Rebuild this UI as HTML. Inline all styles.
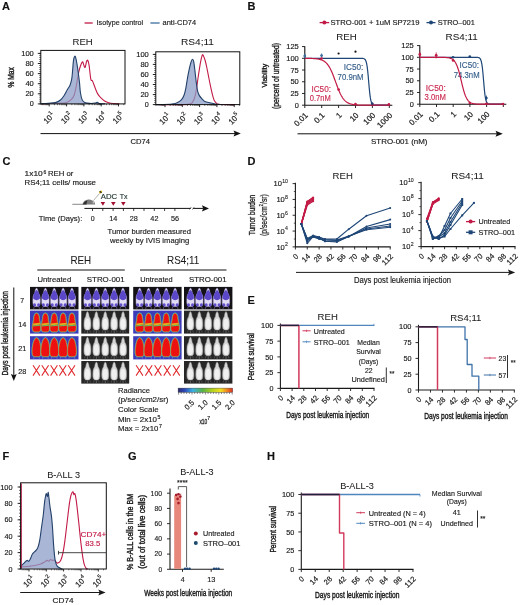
<!DOCTYPE html>
<html><head><meta charset="utf-8"><title>Figure</title>
<style>
html,body{margin:0;padding:0;background:#fff;}
body{width:520px;height:605px;overflow:hidden;}
svg{display:block;font-family:"Liberation Sans", sans-serif;will-change:transform;}
</style></head>
<body>
<svg width="520" height="605" viewBox="0 0 520 605">
<rect width="520" height="605" fill="#fff"/>
<text x="2.00" y="10.20" font-size="11" fill="#111" stroke="#111" stroke-width="0.15" font-weight="bold">A</text>
<line x1="84.60" y1="23.00" x2="92.70" y2="23.00" stroke="#c21a46" stroke-width="1.3"/>
<text x="96.60" y="25.30" font-size="7.4" fill="#1a1a1a" stroke="#1a1a1a" stroke-width="0.15" textLength="46.50" lengthAdjust="spacingAndGlyphs">Isotype control</text>
<line x1="150.40" y1="23.00" x2="159.60" y2="23.00" stroke="#3c6e9e" stroke-width="1.3"/>
<text x="162.60" y="25.30" font-size="7.4" fill="#1a1a1a" stroke="#1a1a1a" stroke-width="0.15" textLength="33.50" lengthAdjust="spacingAndGlyphs">anti-CD74</text>
<path d="M41.50,103.90 C43.80,103.80 51.27,103.48 55.30,103.30 C59.33,103.12 63.10,103.37 65.70,102.80 C68.30,102.23 69.47,101.25 70.90,99.90 C72.33,98.55 73.30,97.58 74.30,94.70 C75.30,91.82 76.25,85.97 76.90,82.60 C77.55,79.23 77.77,76.77 78.20,74.50 C78.63,72.23 78.98,70.78 79.50,69.00 C80.02,67.22 80.77,65.00 81.30,63.80 C81.83,62.60 82.27,61.55 82.70,61.80 C83.13,62.05 83.50,64.35 83.90,65.30 C84.30,66.25 84.67,68.08 85.10,67.50 C85.53,66.92 86.05,63.00 86.50,61.80 C86.95,60.60 87.37,59.72 87.80,60.30 C88.23,60.88 88.60,62.15 89.10,65.30 C89.60,68.45 90.23,76.60 90.80,79.20 C91.37,81.80 91.78,79.47 92.50,80.90 C93.22,82.33 94.23,85.63 95.10,87.80 C95.97,89.97 96.68,92.17 97.70,93.90 C98.72,95.63 99.90,96.92 101.20,98.20 C102.50,99.48 103.92,100.75 105.50,101.60 C107.08,102.45 108.40,102.92 110.70,103.30 C113.00,103.68 117.87,103.80 119.30,103.90" stroke="#c21a46" stroke-width="1.1" fill="none" stroke-linejoin="round"/>
<path d="M40.60,103.90 C41.90,103.78 45.95,103.42 48.40,103.20 C50.85,102.98 53.28,103.13 55.30,102.60 C57.32,102.07 59.05,101.13 60.50,100.00 C61.95,98.87 62.85,97.53 64.00,95.80 C65.15,94.07 66.40,91.37 67.40,89.60 C68.40,87.83 69.28,86.93 70.00,85.20 C70.72,83.47 71.27,81.65 71.70,79.20 C72.13,76.75 72.30,73.65 72.60,70.50 C72.90,67.35 73.15,62.67 73.50,60.30 C73.85,57.93 74.33,56.75 74.70,56.30 C75.07,55.85 75.33,56.38 75.70,57.60 C76.07,58.82 76.48,61.17 76.90,63.60 C77.32,66.03 77.77,69.03 78.20,72.20 C78.63,75.37 79.13,79.22 79.50,82.60 C79.87,85.98 79.97,89.67 80.40,92.50 C80.83,95.33 81.38,97.95 82.10,99.60 C82.82,101.25 83.40,101.77 84.70,102.40 C86.00,103.03 88.10,103.30 89.90,103.40 C91.70,103.50 94.27,103.20 95.50,103.00 C96.73,102.80 96.65,102.10 97.30,102.20 C97.95,102.30 98.12,103.32 99.40,103.60 C100.68,103.88 104.07,103.85 105.00,103.90" stroke="none" stroke-width="0" fill="#8b9cc6" stroke-linejoin="round" fill-opacity="0.74"/>
<path d="M40.60,103.90 C41.90,103.78 45.95,103.42 48.40,103.20 C50.85,102.98 53.28,103.13 55.30,102.60 C57.32,102.07 59.05,101.13 60.50,100.00 C61.95,98.87 62.85,97.53 64.00,95.80 C65.15,94.07 66.40,91.37 67.40,89.60 C68.40,87.83 69.28,86.93 70.00,85.20 C70.72,83.47 71.27,81.65 71.70,79.20 C72.13,76.75 72.30,73.65 72.60,70.50 C72.90,67.35 73.15,62.67 73.50,60.30 C73.85,57.93 74.33,56.75 74.70,56.30 C75.07,55.85 75.33,56.38 75.70,57.60 C76.07,58.82 76.48,61.17 76.90,63.60 C77.32,66.03 77.77,69.03 78.20,72.20 C78.63,75.37 79.13,79.22 79.50,82.60 C79.87,85.98 79.97,89.67 80.40,92.50 C80.83,95.33 81.38,97.95 82.10,99.60 C82.82,101.25 83.40,101.77 84.70,102.40 C86.00,103.03 88.10,103.30 89.90,103.40 C91.70,103.50 94.27,103.20 95.50,103.00 C96.73,102.80 96.65,102.10 97.30,102.20 C97.95,102.30 98.12,103.32 99.40,103.60 C100.68,103.88 104.07,103.85 105.00,103.90" stroke="#22406a" stroke-width="1.1" fill="none" stroke-linejoin="round"/>
<rect x="40.8" y="50.4" width="84.2" height="53.50000000000001" fill="none" stroke="#111" stroke-width="1"/>
<line x1="37.80" y1="53.40" x2="40.80" y2="53.40" stroke="#111" stroke-width="0.9"/>
<text x="33.80" y="55.90" font-size="7.3" fill="#1a1a1a" stroke="#1a1a1a" stroke-width="0.15" text-anchor="end" textLength="12.60" lengthAdjust="spacingAndGlyphs">100</text>
<line x1="37.80" y1="63.50" x2="40.80" y2="63.50" stroke="#111" stroke-width="0.9"/>
<text x="33.80" y="66.00" font-size="7.3" fill="#1a1a1a" stroke="#1a1a1a" stroke-width="0.15" text-anchor="end" textLength="8.40" lengthAdjust="spacingAndGlyphs">80</text>
<line x1="37.80" y1="73.60" x2="40.80" y2="73.60" stroke="#111" stroke-width="0.9"/>
<text x="33.80" y="76.10" font-size="7.3" fill="#1a1a1a" stroke="#1a1a1a" stroke-width="0.15" text-anchor="end" textLength="8.40" lengthAdjust="spacingAndGlyphs">60</text>
<line x1="37.80" y1="83.70" x2="40.80" y2="83.70" stroke="#111" stroke-width="0.9"/>
<text x="33.80" y="86.20" font-size="7.3" fill="#1a1a1a" stroke="#1a1a1a" stroke-width="0.15" text-anchor="end" textLength="8.40" lengthAdjust="spacingAndGlyphs">40</text>
<line x1="37.80" y1="93.80" x2="40.80" y2="93.80" stroke="#111" stroke-width="0.9"/>
<text x="33.80" y="96.30" font-size="7.3" fill="#1a1a1a" stroke="#1a1a1a" stroke-width="0.15" text-anchor="end" textLength="8.40" lengthAdjust="spacingAndGlyphs">20</text>
<line x1="37.80" y1="103.90" x2="40.80" y2="103.90" stroke="#111" stroke-width="0.9"/>
<text x="33.80" y="106.40" font-size="7.3" fill="#1a1a1a" stroke="#1a1a1a" stroke-width="0.15" text-anchor="end" textLength="4.00" lengthAdjust="spacingAndGlyphs">0</text>
<line x1="39.20" y1="103.90" x2="40.80" y2="103.90" stroke="#111" stroke-width="0.6"/>
<line x1="39.20" y1="101.88" x2="40.80" y2="101.88" stroke="#111" stroke-width="0.6"/>
<line x1="39.20" y1="99.86" x2="40.80" y2="99.86" stroke="#111" stroke-width="0.6"/>
<line x1="39.20" y1="97.84" x2="40.80" y2="97.84" stroke="#111" stroke-width="0.6"/>
<line x1="39.20" y1="95.82" x2="40.80" y2="95.82" stroke="#111" stroke-width="0.6"/>
<line x1="39.20" y1="93.80" x2="40.80" y2="93.80" stroke="#111" stroke-width="0.6"/>
<line x1="39.20" y1="91.78" x2="40.80" y2="91.78" stroke="#111" stroke-width="0.6"/>
<line x1="39.20" y1="89.76" x2="40.80" y2="89.76" stroke="#111" stroke-width="0.6"/>
<line x1="39.20" y1="87.74" x2="40.80" y2="87.74" stroke="#111" stroke-width="0.6"/>
<line x1="39.20" y1="85.72" x2="40.80" y2="85.72" stroke="#111" stroke-width="0.6"/>
<line x1="39.20" y1="83.70" x2="40.80" y2="83.70" stroke="#111" stroke-width="0.6"/>
<line x1="39.20" y1="81.68" x2="40.80" y2="81.68" stroke="#111" stroke-width="0.6"/>
<line x1="39.20" y1="79.66" x2="40.80" y2="79.66" stroke="#111" stroke-width="0.6"/>
<line x1="39.20" y1="77.64" x2="40.80" y2="77.64" stroke="#111" stroke-width="0.6"/>
<line x1="39.20" y1="75.62" x2="40.80" y2="75.62" stroke="#111" stroke-width="0.6"/>
<line x1="39.20" y1="73.60" x2="40.80" y2="73.60" stroke="#111" stroke-width="0.6"/>
<line x1="39.20" y1="71.58" x2="40.80" y2="71.58" stroke="#111" stroke-width="0.6"/>
<line x1="39.20" y1="69.56" x2="40.80" y2="69.56" stroke="#111" stroke-width="0.6"/>
<line x1="39.20" y1="67.54" x2="40.80" y2="67.54" stroke="#111" stroke-width="0.6"/>
<line x1="39.20" y1="65.52" x2="40.80" y2="65.52" stroke="#111" stroke-width="0.6"/>
<line x1="39.20" y1="63.50" x2="40.80" y2="63.50" stroke="#111" stroke-width="0.6"/>
<line x1="39.20" y1="61.48" x2="40.80" y2="61.48" stroke="#111" stroke-width="0.6"/>
<line x1="39.20" y1="59.46" x2="40.80" y2="59.46" stroke="#111" stroke-width="0.6"/>
<line x1="39.20" y1="57.44" x2="40.80" y2="57.44" stroke="#111" stroke-width="0.6"/>
<line x1="39.20" y1="55.42" x2="40.80" y2="55.42" stroke="#111" stroke-width="0.6"/>
<line x1="39.20" y1="53.40" x2="40.80" y2="53.40" stroke="#111" stroke-width="0.6"/>
<line x1="49.20" y1="103.90" x2="49.20" y2="106.40" stroke="#111" stroke-width="0.9"/>
<line x1="54.44" y1="103.90" x2="54.44" y2="105.20" stroke="#111" stroke-width="0.6"/>
<line x1="57.50" y1="103.90" x2="57.50" y2="105.20" stroke="#111" stroke-width="0.6"/>
<line x1="59.68" y1="103.90" x2="59.68" y2="105.20" stroke="#111" stroke-width="0.6"/>
<line x1="61.36" y1="103.90" x2="61.36" y2="105.20" stroke="#111" stroke-width="0.6"/>
<line x1="62.74" y1="103.90" x2="62.74" y2="105.20" stroke="#111" stroke-width="0.6"/>
<line x1="63.90" y1="103.90" x2="63.90" y2="105.20" stroke="#111" stroke-width="0.6"/>
<line x1="64.91" y1="103.90" x2="64.91" y2="105.20" stroke="#111" stroke-width="0.6"/>
<line x1="65.80" y1="103.90" x2="65.80" y2="105.20" stroke="#111" stroke-width="0.6"/>
<line x1="66.60" y1="103.90" x2="66.60" y2="106.40" stroke="#111" stroke-width="0.9"/>
<line x1="71.84" y1="103.90" x2="71.84" y2="105.20" stroke="#111" stroke-width="0.6"/>
<line x1="74.90" y1="103.90" x2="74.90" y2="105.20" stroke="#111" stroke-width="0.6"/>
<line x1="77.08" y1="103.90" x2="77.08" y2="105.20" stroke="#111" stroke-width="0.6"/>
<line x1="78.76" y1="103.90" x2="78.76" y2="105.20" stroke="#111" stroke-width="0.6"/>
<line x1="80.14" y1="103.90" x2="80.14" y2="105.20" stroke="#111" stroke-width="0.6"/>
<line x1="81.30" y1="103.90" x2="81.30" y2="105.20" stroke="#111" stroke-width="0.6"/>
<line x1="82.31" y1="103.90" x2="82.31" y2="105.20" stroke="#111" stroke-width="0.6"/>
<line x1="83.20" y1="103.90" x2="83.20" y2="105.20" stroke="#111" stroke-width="0.6"/>
<line x1="83.90" y1="103.90" x2="83.90" y2="106.40" stroke="#111" stroke-width="0.9"/>
<line x1="89.14" y1="103.90" x2="89.14" y2="105.20" stroke="#111" stroke-width="0.6"/>
<line x1="92.20" y1="103.90" x2="92.20" y2="105.20" stroke="#111" stroke-width="0.6"/>
<line x1="94.38" y1="103.90" x2="94.38" y2="105.20" stroke="#111" stroke-width="0.6"/>
<line x1="96.06" y1="103.90" x2="96.06" y2="105.20" stroke="#111" stroke-width="0.6"/>
<line x1="97.44" y1="103.90" x2="97.44" y2="105.20" stroke="#111" stroke-width="0.6"/>
<line x1="98.60" y1="103.90" x2="98.60" y2="105.20" stroke="#111" stroke-width="0.6"/>
<line x1="99.61" y1="103.90" x2="99.61" y2="105.20" stroke="#111" stroke-width="0.6"/>
<line x1="100.50" y1="103.90" x2="100.50" y2="105.20" stroke="#111" stroke-width="0.6"/>
<line x1="101.20" y1="103.90" x2="101.20" y2="106.40" stroke="#111" stroke-width="0.9"/>
<line x1="106.44" y1="103.90" x2="106.44" y2="105.20" stroke="#111" stroke-width="0.6"/>
<line x1="109.50" y1="103.90" x2="109.50" y2="105.20" stroke="#111" stroke-width="0.6"/>
<line x1="111.68" y1="103.90" x2="111.68" y2="105.20" stroke="#111" stroke-width="0.6"/>
<line x1="113.36" y1="103.90" x2="113.36" y2="105.20" stroke="#111" stroke-width="0.6"/>
<line x1="114.74" y1="103.90" x2="114.74" y2="105.20" stroke="#111" stroke-width="0.6"/>
<line x1="115.90" y1="103.90" x2="115.90" y2="105.20" stroke="#111" stroke-width="0.6"/>
<line x1="116.91" y1="103.90" x2="116.91" y2="105.20" stroke="#111" stroke-width="0.6"/>
<line x1="117.80" y1="103.90" x2="117.80" y2="105.20" stroke="#111" stroke-width="0.6"/>
<line x1="118.50" y1="103.90" x2="118.50" y2="106.40" stroke="#111" stroke-width="0.9"/>
<line x1="123.74" y1="103.90" x2="123.74" y2="105.20" stroke="#111" stroke-width="0.6"/>
<line x1="42.28" y1="103.90" x2="42.28" y2="105.20" stroke="#111" stroke-width="0.6"/>
<line x1="43.96" y1="103.90" x2="43.96" y2="105.20" stroke="#111" stroke-width="0.6"/>
<line x1="45.34" y1="103.90" x2="45.34" y2="105.20" stroke="#111" stroke-width="0.6"/>
<line x1="46.50" y1="103.90" x2="46.50" y2="105.20" stroke="#111" stroke-width="0.6"/>
<line x1="47.51" y1="103.90" x2="47.51" y2="105.20" stroke="#111" stroke-width="0.6"/>
<line x1="48.40" y1="103.90" x2="48.40" y2="105.20" stroke="#111" stroke-width="0.6"/>
<g transform="translate(46.80,124.30) rotate(-45)"><text x="0" y="0" font-size="8.0" fill="#1a1a1a" stroke="#1a1a1a" stroke-width="0.2" textLength="8.6" lengthAdjust="spacingAndGlyphs">10</text><text x="9.0" y="-3.8" font-size="5.6" fill="#1a1a1a" stroke="#1a1a1a" stroke-width="0.15">1</text></g>
<g transform="translate(64.20,124.30) rotate(-45)"><text x="0" y="0" font-size="8.0" fill="#1a1a1a" stroke="#1a1a1a" stroke-width="0.2" textLength="8.6" lengthAdjust="spacingAndGlyphs">10</text><text x="9.0" y="-3.8" font-size="5.6" fill="#1a1a1a" stroke="#1a1a1a" stroke-width="0.15">2</text></g>
<g transform="translate(81.50,124.30) rotate(-45)"><text x="0" y="0" font-size="8.0" fill="#1a1a1a" stroke="#1a1a1a" stroke-width="0.2" textLength="8.6" lengthAdjust="spacingAndGlyphs">10</text><text x="9.0" y="-3.8" font-size="5.6" fill="#1a1a1a" stroke="#1a1a1a" stroke-width="0.15">3</text></g>
<g transform="translate(98.80,124.30) rotate(-45)"><text x="0" y="0" font-size="8.0" fill="#1a1a1a" stroke="#1a1a1a" stroke-width="0.2" textLength="8.6" lengthAdjust="spacingAndGlyphs">10</text><text x="9.0" y="-3.8" font-size="5.6" fill="#1a1a1a" stroke="#1a1a1a" stroke-width="0.15">4</text></g>
<g transform="translate(116.10,124.30) rotate(-45)"><text x="0" y="0" font-size="8.0" fill="#1a1a1a" stroke="#1a1a1a" stroke-width="0.2" textLength="8.6" lengthAdjust="spacingAndGlyphs">10</text><text x="9.0" y="-3.8" font-size="5.6" fill="#1a1a1a" stroke="#1a1a1a" stroke-width="0.15">5</text></g>
<text x="72.50" y="44.60" font-size="9.6" fill="#1a1a1a" stroke="#1a1a1a" stroke-width="0.05" textLength="20.20" lengthAdjust="spacingAndGlyphs">REH</text>
<text x="14.00" y="87.40" font-size="8.4" fill="#1a1a1a" stroke="#1a1a1a" stroke-width="0.4" textLength="20.20" lengthAdjust="spacingAndGlyphs" transform="rotate(-90 14.00 87.40)">% Max</text>
<path d="M160.00,104.60 C164.60,104.57 182.13,104.88 187.60,104.40 C193.07,103.92 191.50,103.32 192.80,101.70 C194.10,100.08 194.68,97.60 195.40,94.70 C196.12,91.80 196.52,88.05 197.10,84.30 C197.68,80.55 198.32,75.95 198.90,72.20 C199.48,68.45 200.08,64.53 200.60,61.80 C201.12,59.07 201.63,56.97 202.00,55.80 C202.37,54.63 202.45,54.52 202.80,54.80 C203.15,55.08 203.68,56.47 204.10,57.50 C204.52,58.53 204.87,59.42 205.30,61.00 C205.73,62.58 206.18,64.55 206.70,67.00 C207.22,69.45 207.77,72.52 208.40,75.70 C209.03,78.88 209.78,82.78 210.50,86.10 C211.22,89.42 212.05,93.15 212.70,95.60 C213.35,98.05 213.68,99.45 214.40,100.80 C215.12,102.15 215.98,103.08 217.00,103.70 C218.02,104.32 217.50,104.35 220.50,104.50 C223.50,104.65 232.58,104.58 235.00,104.60" stroke="#c21a46" stroke-width="1.1" fill="none" stroke-linejoin="round"/>
<path d="M156.00,104.60 C158.33,104.53 167.03,104.33 170.00,104.20 C172.97,104.07 172.60,104.03 173.80,103.80 C175.00,103.57 175.90,103.48 177.20,102.80 C178.50,102.12 180.43,101.05 181.60,99.70 C182.77,98.35 183.48,96.68 184.20,94.70 C184.92,92.72 185.33,90.68 185.90,87.80 C186.47,84.92 187.03,80.57 187.60,77.40 C188.17,74.23 188.72,71.40 189.30,68.80 C189.88,66.20 190.57,63.40 191.10,61.80 C191.63,60.20 192.07,59.23 192.50,59.20 C192.93,59.17 193.30,59.72 193.70,61.60 C194.10,63.48 194.47,67.00 194.90,70.50 C195.33,74.00 195.83,79.13 196.30,82.60 C196.77,86.07 197.18,89.13 197.70,91.30 C198.22,93.47 198.63,94.30 199.40,95.60 C200.17,96.90 201.38,98.12 202.30,99.10 C203.22,100.08 203.60,100.87 204.90,101.50 C206.20,102.13 208.37,102.48 210.10,102.90 C211.83,103.32 213.32,103.72 215.30,104.00 C217.28,104.28 220.88,104.50 222.00,104.60" stroke="none" stroke-width="0" fill="#8b9cc6" stroke-linejoin="round" fill-opacity="0.74"/>
<path d="M156.00,104.60 C158.33,104.53 167.03,104.33 170.00,104.20 C172.97,104.07 172.60,104.03 173.80,103.80 C175.00,103.57 175.90,103.48 177.20,102.80 C178.50,102.12 180.43,101.05 181.60,99.70 C182.77,98.35 183.48,96.68 184.20,94.70 C184.92,92.72 185.33,90.68 185.90,87.80 C186.47,84.92 187.03,80.57 187.60,77.40 C188.17,74.23 188.72,71.40 189.30,68.80 C189.88,66.20 190.57,63.40 191.10,61.80 C191.63,60.20 192.07,59.23 192.50,59.20 C192.93,59.17 193.30,59.72 193.70,61.60 C194.10,63.48 194.47,67.00 194.90,70.50 C195.33,74.00 195.83,79.13 196.30,82.60 C196.77,86.07 197.18,89.13 197.70,91.30 C198.22,93.47 198.63,94.30 199.40,95.60 C200.17,96.90 201.38,98.12 202.30,99.10 C203.22,100.08 203.60,100.87 204.90,101.50 C206.20,102.13 208.37,102.48 210.10,102.90 C211.83,103.32 213.32,103.72 215.30,104.00 C217.28,104.28 220.88,104.50 222.00,104.60" stroke="#22406a" stroke-width="1.1" fill="none" stroke-linejoin="round"/>
<rect x="155.8" y="51.8" width="84.0" height="52.8" fill="none" stroke="#111" stroke-width="1"/>
<line x1="152.80" y1="54.40" x2="155.80" y2="54.40" stroke="#111" stroke-width="0.9"/>
<text x="148.80" y="56.90" font-size="7.3" fill="#1a1a1a" stroke="#1a1a1a" stroke-width="0.15" text-anchor="end" textLength="12.60" lengthAdjust="spacingAndGlyphs">100</text>
<line x1="152.80" y1="64.40" x2="155.80" y2="64.40" stroke="#111" stroke-width="0.9"/>
<text x="148.80" y="66.90" font-size="7.3" fill="#1a1a1a" stroke="#1a1a1a" stroke-width="0.15" text-anchor="end" textLength="8.40" lengthAdjust="spacingAndGlyphs">80</text>
<line x1="152.80" y1="74.50" x2="155.80" y2="74.50" stroke="#111" stroke-width="0.9"/>
<text x="148.80" y="77.00" font-size="7.3" fill="#1a1a1a" stroke="#1a1a1a" stroke-width="0.15" text-anchor="end" textLength="8.40" lengthAdjust="spacingAndGlyphs">60</text>
<line x1="152.80" y1="84.50" x2="155.80" y2="84.50" stroke="#111" stroke-width="0.9"/>
<text x="148.80" y="87.00" font-size="7.3" fill="#1a1a1a" stroke="#1a1a1a" stroke-width="0.15" text-anchor="end" textLength="8.40" lengthAdjust="spacingAndGlyphs">40</text>
<line x1="152.80" y1="94.60" x2="155.80" y2="94.60" stroke="#111" stroke-width="0.9"/>
<text x="148.80" y="97.10" font-size="7.3" fill="#1a1a1a" stroke="#1a1a1a" stroke-width="0.15" text-anchor="end" textLength="8.40" lengthAdjust="spacingAndGlyphs">20</text>
<line x1="152.80" y1="104.60" x2="155.80" y2="104.60" stroke="#111" stroke-width="0.9"/>
<text x="148.80" y="107.10" font-size="7.3" fill="#1a1a1a" stroke="#1a1a1a" stroke-width="0.15" text-anchor="end" textLength="4.00" lengthAdjust="spacingAndGlyphs">0</text>
<line x1="154.20" y1="104.60" x2="155.80" y2="104.60" stroke="#111" stroke-width="0.6"/>
<line x1="154.20" y1="102.59" x2="155.80" y2="102.59" stroke="#111" stroke-width="0.6"/>
<line x1="154.20" y1="100.58" x2="155.80" y2="100.58" stroke="#111" stroke-width="0.6"/>
<line x1="154.20" y1="98.58" x2="155.80" y2="98.58" stroke="#111" stroke-width="0.6"/>
<line x1="154.20" y1="96.57" x2="155.80" y2="96.57" stroke="#111" stroke-width="0.6"/>
<line x1="154.20" y1="94.56" x2="155.80" y2="94.56" stroke="#111" stroke-width="0.6"/>
<line x1="154.20" y1="92.55" x2="155.80" y2="92.55" stroke="#111" stroke-width="0.6"/>
<line x1="154.20" y1="90.54" x2="155.80" y2="90.54" stroke="#111" stroke-width="0.6"/>
<line x1="154.20" y1="88.54" x2="155.80" y2="88.54" stroke="#111" stroke-width="0.6"/>
<line x1="154.20" y1="86.53" x2="155.80" y2="86.53" stroke="#111" stroke-width="0.6"/>
<line x1="154.20" y1="84.52" x2="155.80" y2="84.52" stroke="#111" stroke-width="0.6"/>
<line x1="154.20" y1="82.51" x2="155.80" y2="82.51" stroke="#111" stroke-width="0.6"/>
<line x1="154.20" y1="80.50" x2="155.80" y2="80.50" stroke="#111" stroke-width="0.6"/>
<line x1="154.20" y1="78.50" x2="155.80" y2="78.50" stroke="#111" stroke-width="0.6"/>
<line x1="154.20" y1="76.49" x2="155.80" y2="76.49" stroke="#111" stroke-width="0.6"/>
<line x1="154.20" y1="74.48" x2="155.80" y2="74.48" stroke="#111" stroke-width="0.6"/>
<line x1="154.20" y1="72.47" x2="155.80" y2="72.47" stroke="#111" stroke-width="0.6"/>
<line x1="154.20" y1="70.46" x2="155.80" y2="70.46" stroke="#111" stroke-width="0.6"/>
<line x1="154.20" y1="68.46" x2="155.80" y2="68.46" stroke="#111" stroke-width="0.6"/>
<line x1="154.20" y1="66.45" x2="155.80" y2="66.45" stroke="#111" stroke-width="0.6"/>
<line x1="154.20" y1="64.44" x2="155.80" y2="64.44" stroke="#111" stroke-width="0.6"/>
<line x1="154.20" y1="62.43" x2="155.80" y2="62.43" stroke="#111" stroke-width="0.6"/>
<line x1="154.20" y1="60.42" x2="155.80" y2="60.42" stroke="#111" stroke-width="0.6"/>
<line x1="154.20" y1="58.42" x2="155.80" y2="58.42" stroke="#111" stroke-width="0.6"/>
<line x1="154.20" y1="56.41" x2="155.80" y2="56.41" stroke="#111" stroke-width="0.6"/>
<line x1="154.20" y1="54.40" x2="155.80" y2="54.40" stroke="#111" stroke-width="0.6"/>
<line x1="165.00" y1="104.60" x2="165.00" y2="107.10" stroke="#111" stroke-width="0.9"/>
<line x1="170.21" y1="104.60" x2="170.21" y2="105.90" stroke="#111" stroke-width="0.6"/>
<line x1="173.25" y1="104.60" x2="173.25" y2="105.90" stroke="#111" stroke-width="0.6"/>
<line x1="175.42" y1="104.60" x2="175.42" y2="105.90" stroke="#111" stroke-width="0.6"/>
<line x1="177.09" y1="104.60" x2="177.09" y2="105.90" stroke="#111" stroke-width="0.6"/>
<line x1="178.46" y1="104.60" x2="178.46" y2="105.90" stroke="#111" stroke-width="0.6"/>
<line x1="179.62" y1="104.60" x2="179.62" y2="105.90" stroke="#111" stroke-width="0.6"/>
<line x1="180.62" y1="104.60" x2="180.62" y2="105.90" stroke="#111" stroke-width="0.6"/>
<line x1="181.51" y1="104.60" x2="181.51" y2="105.90" stroke="#111" stroke-width="0.6"/>
<line x1="182.30" y1="104.60" x2="182.30" y2="107.10" stroke="#111" stroke-width="0.9"/>
<line x1="187.51" y1="104.60" x2="187.51" y2="105.90" stroke="#111" stroke-width="0.6"/>
<line x1="190.55" y1="104.60" x2="190.55" y2="105.90" stroke="#111" stroke-width="0.6"/>
<line x1="192.72" y1="104.60" x2="192.72" y2="105.90" stroke="#111" stroke-width="0.6"/>
<line x1="194.39" y1="104.60" x2="194.39" y2="105.90" stroke="#111" stroke-width="0.6"/>
<line x1="195.76" y1="104.60" x2="195.76" y2="105.90" stroke="#111" stroke-width="0.6"/>
<line x1="196.92" y1="104.60" x2="196.92" y2="105.90" stroke="#111" stroke-width="0.6"/>
<line x1="197.92" y1="104.60" x2="197.92" y2="105.90" stroke="#111" stroke-width="0.6"/>
<line x1="198.81" y1="104.60" x2="198.81" y2="105.90" stroke="#111" stroke-width="0.6"/>
<line x1="199.60" y1="104.60" x2="199.60" y2="107.10" stroke="#111" stroke-width="0.9"/>
<line x1="204.81" y1="104.60" x2="204.81" y2="105.90" stroke="#111" stroke-width="0.6"/>
<line x1="207.85" y1="104.60" x2="207.85" y2="105.90" stroke="#111" stroke-width="0.6"/>
<line x1="210.02" y1="104.60" x2="210.02" y2="105.90" stroke="#111" stroke-width="0.6"/>
<line x1="211.69" y1="104.60" x2="211.69" y2="105.90" stroke="#111" stroke-width="0.6"/>
<line x1="213.06" y1="104.60" x2="213.06" y2="105.90" stroke="#111" stroke-width="0.6"/>
<line x1="214.22" y1="104.60" x2="214.22" y2="105.90" stroke="#111" stroke-width="0.6"/>
<line x1="215.22" y1="104.60" x2="215.22" y2="105.90" stroke="#111" stroke-width="0.6"/>
<line x1="216.11" y1="104.60" x2="216.11" y2="105.90" stroke="#111" stroke-width="0.6"/>
<line x1="216.90" y1="104.60" x2="216.90" y2="107.10" stroke="#111" stroke-width="0.9"/>
<line x1="222.11" y1="104.60" x2="222.11" y2="105.90" stroke="#111" stroke-width="0.6"/>
<line x1="225.15" y1="104.60" x2="225.15" y2="105.90" stroke="#111" stroke-width="0.6"/>
<line x1="227.32" y1="104.60" x2="227.32" y2="105.90" stroke="#111" stroke-width="0.6"/>
<line x1="228.99" y1="104.60" x2="228.99" y2="105.90" stroke="#111" stroke-width="0.6"/>
<line x1="230.36" y1="104.60" x2="230.36" y2="105.90" stroke="#111" stroke-width="0.6"/>
<line x1="231.52" y1="104.60" x2="231.52" y2="105.90" stroke="#111" stroke-width="0.6"/>
<line x1="232.52" y1="104.60" x2="232.52" y2="105.90" stroke="#111" stroke-width="0.6"/>
<line x1="233.41" y1="104.60" x2="233.41" y2="105.90" stroke="#111" stroke-width="0.6"/>
<line x1="234.20" y1="104.60" x2="234.20" y2="107.10" stroke="#111" stroke-width="0.9"/>
<line x1="239.41" y1="104.60" x2="239.41" y2="105.90" stroke="#111" stroke-width="0.6"/>
<line x1="155.95" y1="104.60" x2="155.95" y2="105.90" stroke="#111" stroke-width="0.6"/>
<line x1="158.12" y1="104.60" x2="158.12" y2="105.90" stroke="#111" stroke-width="0.6"/>
<line x1="159.79" y1="104.60" x2="159.79" y2="105.90" stroke="#111" stroke-width="0.6"/>
<line x1="161.16" y1="104.60" x2="161.16" y2="105.90" stroke="#111" stroke-width="0.6"/>
<line x1="162.32" y1="104.60" x2="162.32" y2="105.90" stroke="#111" stroke-width="0.6"/>
<line x1="163.32" y1="104.60" x2="163.32" y2="105.90" stroke="#111" stroke-width="0.6"/>
<line x1="164.21" y1="104.60" x2="164.21" y2="105.90" stroke="#111" stroke-width="0.6"/>
<g transform="translate(162.60,125.00) rotate(-45)"><text x="0" y="0" font-size="8.0" fill="#1a1a1a" stroke="#1a1a1a" stroke-width="0.2" textLength="8.6" lengthAdjust="spacingAndGlyphs">10</text><text x="9.0" y="-3.8" font-size="5.6" fill="#1a1a1a" stroke="#1a1a1a" stroke-width="0.15">1</text></g>
<g transform="translate(179.90,125.00) rotate(-45)"><text x="0" y="0" font-size="8.0" fill="#1a1a1a" stroke="#1a1a1a" stroke-width="0.2" textLength="8.6" lengthAdjust="spacingAndGlyphs">10</text><text x="9.0" y="-3.8" font-size="5.6" fill="#1a1a1a" stroke="#1a1a1a" stroke-width="0.15">2</text></g>
<g transform="translate(197.20,125.00) rotate(-45)"><text x="0" y="0" font-size="8.0" fill="#1a1a1a" stroke="#1a1a1a" stroke-width="0.2" textLength="8.6" lengthAdjust="spacingAndGlyphs">10</text><text x="9.0" y="-3.8" font-size="5.6" fill="#1a1a1a" stroke="#1a1a1a" stroke-width="0.15">3</text></g>
<g transform="translate(214.50,125.00) rotate(-45)"><text x="0" y="0" font-size="8.0" fill="#1a1a1a" stroke="#1a1a1a" stroke-width="0.2" textLength="8.6" lengthAdjust="spacingAndGlyphs">10</text><text x="9.0" y="-3.8" font-size="5.6" fill="#1a1a1a" stroke="#1a1a1a" stroke-width="0.15">4</text></g>
<g transform="translate(231.80,125.00) rotate(-45)"><text x="0" y="0" font-size="8.0" fill="#1a1a1a" stroke="#1a1a1a" stroke-width="0.2" textLength="8.6" lengthAdjust="spacingAndGlyphs">10</text><text x="9.0" y="-3.8" font-size="5.6" fill="#1a1a1a" stroke="#1a1a1a" stroke-width="0.15">5</text></g>
<text x="181.00" y="45.30" font-size="9.6" fill="#1a1a1a" stroke="#1a1a1a" stroke-width="0.05" textLength="33.00" lengthAdjust="spacingAndGlyphs">RS4;11</text>
<line x1="40.50" y1="133.60" x2="236.00" y2="133.60" stroke="#111" stroke-width="1.0"/>
<path d="M240.8,133.6 L233.5,130.6 L234.8,133.6 L233.5,136.6 Z" fill="#111"/>
<text x="130.50" y="144.00" font-size="7.4" fill="#1a1a1a" stroke="#1a1a1a" stroke-width="0.15" textLength="19.50" lengthAdjust="spacingAndGlyphs">CD74</text>
<text x="247.50" y="10.20" font-size="11" fill="#111" stroke="#111" stroke-width="0.15" font-weight="bold">B</text>
<line x1="319.60" y1="22.60" x2="329.20" y2="22.60" stroke="#c21a46" stroke-width="1.3"/>
<circle cx="324.4" cy="22.6" r="2.0" fill="#c21a46"/>
<text x="330.50" y="25.10" font-size="7.4" fill="#1a1a1a" stroke="#1a1a1a" stroke-width="0.15" textLength="89.00" lengthAdjust="spacingAndGlyphs">STRO-001 + 1uM SP7219</text>
<line x1="426.50" y1="22.60" x2="435.50" y2="22.60" stroke="#1e4676" stroke-width="1.3"/>
<circle cx="431" cy="22.6" r="2.0" fill="#1e4676"/>
<text x="437.80" y="25.10" font-size="7.4" fill="#1a1a1a" stroke="#1a1a1a" stroke-width="0.15" textLength="37.00" lengthAdjust="spacingAndGlyphs">STRO–001</text>
<line x1="304.80" y1="46.27" x2="304.80" y2="105.20" stroke="#111" stroke-width="1.1"/>
<line x1="302.00" y1="105.20" x2="304.80" y2="105.20" stroke="#111" stroke-width="0.9"/>
<text x="298.80" y="107.70" font-size="7.3" fill="#1a1a1a" stroke="#1a1a1a" stroke-width="0.15" text-anchor="end" textLength="4.10" lengthAdjust="spacingAndGlyphs">0</text>
<line x1="302.00" y1="93.47" x2="304.80" y2="93.47" stroke="#111" stroke-width="0.9"/>
<text x="298.80" y="95.97" font-size="7.3" fill="#1a1a1a" stroke="#1a1a1a" stroke-width="0.15" text-anchor="end" textLength="8.40" lengthAdjust="spacingAndGlyphs">25</text>
<line x1="302.00" y1="81.75" x2="304.80" y2="81.75" stroke="#111" stroke-width="0.9"/>
<text x="298.80" y="84.25" font-size="7.3" fill="#1a1a1a" stroke="#1a1a1a" stroke-width="0.15" text-anchor="end" textLength="8.40" lengthAdjust="spacingAndGlyphs">50</text>
<line x1="302.00" y1="70.03" x2="304.80" y2="70.03" stroke="#111" stroke-width="0.9"/>
<text x="298.80" y="72.53" font-size="7.3" fill="#1a1a1a" stroke="#1a1a1a" stroke-width="0.15" text-anchor="end" textLength="8.40" lengthAdjust="spacingAndGlyphs">75</text>
<line x1="302.00" y1="58.30" x2="304.80" y2="58.30" stroke="#111" stroke-width="0.9"/>
<text x="298.80" y="60.80" font-size="7.3" fill="#1a1a1a" stroke="#1a1a1a" stroke-width="0.15" text-anchor="end" textLength="12.60" lengthAdjust="spacingAndGlyphs">100</text>
<line x1="302.00" y1="46.57" x2="304.80" y2="46.57" stroke="#111" stroke-width="0.9"/>
<text x="298.80" y="49.07" font-size="7.3" fill="#1a1a1a" stroke="#1a1a1a" stroke-width="0.15" text-anchor="end" textLength="12.60" lengthAdjust="spacingAndGlyphs">125</text>
<line x1="304.80" y1="105.20" x2="392.30" y2="105.20" stroke="#111" stroke-width="1.1"/>
<line x1="304.80" y1="105.20" x2="304.80" y2="108.00" stroke="#111" stroke-width="0.9"/>
<line x1="321.70" y1="105.20" x2="321.70" y2="108.00" stroke="#111" stroke-width="0.9"/>
<line x1="338.60" y1="105.20" x2="338.60" y2="108.00" stroke="#111" stroke-width="0.9"/>
<line x1="355.50" y1="105.20" x2="355.50" y2="108.00" stroke="#111" stroke-width="0.9"/>
<line x1="372.40" y1="105.20" x2="372.40" y2="108.00" stroke="#111" stroke-width="0.9"/>
<line x1="389.30" y1="105.20" x2="389.30" y2="108.00" stroke="#111" stroke-width="0.9"/>
<g transform="translate(308.40,115.80) rotate(-45)"><text x="0" y="0" font-size="8.0" fill="#1a1a1a" stroke="#1a1a1a" stroke-width="0.2" text-anchor="end" textLength="15.6" lengthAdjust="spacingAndGlyphs">0.01</text></g>
<g transform="translate(325.30,115.80) rotate(-45)"><text x="0" y="0" font-size="8.0" fill="#1a1a1a" stroke="#1a1a1a" stroke-width="0.2" text-anchor="end" textLength="11.4" lengthAdjust="spacingAndGlyphs">0.1</text></g>
<g transform="translate(342.20,115.80) rotate(-45)"><text x="0" y="0" font-size="8.0" fill="#1a1a1a" stroke="#1a1a1a" stroke-width="0.2" text-anchor="end" textLength="4.3" lengthAdjust="spacingAndGlyphs">1</text></g>
<g transform="translate(359.10,115.80) rotate(-45)"><text x="0" y="0" font-size="8.0" fill="#1a1a1a" stroke="#1a1a1a" stroke-width="0.2" text-anchor="end" textLength="8.8" lengthAdjust="spacingAndGlyphs">10</text></g>
<g transform="translate(376.00,115.80) rotate(-45)"><text x="0" y="0" font-size="8.0" fill="#1a1a1a" stroke="#1a1a1a" stroke-width="0.2" text-anchor="end" textLength="13.3" lengthAdjust="spacingAndGlyphs">100</text></g>
<g transform="translate(392.90,115.80) rotate(-45)"><text x="0" y="0" font-size="8.0" fill="#1a1a1a" stroke="#1a1a1a" stroke-width="0.2" text-anchor="end" textLength="17.8" lengthAdjust="spacingAndGlyphs">1000</text></g>
<text x="336.20" y="40.00" font-size="9.6" fill="#1a1a1a" stroke="#1a1a1a" stroke-width="0.05" textLength="20.50" lengthAdjust="spacingAndGlyphs">REH</text>
<text x="343.80" y="70.30" font-size="8.6" fill="#38618c" stroke="#38618c" stroke-width="0.15" textLength="19.60" lengthAdjust="spacingAndGlyphs">IC50:</text>
<text x="337.60" y="80.30" font-size="8.6" fill="#38618c" stroke="#38618c" stroke-width="0.15" textLength="26.00" lengthAdjust="spacingAndGlyphs">70.9nM</text>
<text x="311.40" y="91.50" font-size="8.6" fill="#cc2c52" stroke="#cc2c52" stroke-width="0.15" textLength="19.60" lengthAdjust="spacingAndGlyphs">IC50:</text>
<text x="309.80" y="101.20" font-size="8.6" fill="#cc2c52" stroke="#cc2c52" stroke-width="0.15" textLength="21.00" lengthAdjust="spacingAndGlyphs">0.7nM</text>
<path d="M304.80,58.30 L305.33,58.30 L305.86,58.30 L306.38,58.30 L306.91,58.30 L307.44,58.30 L307.97,58.30 L308.50,58.30 L309.03,58.30 L309.55,58.30 L310.08,58.30 L310.61,58.30 L311.14,58.30 L311.67,58.30 L312.19,58.30 L312.72,58.30 L313.25,58.30 L313.78,58.30 L314.31,58.30 L314.83,58.30 L315.36,58.30 L315.89,58.30 L316.42,58.30 L316.95,58.30 L317.48,58.30 L318.00,58.30 L318.53,58.30 L319.06,58.30 L319.59,58.30 L320.12,58.30 L320.64,58.30 L321.17,58.30 L321.70,58.30 L322.23,58.30 L322.76,58.30 L323.28,58.30 L323.81,58.30 L324.34,58.30 L324.87,58.30 L325.40,58.30 L325.93,58.30 L326.45,58.30 L326.98,58.30 L327.51,58.30 L328.04,58.30 L328.57,58.30 L329.09,58.30 L329.62,58.30 L330.15,58.30 L330.68,58.30 L331.21,58.30 L331.73,58.30 L332.26,58.30 L332.79,58.30 L333.32,58.30 L333.85,58.30 L334.38,58.30 L334.90,58.30 L335.43,58.30 L335.96,58.30 L336.49,58.30 L337.02,58.30 L337.54,58.30 L338.07,58.30 L338.60,58.30 L339.13,58.30 L339.66,58.30 L340.18,58.30 L340.71,58.30 L341.24,58.30 L341.77,58.30 L342.30,58.30 L342.82,58.30 L343.35,58.30 L343.88,58.30 L344.41,58.30 L344.94,58.30 L345.47,58.30 L345.99,58.30 L346.52,58.30 L347.05,58.30 L347.58,58.30 L348.11,58.30 L348.63,58.30 L349.16,58.30 L349.69,58.30 L350.22,58.30 L350.75,58.30 L351.28,58.30 L351.80,58.30 L352.33,58.30 L352.86,58.30 L353.39,58.30 L353.92,58.30 L354.44,58.30 L354.97,58.30 L355.50,58.30 L356.03,58.30 L356.56,58.30 L357.08,58.30 L357.61,58.30 L358.14,58.30 L358.67,58.30 L359.20,58.30 L359.73,58.31 L360.25,58.31 L360.78,58.32 L361.31,58.33 L361.84,58.35 L362.37,58.38 L362.89,58.44 L363.42,58.53 L363.95,58.70 L364.48,58.97 L365.01,59.43 L365.53,60.20 L366.06,61.44 L366.59,63.40 L367.12,66.36 L367.65,70.54 L368.18,75.90 L368.70,82.00 L369.23,88.07 L369.76,93.34 L370.29,97.42 L370.82,100.29 L371.34,102.18 L371.87,103.38 L372.40,104.11 L372.93,104.55 L373.46,104.82 L373.98,104.97 L374.51,105.07 L375.04,105.12 L375.57,105.15 L376.10,105.17 L376.62,105.18 L377.15,105.19 L377.68,105.19 L378.21,105.20 L378.74,105.20 L379.27,105.20 L379.79,105.20 L380.32,105.20 L380.85,105.20 L381.38,105.20 L381.91,105.20 L382.43,105.20 L382.96,105.20 L383.49,105.20 L384.02,105.20 L384.55,105.20 L385.08,105.20 L385.60,105.20 L386.13,105.20 L386.66,105.20 L387.19,105.20 L387.72,105.20 L388.24,105.20 L388.77,105.20 L389.30,105.20" stroke="#1e4676" stroke-width="1.2" fill="none" stroke-linejoin="round"/>
<path d="M304.80,58.33 L305.33,58.34 L305.86,58.34 L306.38,58.35 L306.91,58.35 L307.44,58.36 L307.97,58.37 L308.50,58.38 L309.03,58.39 L309.55,58.40 L310.08,58.41 L310.61,58.43 L311.14,58.44 L311.67,58.46 L312.19,58.49 L312.72,58.51 L313.25,58.54 L313.78,58.57 L314.31,58.60 L314.83,58.64 L315.36,58.69 L315.89,58.74 L316.42,58.80 L316.95,58.87 L317.48,58.94 L318.00,59.02 L318.53,59.12 L319.06,59.23 L319.59,59.35 L320.12,59.48 L320.64,59.64 L321.17,59.81 L321.70,60.00 L322.23,60.22 L322.76,60.46 L323.28,60.73 L323.81,61.04 L324.34,61.38 L324.87,61.76 L325.40,62.18 L325.93,62.65 L326.45,63.17 L326.98,63.74 L327.51,64.38 L328.04,65.07 L328.57,65.82 L329.09,66.65 L329.62,67.54 L330.15,68.50 L330.68,69.54 L331.21,70.64 L331.73,71.81 L332.26,73.04 L332.79,74.33 L333.32,75.68 L333.85,77.07 L334.38,78.49 L334.90,79.94 L335.43,81.40 L335.96,82.86 L336.49,84.32 L337.02,85.76 L337.54,87.16 L338.07,88.53 L338.60,89.85 L339.13,91.11 L339.66,92.31 L340.18,93.44 L340.71,94.51 L341.24,95.51 L341.77,96.43 L342.30,97.29 L342.82,98.08 L343.35,98.80 L343.88,99.46 L344.41,100.06 L344.94,100.61 L345.47,101.10 L345.99,101.54 L346.52,101.94 L347.05,102.30 L347.58,102.62 L348.11,102.91 L348.63,103.17 L349.16,103.40 L349.69,103.60 L350.22,103.78 L350.75,103.95 L351.28,104.09 L351.80,104.22 L352.33,104.33 L352.86,104.43 L353.39,104.52 L353.92,104.60 L354.44,104.67 L354.97,104.73 L355.50,104.79 L356.03,104.83 L356.56,104.88 L357.08,104.91 L357.61,104.95 L358.14,104.98 L358.67,105.00 L359.20,105.03 L359.73,105.05 L360.25,105.06 L360.78,105.08 L361.31,105.09 L361.84,105.11 L362.37,105.12 L362.89,105.13 L363.42,105.14 L363.95,105.14 L364.48,105.15 L365.01,105.16 L365.53,105.16 L366.06,105.17 L366.59,105.17 L367.12,105.17 L367.65,105.18 L368.18,105.18 L368.70,105.18 L369.23,105.18 L369.76,105.19 L370.29,105.19 L370.82,105.19 L371.34,105.19 L371.87,105.19 L372.40,105.19 L372.93,105.19 L373.46,105.19 L373.98,105.19 L374.51,105.20 L375.04,105.20 L375.57,105.20 L376.10,105.20 L376.62,105.20 L377.15,105.20 L377.68,105.20 L378.21,105.20 L378.74,105.20 L379.27,105.20 L379.79,105.20 L380.32,105.20 L380.85,105.20 L381.38,105.20 L381.91,105.20 L382.43,105.20 L382.96,105.20 L383.49,105.20 L384.02,105.20 L384.55,105.20 L385.08,105.20 L385.60,105.20 L386.13,105.20 L386.66,105.20 L387.19,105.20 L387.72,105.20 L388.24,105.20 L388.77,105.20 L389.30,105.20" stroke="#c21a46" stroke-width="1.2" fill="none" stroke-linejoin="round"/>
<circle cx="304.8" cy="56.0" r="1.4" fill="#3c6e9e"/>
<line x1="304.80" y1="53.80" x2="304.80" y2="58.20" stroke="#3c6e9e" stroke-width="0.8"/>
<circle cx="321.6" cy="55.6" r="1.4" fill="#3c6e9e"/>
<line x1="321.60" y1="53.40" x2="321.60" y2="57.80" stroke="#3c6e9e" stroke-width="0.8"/>
<circle cx="338.6" cy="53.5" r="1.1" fill="#111"/>
<circle cx="355.5" cy="51.7" r="1.1" fill="#111"/>
<circle cx="338.6" cy="89.6" r="1.3" fill="#c21a46"/>
<circle cx="355.5" cy="104.0" r="1.3" fill="#c21a46"/>
<circle cx="372.3" cy="104.0" r="1.3" fill="#c21a46"/>
<circle cx="388.9" cy="104.4" r="1.3" fill="#c21a46"/>
<circle cx="321.6" cy="58.5" r="1.3" fill="#c21a46"/>
<circle cx="372.2" cy="103.6" r="1.3" fill="#1e4676"/>
<line x1="419.80" y1="45.27" x2="419.80" y2="104.20" stroke="#111" stroke-width="1.1"/>
<line x1="417.00" y1="104.20" x2="419.80" y2="104.20" stroke="#111" stroke-width="0.9"/>
<text x="413.80" y="106.70" font-size="7.3" fill="#1a1a1a" stroke="#1a1a1a" stroke-width="0.15" text-anchor="end" textLength="4.10" lengthAdjust="spacingAndGlyphs">0</text>
<line x1="417.00" y1="92.47" x2="419.80" y2="92.47" stroke="#111" stroke-width="0.9"/>
<text x="413.80" y="94.97" font-size="7.3" fill="#1a1a1a" stroke="#1a1a1a" stroke-width="0.15" text-anchor="end" textLength="8.40" lengthAdjust="spacingAndGlyphs">25</text>
<line x1="417.00" y1="80.75" x2="419.80" y2="80.75" stroke="#111" stroke-width="0.9"/>
<text x="413.80" y="83.25" font-size="7.3" fill="#1a1a1a" stroke="#1a1a1a" stroke-width="0.15" text-anchor="end" textLength="8.40" lengthAdjust="spacingAndGlyphs">50</text>
<line x1="417.00" y1="69.03" x2="419.80" y2="69.03" stroke="#111" stroke-width="0.9"/>
<text x="413.80" y="71.53" font-size="7.3" fill="#1a1a1a" stroke="#1a1a1a" stroke-width="0.15" text-anchor="end" textLength="8.40" lengthAdjust="spacingAndGlyphs">75</text>
<line x1="417.00" y1="57.30" x2="419.80" y2="57.30" stroke="#111" stroke-width="0.9"/>
<text x="413.80" y="59.80" font-size="7.3" fill="#1a1a1a" stroke="#1a1a1a" stroke-width="0.15" text-anchor="end" textLength="12.60" lengthAdjust="spacingAndGlyphs">100</text>
<line x1="417.00" y1="45.57" x2="419.80" y2="45.57" stroke="#111" stroke-width="0.9"/>
<text x="413.80" y="48.07" font-size="7.3" fill="#1a1a1a" stroke="#1a1a1a" stroke-width="0.15" text-anchor="end" textLength="12.60" lengthAdjust="spacingAndGlyphs">125</text>
<line x1="419.80" y1="104.20" x2="506.30" y2="104.20" stroke="#111" stroke-width="1.1"/>
<line x1="419.80" y1="104.20" x2="419.80" y2="107.00" stroke="#111" stroke-width="0.9"/>
<line x1="436.50" y1="104.20" x2="436.50" y2="107.00" stroke="#111" stroke-width="0.9"/>
<line x1="453.20" y1="104.20" x2="453.20" y2="107.00" stroke="#111" stroke-width="0.9"/>
<line x1="469.90" y1="104.20" x2="469.90" y2="107.00" stroke="#111" stroke-width="0.9"/>
<line x1="486.60" y1="104.20" x2="486.60" y2="107.00" stroke="#111" stroke-width="0.9"/>
<line x1="503.30" y1="104.20" x2="503.30" y2="107.00" stroke="#111" stroke-width="0.9"/>
<g transform="translate(423.40,114.80) rotate(-45)"><text x="0" y="0" font-size="8.0" fill="#1a1a1a" stroke="#1a1a1a" stroke-width="0.2" text-anchor="end" textLength="15.6" lengthAdjust="spacingAndGlyphs">0.01</text></g>
<g transform="translate(440.10,114.80) rotate(-45)"><text x="0" y="0" font-size="8.0" fill="#1a1a1a" stroke="#1a1a1a" stroke-width="0.2" text-anchor="end" textLength="11.4" lengthAdjust="spacingAndGlyphs">0.1</text></g>
<g transform="translate(456.80,114.80) rotate(-45)"><text x="0" y="0" font-size="8.0" fill="#1a1a1a" stroke="#1a1a1a" stroke-width="0.2" text-anchor="end" textLength="4.3" lengthAdjust="spacingAndGlyphs">1</text></g>
<g transform="translate(473.50,114.80) rotate(-45)"><text x="0" y="0" font-size="8.0" fill="#1a1a1a" stroke="#1a1a1a" stroke-width="0.2" text-anchor="end" textLength="8.8" lengthAdjust="spacingAndGlyphs">10</text></g>
<g transform="translate(490.20,114.80) rotate(-45)"><text x="0" y="0" font-size="8.0" fill="#1a1a1a" stroke="#1a1a1a" stroke-width="0.2" text-anchor="end" textLength="13.3" lengthAdjust="spacingAndGlyphs">100</text></g>
<text x="445.60" y="40.00" font-size="9.6" fill="#1a1a1a" stroke="#1a1a1a" stroke-width="0.05" textLength="32.20" lengthAdjust="spacingAndGlyphs">RS4;11</text>
<text x="459.60" y="68.00" font-size="8.6" fill="#38618c" stroke="#38618c" stroke-width="0.15" textLength="19.40" lengthAdjust="spacingAndGlyphs">IC50:</text>
<text x="453.80" y="77.50" font-size="8.6" fill="#38618c" stroke="#38618c" stroke-width="0.15" textLength="25.80" lengthAdjust="spacingAndGlyphs">74.3nM</text>
<text x="425.80" y="90.60" font-size="8.6" fill="#cc2c52" stroke="#cc2c52" stroke-width="0.15" textLength="20.00" lengthAdjust="spacingAndGlyphs">IC50:</text>
<text x="424.60" y="99.80" font-size="8.6" fill="#cc2c52" stroke="#cc2c52" stroke-width="0.15" textLength="21.40" lengthAdjust="spacingAndGlyphs">3.0nM</text>
<path d="M419.80,57.30 L420.32,57.30 L420.84,57.30 L421.37,57.30 L421.89,57.30 L422.41,57.30 L422.93,57.30 L423.45,57.30 L423.98,57.30 L424.50,57.30 L425.02,57.30 L425.54,57.30 L426.06,57.30 L426.58,57.30 L427.11,57.30 L427.63,57.30 L428.15,57.30 L428.67,57.30 L429.19,57.30 L429.72,57.30 L430.24,57.30 L430.76,57.30 L431.28,57.30 L431.80,57.30 L432.32,57.30 L432.85,57.30 L433.37,57.30 L433.89,57.30 L434.41,57.30 L434.93,57.30 L435.46,57.30 L435.98,57.30 L436.50,57.30 L437.02,57.30 L437.54,57.30 L438.07,57.30 L438.59,57.30 L439.11,57.30 L439.63,57.30 L440.15,57.30 L440.68,57.30 L441.20,57.30 L441.72,57.30 L442.24,57.30 L442.76,57.30 L443.28,57.30 L443.81,57.30 L444.33,57.30 L444.85,57.30 L445.37,57.30 L445.89,57.30 L446.42,57.30 L446.94,57.30 L447.46,57.30 L447.98,57.30 L448.50,57.30 L449.03,57.30 L449.55,57.30 L450.07,57.30 L450.59,57.30 L451.11,57.30 L451.63,57.30 L452.16,57.30 L452.68,57.30 L453.20,57.30 L453.72,57.30 L454.24,57.30 L454.77,57.30 L455.29,57.30 L455.81,57.30 L456.33,57.30 L456.85,57.30 L457.38,57.30 L457.90,57.30 L458.42,57.30 L458.94,57.30 L459.46,57.30 L459.98,57.30 L460.51,57.30 L461.03,57.30 L461.55,57.30 L462.07,57.30 L462.59,57.30 L463.12,57.30 L463.64,57.30 L464.16,57.30 L464.68,57.30 L465.20,57.30 L465.73,57.30 L466.25,57.30 L466.77,57.30 L467.29,57.30 L467.81,57.30 L468.33,57.30 L468.86,57.30 L469.38,57.30 L469.90,57.30 L470.42,57.30 L470.94,57.30 L471.47,57.30 L471.99,57.30 L472.51,57.30 L473.03,57.30 L473.55,57.30 L474.07,57.30 L474.60,57.30 L475.12,57.31 L475.64,57.31 L476.16,57.32 L476.68,57.34 L477.21,57.37 L477.73,57.42 L478.25,57.50 L478.77,57.64 L479.29,57.88 L479.82,58.28 L480.34,58.94 L480.86,60.03 L481.38,61.76 L481.90,64.42 L482.43,68.24 L482.95,73.29 L483.47,79.26 L483.99,85.42 L484.51,90.98 L485.03,95.41 L485.56,98.60 L486.08,100.74 L486.60,102.10 L487.12,102.94 L487.64,103.45 L488.17,103.76 L488.69,103.94 L489.21,104.05 L489.73,104.11 L490.25,104.15 L490.77,104.17 L491.30,104.18 L491.82,104.19 L492.34,104.19 L492.86,104.20 L493.38,104.20 L493.91,104.20 L494.43,104.20 L494.95,104.20 L495.47,104.20 L495.99,104.20 L496.52,104.20 L497.04,104.20 L497.56,104.20 L498.08,104.20 L498.60,104.20 L499.12,104.20 L499.65,104.20 L500.17,104.20 L500.69,104.20 L501.21,104.20 L501.73,104.20 L502.26,104.20 L502.78,104.20 L503.30,104.20" stroke="#1e4676" stroke-width="1.2" fill="none" stroke-linejoin="round"/>
<path d="M419.80,57.30 L420.32,57.30 L420.84,57.30 L421.37,57.30 L421.89,57.30 L422.41,57.30 L422.93,57.30 L423.45,57.30 L423.98,57.30 L424.50,57.30 L425.02,57.30 L425.54,57.30 L426.06,57.30 L426.58,57.30 L427.11,57.30 L427.63,57.30 L428.15,57.30 L428.67,57.30 L429.19,57.30 L429.72,57.30 L430.24,57.30 L430.76,57.30 L431.28,57.30 L431.80,57.30 L432.32,57.30 L432.85,57.30 L433.37,57.30 L433.89,57.30 L434.41,57.30 L434.93,57.30 L435.46,57.30 L435.98,57.31 L436.50,57.31 L437.02,57.31 L437.54,57.31 L438.07,57.31 L438.59,57.31 L439.11,57.32 L439.63,57.32 L440.15,57.32 L440.68,57.33 L441.20,57.34 L441.72,57.34 L442.24,57.35 L442.76,57.36 L443.28,57.37 L443.81,57.39 L444.33,57.41 L444.85,57.43 L445.37,57.46 L445.89,57.49 L446.42,57.53 L446.94,57.58 L447.46,57.63 L447.98,57.70 L448.50,57.78 L449.03,57.88 L449.55,58.00 L450.07,58.14 L450.59,58.31 L451.11,58.51 L451.63,58.75 L452.16,59.04 L452.68,59.39 L453.20,59.79 L453.72,60.27 L454.24,60.84 L454.77,61.51 L455.29,62.28 L455.81,63.18 L456.33,64.21 L456.85,65.39 L457.38,66.73 L457.90,68.22 L458.42,69.87 L458.94,71.67 L459.46,73.60 L459.98,75.64 L460.51,77.78 L461.03,79.96 L461.55,82.16 L462.07,84.33 L462.59,86.44 L463.12,88.46 L463.64,90.35 L464.16,92.11 L464.68,93.71 L465.20,95.16 L465.73,96.45 L466.25,97.59 L466.77,98.58 L467.29,99.45 L467.81,100.19 L468.33,100.83 L468.86,101.37 L469.38,101.83 L469.90,102.22 L470.42,102.54 L470.94,102.82 L471.47,103.05 L471.99,103.24 L472.51,103.40 L473.03,103.54 L473.55,103.65 L474.07,103.74 L474.60,103.82 L475.12,103.88 L475.64,103.94 L476.16,103.98 L476.68,104.02 L477.21,104.05 L477.73,104.08 L478.25,104.10 L478.77,104.11 L479.29,104.13 L479.82,104.14 L480.34,104.15 L480.86,104.16 L481.38,104.17 L481.90,104.17 L482.43,104.18 L482.95,104.18 L483.47,104.18 L483.99,104.19 L484.51,104.19 L485.03,104.19 L485.56,104.19 L486.08,104.19 L486.60,104.19 L487.12,104.20 L487.64,104.20 L488.17,104.20 L488.69,104.20 L489.21,104.20 L489.73,104.20 L490.25,104.20 L490.77,104.20 L491.30,104.20 L491.82,104.20 L492.34,104.20 L492.86,104.20 L493.38,104.20 L493.91,104.20 L494.43,104.20 L494.95,104.20 L495.47,104.20 L495.99,104.20 L496.52,104.20 L497.04,104.20 L497.56,104.20 L498.08,104.20 L498.60,104.20 L499.12,104.20 L499.65,104.20 L500.17,104.20 L500.69,104.20 L501.21,104.20 L501.73,104.20 L502.26,104.20 L502.78,104.20 L503.30,104.20" stroke="#c21a46" stroke-width="1.2" fill="none" stroke-linejoin="round"/>
<circle cx="419.8" cy="54.5" r="1.4" fill="#c21a46"/>
<line x1="419.80" y1="51.50" x2="419.80" y2="57.50" stroke="#c21a46" stroke-width="0.8"/>
<circle cx="436.2" cy="55.4" r="1.4" fill="#c21a46"/>
<line x1="436.20" y1="52.40" x2="436.20" y2="58.40" stroke="#c21a46" stroke-width="0.8"/>
<circle cx="453.1" cy="60.5" r="1.3" fill="#c21a46"/>
<circle cx="469.8" cy="103.0" r="1.3" fill="#c21a46"/>
<circle cx="486.4" cy="103.7" r="1.3" fill="#c21a46"/>
<circle cx="503.0" cy="104.0" r="1.3" fill="#c21a46"/>
<circle cx="453.1" cy="57.2" r="1.3" fill="#1e4676"/>
<circle cx="469.8" cy="56.6" r="1.3" fill="#1e4676"/>
<circle cx="486.4" cy="98.0" r="1.3" fill="#1e4676"/>
<line x1="486.40" y1="95.50" x2="486.40" y2="100.50" stroke="#1e4676" stroke-width="0.8"/>
<text x="266.80" y="87.60" font-size="7.6" fill="#1a1a1a" stroke="#1a1a1a" stroke-width="0.35" textLength="23.80" lengthAdjust="spacingAndGlyphs" transform="rotate(-90 266.80 87.60)">Viability</text>
<text x="278.60" y="109.00" font-size="8.2" fill="#1a1a1a" stroke="#1a1a1a" stroke-width="0.35" textLength="66.00" lengthAdjust="spacingAndGlyphs" transform="rotate(-90 278.60 109.00)">(percent of untreated)</text>
<line x1="297.50" y1="133.80" x2="497.00" y2="133.80" stroke="#111" stroke-width="1.0"/>
<path d="M502.8,133.8 L495.5,130.8 L496.8,133.8 L495.5,136.8 Z" fill="#111"/>
<text x="371.00" y="144.00" font-size="7.4" fill="#1a1a1a" stroke="#1a1a1a" stroke-width="0.15" textLength="56.50" lengthAdjust="spacingAndGlyphs">STRO-001 (nM)</text>
<text x="2.50" y="164.60" font-size="11" fill="#111" stroke="#111" stroke-width="0.15" font-weight="bold">C</text>
<text x="24.6" y="176.4" font-size="7.0" fill="#1a1a1a" stroke="#1a1a1a" stroke-width="0.15"><tspan textLength="18.2" lengthAdjust="spacingAndGlyphs">1x10</tspan><tspan x="43.4" dy="-2.9" font-size="5.0">6</tspan><tspan x="48.0" dy="2.9" textLength="25.4" lengthAdjust="spacingAndGlyphs">REH or</tspan></text>
<text x="24.60" y="185.10" font-size="7.0" fill="#1a1a1a" stroke="#1a1a1a" stroke-width="0.15" textLength="71.40" lengthAdjust="spacingAndGlyphs">RS4;11 cells/ mouse</text>
<line x1="72.30" y1="204.30" x2="83.50" y2="204.30" stroke="#555" stroke-width="0.7"/>
<path d="M82.3,204.4 C82.8,201.8 85.2,199.6 88.4,199.4 C91.4,199.3 93.6,200.6 94.8,202.6 L95.2,204.4 Z" fill="#7a7a7a"/>
<path d="M83.0,204.4 C83.6,202.2 85.4,200.6 87.6,200.4 C86.8,201.8 86.4,203.0 86.6,204.4 Z" fill="#2e2e2e"/>
<circle cx="93.6" cy="202.4" r="1.1" fill="#bcbcbc"/>
<line x1="93.40" y1="200.60" x2="99.60" y2="193.40" stroke="#9a9a9a" stroke-width="0.8"/>
<rect x="99.0" y="191.0" width="3.2" height="2.0" fill="#e8c820" transform="rotate(-45 100.6 192.0)"/>
<rect x="100.0" y="190.7" width="1.2" height="2.6" fill="#1a1a1a" transform="rotate(-45 100.6 192.0)"/>
<text x="100.80" y="199.20" font-size="6.9" fill="#253c38" stroke="#253c38" stroke-width="0.15" textLength="16.40" lengthAdjust="spacingAndGlyphs">ADC</text>
<text x="119.80" y="199.20" font-size="6.9" fill="#253c38" stroke="#253c38" stroke-width="0.15" textLength="7.80" lengthAdjust="spacingAndGlyphs">Tx</text>
<path d="M100.60,202.0 L105.20,202.0 L102.90,205.8 Z" fill="#a01030"/>
<path d="M111.00,202.0 L115.60,202.0 L113.30,205.8 Z" fill="#a01030"/>
<path d="M121.00,202.0 L125.60,202.0 L123.30,205.8 Z" fill="#a01030"/>
<line x1="84.40" y1="208.40" x2="203.00" y2="208.40" stroke="#111" stroke-width="1.0"/>
<path d="M209,208.4 L201.9,205.2 L203.2,208.4 L201.9,211.6 Z" fill="#111"/>
<rect x="190.6" y="207.2" width="2.6" height="2.4" fill="#fff"/>
<path d="M189.6,209.4 L191.0,207.4 M192.6,209.4 L194.0,207.4" stroke="#111" stroke-width="0.8"/>
<line x1="92.50" y1="208.40" x2="92.50" y2="211.00" stroke="#111" stroke-width="0.8"/>
<line x1="102.80" y1="208.40" x2="102.80" y2="211.00" stroke="#111" stroke-width="0.8"/>
<line x1="113.10" y1="208.40" x2="113.10" y2="211.00" stroke="#111" stroke-width="0.8"/>
<line x1="123.40" y1="208.40" x2="123.40" y2="211.00" stroke="#111" stroke-width="0.8"/>
<line x1="133.70" y1="208.40" x2="133.70" y2="211.00" stroke="#111" stroke-width="0.8"/>
<line x1="144.00" y1="208.40" x2="144.00" y2="211.00" stroke="#111" stroke-width="0.8"/>
<line x1="154.30" y1="208.40" x2="154.30" y2="211.00" stroke="#111" stroke-width="0.8"/>
<line x1="164.60" y1="208.40" x2="164.60" y2="211.00" stroke="#111" stroke-width="0.8"/>
<line x1="174.90" y1="208.40" x2="174.90" y2="211.00" stroke="#111" stroke-width="0.8"/>
<text x="38.80" y="221.20" font-size="7.8" fill="#1a1a1a" stroke="#1a1a1a" stroke-width="0.15" textLength="43.50" lengthAdjust="spacingAndGlyphs">Time (Days):</text>
<text x="92.60" y="221.20" font-size="7.8" fill="#1a1a1a" stroke="#1a1a1a" stroke-width="0.15" text-anchor="middle" textLength="3.90" lengthAdjust="spacingAndGlyphs">0</text>
<text x="113.20" y="221.20" font-size="7.8" fill="#1a1a1a" stroke="#1a1a1a" stroke-width="0.15" text-anchor="middle" textLength="8.10" lengthAdjust="spacingAndGlyphs">14</text>
<text x="133.80" y="221.20" font-size="7.8" fill="#1a1a1a" stroke="#1a1a1a" stroke-width="0.15" text-anchor="middle" textLength="8.10" lengthAdjust="spacingAndGlyphs">28</text>
<text x="154.40" y="221.20" font-size="7.8" fill="#1a1a1a" stroke="#1a1a1a" stroke-width="0.15" text-anchor="middle" textLength="8.10" lengthAdjust="spacingAndGlyphs">42</text>
<text x="175.00" y="221.20" font-size="7.8" fill="#1a1a1a" stroke="#1a1a1a" stroke-width="0.15" text-anchor="middle" textLength="8.10" lengthAdjust="spacingAndGlyphs">56</text>
<text x="107.60" y="233.90" font-size="7.8" fill="#1a1a1a" stroke="#1a1a1a" stroke-width="0.15" textLength="83.50" lengthAdjust="spacingAndGlyphs">Tumor burden measured</text>
<text x="110.00" y="242.70" font-size="7.8" fill="#1a1a1a" stroke="#1a1a1a" stroke-width="0.15" textLength="79.20" lengthAdjust="spacingAndGlyphs">weekly by IVIS imaging</text>
<text x="70.40" y="264.20" font-size="10.2" fill="#1a1a1a" stroke="#1a1a1a" stroke-width="0.05" textLength="20.80" lengthAdjust="spacingAndGlyphs">REH</text>
<line x1="37.30" y1="270.00" x2="124.80" y2="270.00" stroke="#111" stroke-width="1.0"/>
<text x="37.40" y="281.90" font-size="8.0" fill="#1a1a1a" stroke="#1a1a1a" stroke-width="0.15" textLength="33.80" lengthAdjust="spacingAndGlyphs">Untreated</text>
<text x="86.80" y="281.90" font-size="8.0" fill="#1a1a1a" stroke="#1a1a1a" stroke-width="0.15" textLength="37.80" lengthAdjust="spacingAndGlyphs">STRO-001</text>
<text x="167.00" y="264.20" font-size="10.2" fill="#1a1a1a" stroke="#1a1a1a" stroke-width="0.05" textLength="32.30" lengthAdjust="spacingAndGlyphs">RS4;11</text>
<line x1="140.00" y1="270.00" x2="226.50" y2="270.00" stroke="#111" stroke-width="1.0"/>
<text x="140.20" y="281.90" font-size="8.0" fill="#1a1a1a" stroke="#1a1a1a" stroke-width="0.15" textLength="32.50" lengthAdjust="spacingAndGlyphs">Untreated</text>
<text x="189.00" y="281.90" font-size="8.0" fill="#1a1a1a" stroke="#1a1a1a" stroke-width="0.15" textLength="37.50" lengthAdjust="spacingAndGlyphs">STRO-001</text>
<rect x="30.0" y="286.9" width="48.50" height="22.50" fill="#141216"/>
<path d="M36.55,287.90 L37.49,289.26 L38.02,291.02 L38.33,292.97 L39.28,294.53 L40.02,296.67 L40.22,299.60 L40.22,302.72 L39.80,305.06 L38.44,306.42 L34.66,306.42 L33.29,305.06 L32.88,302.72 L32.88,299.60 L33.08,296.67 L33.82,294.53 L34.77,292.97 L35.08,291.02 L35.60,289.26 L36.55,287.90 Z" fill="#e2dcf4" stroke="#b0a4e0" stroke-width="0.5" stroke-linejoin="round"/>
<path d="M36.55,290.10 C38.55,291.40 40.15,295.45 39.95,298.60 Q36.55,301.75 33.15,298.60 C32.95,295.45 34.55,291.40 36.55,290.10 Z" fill="#5a48c8"/>
<ellipse cx="34.55" cy="304.90" rx="1.5" ry="1.58" fill="#6050c8"/>
<ellipse cx="38.55" cy="304.90" rx="1.5" ry="1.58" fill="#6050c8"/>
<line x1="34.15" y1="307.00" x2="33.55" y2="309.10" stroke="#8c84b0" stroke-width="0.5"/>
<line x1="38.95" y1="307.00" x2="39.55" y2="309.10" stroke="#8c84b0" stroke-width="0.5"/>
<path d="M45.40,287.90 L46.34,289.26 L46.87,291.02 L47.18,292.97 L48.13,294.53 L48.86,296.67 L49.07,299.60 L49.07,302.72 L48.66,305.06 L47.29,306.42 L43.51,306.42 L42.14,305.06 L41.73,302.72 L41.73,299.60 L41.94,296.67 L42.67,294.53 L43.62,292.97 L43.93,291.02 L44.45,289.26 L45.40,287.90 Z" fill="#e2dcf4" stroke="#b0a4e0" stroke-width="0.5" stroke-linejoin="round"/>
<path d="M45.40,290.10 C47.40,291.40 49.00,295.45 48.80,298.60 Q45.40,301.75 42.00,298.60 C41.80,295.45 43.40,291.40 45.40,290.10 Z" fill="#5a48c8"/>
<ellipse cx="43.40" cy="304.90" rx="1.5" ry="1.58" fill="#6050c8"/>
<ellipse cx="47.40" cy="304.90" rx="1.5" ry="1.58" fill="#6050c8"/>
<line x1="43.00" y1="307.00" x2="42.40" y2="309.10" stroke="#8c84b0" stroke-width="0.5"/>
<line x1="47.80" y1="307.00" x2="48.40" y2="309.10" stroke="#8c84b0" stroke-width="0.5"/>
<path d="M54.25,287.90 L55.20,289.26 L55.72,291.02 L56.03,292.97 L56.98,294.53 L57.72,296.67 L57.92,299.60 L57.92,302.72 L57.51,305.06 L56.14,306.42 L52.36,306.42 L50.99,305.06 L50.58,302.72 L50.58,299.60 L50.78,296.67 L51.52,294.53 L52.47,292.97 L52.78,291.02 L53.30,289.26 L54.25,287.90 Z" fill="#e2dcf4" stroke="#b0a4e0" stroke-width="0.5" stroke-linejoin="round"/>
<path d="M54.25,290.10 C56.25,291.40 57.85,295.45 57.65,298.60 Q54.25,301.75 50.85,298.60 C50.65,295.45 52.25,291.40 54.25,290.10 Z" fill="#5a48c8"/>
<ellipse cx="52.25" cy="304.90" rx="1.5" ry="1.58" fill="#6050c8"/>
<ellipse cx="56.25" cy="304.90" rx="1.5" ry="1.58" fill="#6050c8"/>
<line x1="51.85" y1="307.00" x2="51.25" y2="309.10" stroke="#8c84b0" stroke-width="0.5"/>
<line x1="56.65" y1="307.00" x2="57.25" y2="309.10" stroke="#8c84b0" stroke-width="0.5"/>
<path d="M63.10,287.90 L64.05,289.26 L64.57,291.02 L64.89,292.97 L65.83,294.53 L66.56,296.67 L66.78,299.60 L66.78,302.72 L66.36,305.06 L64.99,306.42 L61.21,306.42 L59.84,305.06 L59.43,302.72 L59.43,299.60 L59.64,296.67 L60.37,294.53 L61.32,292.97 L61.63,291.02 L62.16,289.26 L63.10,287.90 Z" fill="#e2dcf4" stroke="#b0a4e0" stroke-width="0.5" stroke-linejoin="round"/>
<path d="M63.10,290.10 C65.10,291.40 66.70,295.45 66.50,298.60 Q63.10,301.75 59.70,298.60 C59.50,295.45 61.10,291.40 63.10,290.10 Z" fill="#5a48c8"/>
<ellipse cx="61.10" cy="304.90" rx="1.5" ry="1.58" fill="#6050c8"/>
<ellipse cx="65.10" cy="304.90" rx="1.5" ry="1.58" fill="#6050c8"/>
<line x1="60.70" y1="307.00" x2="60.10" y2="309.10" stroke="#8c84b0" stroke-width="0.5"/>
<line x1="65.50" y1="307.00" x2="66.10" y2="309.10" stroke="#8c84b0" stroke-width="0.5"/>
<path d="M71.95,287.90 L72.89,289.26 L73.42,291.02 L73.73,292.97 L74.68,294.53 L75.42,296.67 L75.62,299.60 L75.62,302.72 L75.20,305.06 L73.84,306.42 L70.06,306.42 L68.70,305.06 L68.28,302.72 L68.28,299.60 L68.48,296.67 L69.22,294.53 L70.17,292.97 L70.48,291.02 L71.01,289.26 L71.95,287.90 Z" fill="#e2dcf4" stroke="#b0a4e0" stroke-width="0.5" stroke-linejoin="round"/>
<path d="M71.95,290.10 C73.95,291.40 75.55,295.45 75.35,298.60 Q71.95,301.75 68.55,298.60 C68.35,295.45 69.95,291.40 71.95,290.10 Z" fill="#5a48c8"/>
<ellipse cx="69.95" cy="304.90" rx="1.5" ry="1.58" fill="#6050c8"/>
<ellipse cx="73.95" cy="304.90" rx="1.5" ry="1.58" fill="#6050c8"/>
<line x1="69.55" y1="307.00" x2="68.95" y2="309.10" stroke="#8c84b0" stroke-width="0.5"/>
<line x1="74.35" y1="307.00" x2="74.95" y2="309.10" stroke="#8c84b0" stroke-width="0.5"/>
<rect x="30.0" y="310.6" width="48.50" height="23.00" fill="#3c3cb8"/>
<path d="M36.55,313.20 L38.15,314.13 L39.05,316.55 L39.35,319.71 L39.95,322.87 L40.55,325.29 L40.75,328.08 L40.35,330.50 L38.95,331.80 L34.15,331.80 L32.75,330.50 L32.35,328.08 L32.55,325.29 L33.15,322.87 L33.75,319.71 L34.05,316.55 L34.95,314.13 L36.55,313.20 Z" fill="none" stroke="#40b8c0" stroke-width="1.5" stroke-linejoin="round" opacity="0.85"/>
<path d="M36.55,313.20 L38.15,314.13 L39.05,316.55 L39.35,319.71 L39.95,322.87 L40.55,325.29 L40.75,328.08 L40.35,330.50 L38.95,331.80 L34.15,331.80 L32.75,330.50 L32.35,328.08 L32.55,325.29 L33.15,322.87 L33.75,319.71 L34.05,316.55 L34.95,314.13 L36.55,313.20 Z" fill="#ec1010" stroke="#d0a020" stroke-width="0.5" stroke-linejoin="round"/>
<path d="M33.25,323.62 L39.85,322.82 L40.25,324.62 L32.85,325.42 Z" fill="#e0b020"/>
<path d="M32.85,325.42 L40.25,324.62 L40.45,325.82 L32.65,326.62 Z" fill="#60c060"/>
<path d="M45.40,313.20 L47.00,314.13 L47.90,316.55 L48.20,319.71 L48.80,322.87 L49.40,325.29 L49.60,328.08 L49.20,330.50 L47.80,331.80 L43.00,331.80 L41.60,330.50 L41.20,328.08 L41.40,325.29 L42.00,322.87 L42.60,319.71 L42.90,316.55 L43.80,314.13 L45.40,313.20 Z" fill="none" stroke="#40b8c0" stroke-width="1.5" stroke-linejoin="round" opacity="0.85"/>
<path d="M45.40,313.20 L47.00,314.13 L47.90,316.55 L48.20,319.71 L48.80,322.87 L49.40,325.29 L49.60,328.08 L49.20,330.50 L47.80,331.80 L43.00,331.80 L41.60,330.50 L41.20,328.08 L41.40,325.29 L42.00,322.87 L42.60,319.71 L42.90,316.55 L43.80,314.13 L45.40,313.20 Z" fill="#ec1010" stroke="#d0a020" stroke-width="0.5" stroke-linejoin="round"/>
<path d="M42.10,323.62 L48.70,322.82 L49.10,324.62 L41.70,325.42 Z" fill="#e0b020"/>
<path d="M41.70,325.42 L49.10,324.62 L49.30,325.82 L41.50,326.62 Z" fill="#60c060"/>
<path d="M54.25,313.20 L55.85,314.13 L56.75,316.55 L57.05,319.71 L57.65,322.87 L58.25,325.29 L58.45,328.08 L58.05,330.50 L56.65,331.80 L51.85,331.80 L50.45,330.50 L50.05,328.08 L50.25,325.29 L50.85,322.87 L51.45,319.71 L51.75,316.55 L52.65,314.13 L54.25,313.20 Z" fill="none" stroke="#40b8c0" stroke-width="1.5" stroke-linejoin="round" opacity="0.85"/>
<path d="M54.25,313.20 L55.85,314.13 L56.75,316.55 L57.05,319.71 L57.65,322.87 L58.25,325.29 L58.45,328.08 L58.05,330.50 L56.65,331.80 L51.85,331.80 L50.45,330.50 L50.05,328.08 L50.25,325.29 L50.85,322.87 L51.45,319.71 L51.75,316.55 L52.65,314.13 L54.25,313.20 Z" fill="#ec1010" stroke="#d0a020" stroke-width="0.5" stroke-linejoin="round"/>
<path d="M50.95,323.62 L57.55,322.82 L57.95,324.62 L50.55,325.42 Z" fill="#e0b020"/>
<path d="M50.55,325.42 L57.95,324.62 L58.15,325.82 L50.35,326.62 Z" fill="#60c060"/>
<path d="M63.10,313.20 L64.70,314.13 L65.60,316.55 L65.90,319.71 L66.50,322.87 L67.10,325.29 L67.30,328.08 L66.90,330.50 L65.50,331.80 L60.70,331.80 L59.30,330.50 L58.90,328.08 L59.10,325.29 L59.70,322.87 L60.30,319.71 L60.60,316.55 L61.50,314.13 L63.10,313.20 Z" fill="none" stroke="#40b8c0" stroke-width="1.5" stroke-linejoin="round" opacity="0.85"/>
<path d="M63.10,313.20 L64.70,314.13 L65.60,316.55 L65.90,319.71 L66.50,322.87 L67.10,325.29 L67.30,328.08 L66.90,330.50 L65.50,331.80 L60.70,331.80 L59.30,330.50 L58.90,328.08 L59.10,325.29 L59.70,322.87 L60.30,319.71 L60.60,316.55 L61.50,314.13 L63.10,313.20 Z" fill="#ec1010" stroke="#d0a020" stroke-width="0.5" stroke-linejoin="round"/>
<path d="M59.80,323.62 L66.40,322.82 L66.80,324.62 L59.40,325.42 Z" fill="#e0b020"/>
<path d="M59.40,325.42 L66.80,324.62 L67.00,325.82 L59.20,326.62 Z" fill="#60c060"/>
<path d="M71.95,313.20 L73.55,314.13 L74.45,316.55 L74.75,319.71 L75.35,322.87 L75.95,325.29 L76.15,328.08 L75.75,330.50 L74.35,331.80 L69.55,331.80 L68.15,330.50 L67.75,328.08 L67.95,325.29 L68.55,322.87 L69.15,319.71 L69.45,316.55 L70.35,314.13 L71.95,313.20 Z" fill="none" stroke="#40b8c0" stroke-width="1.5" stroke-linejoin="round" opacity="0.85"/>
<path d="M71.95,313.20 L73.55,314.13 L74.45,316.55 L74.75,319.71 L75.35,322.87 L75.95,325.29 L76.15,328.08 L75.75,330.50 L74.35,331.80 L69.55,331.80 L68.15,330.50 L67.75,328.08 L67.95,325.29 L68.55,322.87 L69.15,319.71 L69.45,316.55 L70.35,314.13 L71.95,313.20 Z" fill="#ec1010" stroke="#d0a020" stroke-width="0.5" stroke-linejoin="round"/>
<path d="M68.65,323.62 L75.25,322.82 L75.65,324.62 L68.25,325.42 Z" fill="#e0b020"/>
<path d="M68.25,325.42 L75.65,324.62 L75.85,325.82 L68.05,326.62 Z" fill="#60c060"/>
<rect x="30.0" y="336.2" width="48.50" height="23.20" fill="#3c3cb8"/>
<path d="M36.55,337.80 L38.15,338.93 L39.35,341.18 L40.15,344.38 L40.75,348.14 L40.95,351.90 L40.55,355.10 L39.15,356.60 L33.95,356.60 L32.55,355.10 L32.15,351.90 L32.35,348.14 L32.95,344.38 L33.75,341.18 L34.95,338.93 L36.55,337.80 Z" fill="none" stroke="#40b8c0" stroke-width="1.5" stroke-linejoin="round" opacity="0.85"/>
<path d="M36.55,337.80 L38.15,338.93 L39.35,341.18 L40.15,344.38 L40.75,348.14 L40.95,351.90 L40.55,355.10 L39.15,356.60 L33.95,356.60 L32.55,355.10 L32.15,351.90 L32.35,348.14 L32.95,344.38 L33.75,341.18 L34.95,338.93 L36.55,337.80 Z" fill="#ec1010" stroke="#d0a020" stroke-width="0.5" stroke-linejoin="round"/>
<line x1="34.05" y1="356.60" x2="33.55" y2="359.10" stroke="#7080d0" stroke-width="0.6"/>
<line x1="39.05" y1="356.60" x2="39.55" y2="359.10" stroke="#7080d0" stroke-width="0.6"/>
<path d="M45.40,337.80 L47.00,338.93 L48.20,341.18 L49.00,344.38 L49.60,348.14 L49.80,351.90 L49.40,355.10 L48.00,356.60 L42.80,356.60 L41.40,355.10 L41.00,351.90 L41.20,348.14 L41.80,344.38 L42.60,341.18 L43.80,338.93 L45.40,337.80 Z" fill="none" stroke="#40b8c0" stroke-width="1.5" stroke-linejoin="round" opacity="0.85"/>
<path d="M45.40,337.80 L47.00,338.93 L48.20,341.18 L49.00,344.38 L49.60,348.14 L49.80,351.90 L49.40,355.10 L48.00,356.60 L42.80,356.60 L41.40,355.10 L41.00,351.90 L41.20,348.14 L41.80,344.38 L42.60,341.18 L43.80,338.93 L45.40,337.80 Z" fill="#ec1010" stroke="#d0a020" stroke-width="0.5" stroke-linejoin="round"/>
<line x1="42.90" y1="356.60" x2="42.40" y2="359.10" stroke="#7080d0" stroke-width="0.6"/>
<line x1="47.90" y1="356.60" x2="48.40" y2="359.10" stroke="#7080d0" stroke-width="0.6"/>
<path d="M54.25,337.80 L55.85,338.93 L57.05,341.18 L57.85,344.38 L58.45,348.14 L58.65,351.90 L58.25,355.10 L56.85,356.60 L51.65,356.60 L50.25,355.10 L49.85,351.90 L50.05,348.14 L50.65,344.38 L51.45,341.18 L52.65,338.93 L54.25,337.80 Z" fill="none" stroke="#40b8c0" stroke-width="1.5" stroke-linejoin="round" opacity="0.85"/>
<path d="M54.25,337.80 L55.85,338.93 L57.05,341.18 L57.85,344.38 L58.45,348.14 L58.65,351.90 L58.25,355.10 L56.85,356.60 L51.65,356.60 L50.25,355.10 L49.85,351.90 L50.05,348.14 L50.65,344.38 L51.45,341.18 L52.65,338.93 L54.25,337.80 Z" fill="#ec1010" stroke="#d0a020" stroke-width="0.5" stroke-linejoin="round"/>
<line x1="51.75" y1="356.60" x2="51.25" y2="359.10" stroke="#7080d0" stroke-width="0.6"/>
<line x1="56.75" y1="356.60" x2="57.25" y2="359.10" stroke="#7080d0" stroke-width="0.6"/>
<path d="M63.10,337.80 L64.70,338.93 L65.90,341.18 L66.70,344.38 L67.30,348.14 L67.50,351.90 L67.10,355.10 L65.70,356.60 L60.50,356.60 L59.10,355.10 L58.70,351.90 L58.90,348.14 L59.50,344.38 L60.30,341.18 L61.50,338.93 L63.10,337.80 Z" fill="none" stroke="#40b8c0" stroke-width="1.5" stroke-linejoin="round" opacity="0.85"/>
<path d="M63.10,337.80 L64.70,338.93 L65.90,341.18 L66.70,344.38 L67.30,348.14 L67.50,351.90 L67.10,355.10 L65.70,356.60 L60.50,356.60 L59.10,355.10 L58.70,351.90 L58.90,348.14 L59.50,344.38 L60.30,341.18 L61.50,338.93 L63.10,337.80 Z" fill="#ec1010" stroke="#d0a020" stroke-width="0.5" stroke-linejoin="round"/>
<line x1="60.60" y1="356.60" x2="60.10" y2="359.10" stroke="#7080d0" stroke-width="0.6"/>
<line x1="65.60" y1="356.60" x2="66.10" y2="359.10" stroke="#7080d0" stroke-width="0.6"/>
<path d="M71.95,337.80 L73.55,338.93 L74.75,341.18 L75.55,344.38 L76.15,348.14 L76.35,351.90 L75.95,355.10 L74.55,356.60 L69.35,356.60 L67.95,355.10 L67.55,351.90 L67.75,348.14 L68.35,344.38 L69.15,341.18 L70.35,338.93 L71.95,337.80 Z" fill="none" stroke="#40b8c0" stroke-width="1.5" stroke-linejoin="round" opacity="0.85"/>
<path d="M71.95,337.80 L73.55,338.93 L74.75,341.18 L75.55,344.38 L76.15,348.14 L76.35,351.90 L75.95,355.10 L74.55,356.60 L69.35,356.60 L67.95,355.10 L67.55,351.90 L67.75,348.14 L68.35,344.38 L69.15,341.18 L70.35,338.93 L71.95,337.80 Z" fill="#ec1010" stroke="#d0a020" stroke-width="0.5" stroke-linejoin="round"/>
<line x1="69.45" y1="356.60" x2="68.95" y2="359.10" stroke="#7080d0" stroke-width="0.6"/>
<line x1="74.45" y1="356.60" x2="74.95" y2="359.10" stroke="#7080d0" stroke-width="0.6"/>
<rect x="133.2" y="286.9" width="48.40" height="22.50" fill="#141216"/>
<path d="M139.70,287.90 L140.64,289.26 L141.17,291.02 L141.48,292.97 L142.43,294.53 L143.16,296.67 L143.38,299.60 L143.38,302.72 L142.95,305.06 L141.59,306.42 L137.81,306.42 L136.44,305.06 L136.02,302.72 L136.02,299.60 L136.23,296.67 L136.97,294.53 L137.91,292.97 L138.23,291.02 L138.75,289.26 L139.70,287.90 Z" fill="#e2dcf4" stroke="#b0a4e0" stroke-width="0.5" stroke-linejoin="round"/>
<path d="M139.70,290.10 C141.70,291.40 143.30,295.45 143.10,298.60 Q139.70,301.75 136.30,298.60 C136.10,295.45 137.70,291.40 139.70,290.10 Z" fill="#5a48c8"/>
<ellipse cx="137.70" cy="304.90" rx="1.5" ry="1.58" fill="#6050c8"/>
<ellipse cx="141.70" cy="304.90" rx="1.5" ry="1.58" fill="#6050c8"/>
<line x1="137.30" y1="307.00" x2="136.70" y2="309.10" stroke="#8c84b0" stroke-width="0.5"/>
<line x1="142.10" y1="307.00" x2="142.70" y2="309.10" stroke="#8c84b0" stroke-width="0.5"/>
<path d="M148.55,287.90 L149.49,289.26 L150.02,291.02 L150.33,292.97 L151.28,294.53 L152.01,296.67 L152.22,299.60 L152.22,302.72 L151.80,305.06 L150.44,306.42 L146.66,306.42 L145.29,305.06 L144.87,302.72 L144.87,299.60 L145.08,296.67 L145.82,294.53 L146.76,292.97 L147.08,291.02 L147.60,289.26 L148.55,287.90 Z" fill="#e2dcf4" stroke="#b0a4e0" stroke-width="0.5" stroke-linejoin="round"/>
<path d="M148.55,290.10 C150.55,291.40 152.15,295.45 151.95,298.60 Q148.55,301.75 145.15,298.60 C144.95,295.45 146.55,291.40 148.55,290.10 Z" fill="#5a48c8"/>
<ellipse cx="146.55" cy="304.90" rx="1.5" ry="1.58" fill="#6050c8"/>
<ellipse cx="150.55" cy="304.90" rx="1.5" ry="1.58" fill="#6050c8"/>
<line x1="146.15" y1="307.00" x2="145.55" y2="309.10" stroke="#8c84b0" stroke-width="0.5"/>
<line x1="150.95" y1="307.00" x2="151.55" y2="309.10" stroke="#8c84b0" stroke-width="0.5"/>
<path d="M157.40,287.90 L158.34,289.26 L158.87,291.02 L159.18,292.97 L160.13,294.53 L160.86,296.67 L161.07,299.60 L161.07,302.72 L160.65,305.06 L159.29,306.42 L155.51,306.42 L154.14,305.06 L153.72,302.72 L153.72,299.60 L153.93,296.67 L154.67,294.53 L155.61,292.97 L155.93,291.02 L156.45,289.26 L157.40,287.90 Z" fill="#e2dcf4" stroke="#b0a4e0" stroke-width="0.5" stroke-linejoin="round"/>
<path d="M157.40,290.10 C159.40,291.40 161.00,295.45 160.80,298.60 Q157.40,301.75 154.00,298.60 C153.80,295.45 155.40,291.40 157.40,290.10 Z" fill="#5a48c8"/>
<ellipse cx="155.40" cy="304.90" rx="1.5" ry="1.58" fill="#6050c8"/>
<ellipse cx="159.40" cy="304.90" rx="1.5" ry="1.58" fill="#6050c8"/>
<line x1="155.00" y1="307.00" x2="154.40" y2="309.10" stroke="#8c84b0" stroke-width="0.5"/>
<line x1="159.80" y1="307.00" x2="160.40" y2="309.10" stroke="#8c84b0" stroke-width="0.5"/>
<path d="M166.25,287.90 L167.19,289.26 L167.72,291.02 L168.03,292.97 L168.98,294.53 L169.71,296.67 L169.92,299.60 L169.92,302.72 L169.50,305.06 L168.14,306.42 L164.36,306.42 L162.99,305.06 L162.57,302.72 L162.57,299.60 L162.78,296.67 L163.52,294.53 L164.46,292.97 L164.78,291.02 L165.30,289.26 L166.25,287.90 Z" fill="#e2dcf4" stroke="#b0a4e0" stroke-width="0.5" stroke-linejoin="round"/>
<path d="M166.25,290.10 C168.25,291.40 169.85,295.45 169.65,298.60 Q166.25,301.75 162.85,298.60 C162.65,295.45 164.25,291.40 166.25,290.10 Z" fill="#5a48c8"/>
<ellipse cx="164.25" cy="304.90" rx="1.5" ry="1.58" fill="#6050c8"/>
<ellipse cx="168.25" cy="304.90" rx="1.5" ry="1.58" fill="#6050c8"/>
<line x1="163.85" y1="307.00" x2="163.25" y2="309.10" stroke="#8c84b0" stroke-width="0.5"/>
<line x1="168.65" y1="307.00" x2="169.25" y2="309.10" stroke="#8c84b0" stroke-width="0.5"/>
<path d="M175.10,287.90 L176.04,289.26 L176.57,291.02 L176.88,292.97 L177.83,294.53 L178.56,296.67 L178.77,299.60 L178.77,302.72 L178.35,305.06 L176.99,306.42 L173.21,306.42 L171.84,305.06 L171.42,302.72 L171.42,299.60 L171.63,296.67 L172.37,294.53 L173.31,292.97 L173.63,291.02 L174.15,289.26 L175.10,287.90 Z" fill="#e2dcf4" stroke="#b0a4e0" stroke-width="0.5" stroke-linejoin="round"/>
<path d="M175.10,290.10 C177.10,291.40 178.70,295.45 178.50,298.60 Q175.10,301.75 171.70,298.60 C171.50,295.45 173.10,291.40 175.10,290.10 Z" fill="#5a48c8"/>
<ellipse cx="173.10" cy="304.90" rx="1.5" ry="1.58" fill="#6050c8"/>
<ellipse cx="177.10" cy="304.90" rx="1.5" ry="1.58" fill="#6050c8"/>
<line x1="172.70" y1="307.00" x2="172.10" y2="309.10" stroke="#8c84b0" stroke-width="0.5"/>
<line x1="177.50" y1="307.00" x2="178.10" y2="309.10" stroke="#8c84b0" stroke-width="0.5"/>
<rect x="133.2" y="310.6" width="48.40" height="23.00" fill="#3c3cb8"/>
<path d="M139.70,313.20 L141.30,314.13 L142.20,316.55 L142.50,319.71 L143.10,322.87 L143.70,325.29 L143.90,328.08 L143.50,330.50 L142.10,331.80 L137.30,331.80 L135.90,330.50 L135.50,328.08 L135.70,325.29 L136.30,322.87 L136.90,319.71 L137.20,316.55 L138.10,314.13 L139.70,313.20 Z" fill="none" stroke="#40b8c0" stroke-width="1.5" stroke-linejoin="round" opacity="0.85"/>
<path d="M139.70,313.20 L141.30,314.13 L142.20,316.55 L142.50,319.71 L143.10,322.87 L143.70,325.29 L143.90,328.08 L143.50,330.50 L142.10,331.80 L137.30,331.80 L135.90,330.50 L135.50,328.08 L135.70,325.29 L136.30,322.87 L136.90,319.71 L137.20,316.55 L138.10,314.13 L139.70,313.20 Z" fill="#ec1010" stroke="#d0a020" stroke-width="0.5" stroke-linejoin="round"/>
<path d="M136.40,323.62 L143.00,322.82 L143.40,324.62 L136.00,325.42 Z" fill="#e0b020"/>
<path d="M136.00,325.42 L143.40,324.62 L143.60,325.82 L135.80,326.62 Z" fill="#60c060"/>
<path d="M148.55,313.20 L150.15,314.13 L151.05,316.55 L151.35,319.71 L151.95,322.87 L152.55,325.29 L152.75,328.08 L152.35,330.50 L150.95,331.80 L146.15,331.80 L144.75,330.50 L144.35,328.08 L144.55,325.29 L145.15,322.87 L145.75,319.71 L146.05,316.55 L146.95,314.13 L148.55,313.20 Z" fill="none" stroke="#40b8c0" stroke-width="1.5" stroke-linejoin="round" opacity="0.85"/>
<path d="M148.55,313.20 L150.15,314.13 L151.05,316.55 L151.35,319.71 L151.95,322.87 L152.55,325.29 L152.75,328.08 L152.35,330.50 L150.95,331.80 L146.15,331.80 L144.75,330.50 L144.35,328.08 L144.55,325.29 L145.15,322.87 L145.75,319.71 L146.05,316.55 L146.95,314.13 L148.55,313.20 Z" fill="#ec1010" stroke="#d0a020" stroke-width="0.5" stroke-linejoin="round"/>
<path d="M145.25,323.62 L151.85,322.82 L152.25,324.62 L144.85,325.42 Z" fill="#e0b020"/>
<path d="M144.85,325.42 L152.25,324.62 L152.45,325.82 L144.65,326.62 Z" fill="#60c060"/>
<path d="M157.40,313.20 L159.00,314.13 L159.90,316.55 L160.20,319.71 L160.80,322.87 L161.40,325.29 L161.60,328.08 L161.20,330.50 L159.80,331.80 L155.00,331.80 L153.60,330.50 L153.20,328.08 L153.40,325.29 L154.00,322.87 L154.60,319.71 L154.90,316.55 L155.80,314.13 L157.40,313.20 Z" fill="none" stroke="#40b8c0" stroke-width="1.5" stroke-linejoin="round" opacity="0.85"/>
<path d="M157.40,313.20 L159.00,314.13 L159.90,316.55 L160.20,319.71 L160.80,322.87 L161.40,325.29 L161.60,328.08 L161.20,330.50 L159.80,331.80 L155.00,331.80 L153.60,330.50 L153.20,328.08 L153.40,325.29 L154.00,322.87 L154.60,319.71 L154.90,316.55 L155.80,314.13 L157.40,313.20 Z" fill="#ec1010" stroke="#d0a020" stroke-width="0.5" stroke-linejoin="round"/>
<path d="M154.10,323.62 L160.70,322.82 L161.10,324.62 L153.70,325.42 Z" fill="#e0b020"/>
<path d="M153.70,325.42 L161.10,324.62 L161.30,325.82 L153.50,326.62 Z" fill="#60c060"/>
<path d="M166.25,313.20 L167.85,314.13 L168.75,316.55 L169.05,319.71 L169.65,322.87 L170.25,325.29 L170.45,328.08 L170.05,330.50 L168.65,331.80 L163.85,331.80 L162.45,330.50 L162.05,328.08 L162.25,325.29 L162.85,322.87 L163.45,319.71 L163.75,316.55 L164.65,314.13 L166.25,313.20 Z" fill="none" stroke="#40b8c0" stroke-width="1.5" stroke-linejoin="round" opacity="0.85"/>
<path d="M166.25,313.20 L167.85,314.13 L168.75,316.55 L169.05,319.71 L169.65,322.87 L170.25,325.29 L170.45,328.08 L170.05,330.50 L168.65,331.80 L163.85,331.80 L162.45,330.50 L162.05,328.08 L162.25,325.29 L162.85,322.87 L163.45,319.71 L163.75,316.55 L164.65,314.13 L166.25,313.20 Z" fill="#ec1010" stroke="#d0a020" stroke-width="0.5" stroke-linejoin="round"/>
<path d="M162.95,323.62 L169.55,322.82 L169.95,324.62 L162.55,325.42 Z" fill="#e0b020"/>
<path d="M162.55,325.42 L169.95,324.62 L170.15,325.82 L162.35,326.62 Z" fill="#60c060"/>
<path d="M175.10,313.20 L176.70,314.13 L177.60,316.55 L177.90,319.71 L178.50,322.87 L179.10,325.29 L179.30,328.08 L178.90,330.50 L177.50,331.80 L172.70,331.80 L171.30,330.50 L170.90,328.08 L171.10,325.29 L171.70,322.87 L172.30,319.71 L172.60,316.55 L173.50,314.13 L175.10,313.20 Z" fill="none" stroke="#40b8c0" stroke-width="1.5" stroke-linejoin="round" opacity="0.85"/>
<path d="M175.10,313.20 L176.70,314.13 L177.60,316.55 L177.90,319.71 L178.50,322.87 L179.10,325.29 L179.30,328.08 L178.90,330.50 L177.50,331.80 L172.70,331.80 L171.30,330.50 L170.90,328.08 L171.10,325.29 L171.70,322.87 L172.30,319.71 L172.60,316.55 L173.50,314.13 L175.10,313.20 Z" fill="#ec1010" stroke="#d0a020" stroke-width="0.5" stroke-linejoin="round"/>
<path d="M171.80,323.62 L178.40,322.82 L178.80,324.62 L171.40,325.42 Z" fill="#e0b020"/>
<path d="M171.40,325.42 L178.80,324.62 L179.00,325.82 L171.20,326.62 Z" fill="#60c060"/>
<rect x="133.2" y="336.2" width="48.40" height="23.20" fill="#3c3cb8"/>
<path d="M139.70,337.80 L141.30,338.93 L142.50,341.18 L143.30,344.38 L143.90,348.14 L144.10,351.90 L143.70,355.10 L142.30,356.60 L137.10,356.60 L135.70,355.10 L135.30,351.90 L135.50,348.14 L136.10,344.38 L136.90,341.18 L138.10,338.93 L139.70,337.80 Z" fill="none" stroke="#40b8c0" stroke-width="1.5" stroke-linejoin="round" opacity="0.85"/>
<path d="M139.70,337.80 L141.30,338.93 L142.50,341.18 L143.30,344.38 L143.90,348.14 L144.10,351.90 L143.70,355.10 L142.30,356.60 L137.10,356.60 L135.70,355.10 L135.30,351.90 L135.50,348.14 L136.10,344.38 L136.90,341.18 L138.10,338.93 L139.70,337.80 Z" fill="#ec1010" stroke="#d0a020" stroke-width="0.5" stroke-linejoin="round"/>
<line x1="137.20" y1="356.60" x2="136.70" y2="359.10" stroke="#7080d0" stroke-width="0.6"/>
<line x1="142.20" y1="356.60" x2="142.70" y2="359.10" stroke="#7080d0" stroke-width="0.6"/>
<path d="M148.55,337.80 L150.15,338.93 L151.35,341.18 L152.15,344.38 L152.75,348.14 L152.95,351.90 L152.55,355.10 L151.15,356.60 L145.95,356.60 L144.55,355.10 L144.15,351.90 L144.35,348.14 L144.95,344.38 L145.75,341.18 L146.95,338.93 L148.55,337.80 Z" fill="none" stroke="#40b8c0" stroke-width="1.5" stroke-linejoin="round" opacity="0.85"/>
<path d="M148.55,337.80 L150.15,338.93 L151.35,341.18 L152.15,344.38 L152.75,348.14 L152.95,351.90 L152.55,355.10 L151.15,356.60 L145.95,356.60 L144.55,355.10 L144.15,351.90 L144.35,348.14 L144.95,344.38 L145.75,341.18 L146.95,338.93 L148.55,337.80 Z" fill="#ec1010" stroke="#d0a020" stroke-width="0.5" stroke-linejoin="round"/>
<line x1="146.05" y1="356.60" x2="145.55" y2="359.10" stroke="#7080d0" stroke-width="0.6"/>
<line x1="151.05" y1="356.60" x2="151.55" y2="359.10" stroke="#7080d0" stroke-width="0.6"/>
<path d="M157.40,337.80 L159.00,338.93 L160.20,341.18 L161.00,344.38 L161.60,348.14 L161.80,351.90 L161.40,355.10 L160.00,356.60 L154.80,356.60 L153.40,355.10 L153.00,351.90 L153.20,348.14 L153.80,344.38 L154.60,341.18 L155.80,338.93 L157.40,337.80 Z" fill="none" stroke="#40b8c0" stroke-width="1.5" stroke-linejoin="round" opacity="0.85"/>
<path d="M157.40,337.80 L159.00,338.93 L160.20,341.18 L161.00,344.38 L161.60,348.14 L161.80,351.90 L161.40,355.10 L160.00,356.60 L154.80,356.60 L153.40,355.10 L153.00,351.90 L153.20,348.14 L153.80,344.38 L154.60,341.18 L155.80,338.93 L157.40,337.80 Z" fill="#ec1010" stroke="#d0a020" stroke-width="0.5" stroke-linejoin="round"/>
<line x1="154.90" y1="356.60" x2="154.40" y2="359.10" stroke="#7080d0" stroke-width="0.6"/>
<line x1="159.90" y1="356.60" x2="160.40" y2="359.10" stroke="#7080d0" stroke-width="0.6"/>
<path d="M166.25,337.80 L167.85,338.93 L169.05,341.18 L169.85,344.38 L170.45,348.14 L170.65,351.90 L170.25,355.10 L168.85,356.60 L163.65,356.60 L162.25,355.10 L161.85,351.90 L162.05,348.14 L162.65,344.38 L163.45,341.18 L164.65,338.93 L166.25,337.80 Z" fill="none" stroke="#40b8c0" stroke-width="1.5" stroke-linejoin="round" opacity="0.85"/>
<path d="M166.25,337.80 L167.85,338.93 L169.05,341.18 L169.85,344.38 L170.45,348.14 L170.65,351.90 L170.25,355.10 L168.85,356.60 L163.65,356.60 L162.25,355.10 L161.85,351.90 L162.05,348.14 L162.65,344.38 L163.45,341.18 L164.65,338.93 L166.25,337.80 Z" fill="#ec1010" stroke="#d0a020" stroke-width="0.5" stroke-linejoin="round"/>
<line x1="163.75" y1="356.60" x2="163.25" y2="359.10" stroke="#7080d0" stroke-width="0.6"/>
<line x1="168.75" y1="356.60" x2="169.25" y2="359.10" stroke="#7080d0" stroke-width="0.6"/>
<path d="M175.10,337.80 L176.70,338.93 L177.90,341.18 L178.70,344.38 L179.30,348.14 L179.50,351.90 L179.10,355.10 L177.70,356.60 L172.50,356.60 L171.10,355.10 L170.70,351.90 L170.90,348.14 L171.50,344.38 L172.30,341.18 L173.50,338.93 L175.10,337.80 Z" fill="none" stroke="#40b8c0" stroke-width="1.5" stroke-linejoin="round" opacity="0.85"/>
<path d="M175.10,337.80 L176.70,338.93 L177.90,341.18 L178.70,344.38 L179.30,348.14 L179.50,351.90 L179.10,355.10 L177.70,356.60 L172.50,356.60 L171.10,355.10 L170.70,351.90 L170.90,348.14 L171.50,344.38 L172.30,341.18 L173.50,338.93 L175.10,337.80 Z" fill="#ec1010" stroke="#d0a020" stroke-width="0.5" stroke-linejoin="round"/>
<line x1="172.60" y1="356.60" x2="172.10" y2="359.10" stroke="#7080d0" stroke-width="0.6"/>
<line x1="177.60" y1="356.60" x2="178.10" y2="359.10" stroke="#7080d0" stroke-width="0.6"/>
<rect x="81.3" y="286.9" width="47.90" height="22.50" fill="#141216"/>
<path d="M87.55,287.90 L88.49,289.26 L89.02,291.02 L89.33,292.97 L90.28,294.53 L91.02,296.67 L91.22,299.60 L91.22,302.72 L90.80,305.06 L89.44,306.42 L85.66,306.42 L84.30,305.06 L83.88,302.72 L83.88,299.60 L84.08,296.67 L84.82,294.53 L85.77,292.97 L86.08,291.02 L86.61,289.26 L87.55,287.90 Z" fill="#e2dcf4" stroke="#b0a4e0" stroke-width="0.5" stroke-linejoin="round"/>
<path d="M87.55,290.10 C89.55,291.40 91.15,295.45 90.95,298.60 Q87.55,301.75 84.15,298.60 C83.95,295.45 85.55,291.40 87.55,290.10 Z" fill="#5a48c8"/>
<ellipse cx="85.55" cy="304.90" rx="1.5" ry="1.58" fill="#6050c8"/>
<ellipse cx="89.55" cy="304.90" rx="1.5" ry="1.58" fill="#6050c8"/>
<line x1="85.15" y1="307.00" x2="84.55" y2="309.10" stroke="#8c84b0" stroke-width="0.5"/>
<line x1="89.95" y1="307.00" x2="90.55" y2="309.10" stroke="#8c84b0" stroke-width="0.5"/>
<path d="M96.40,287.90 L97.34,289.26 L97.87,291.02 L98.19,292.97 L99.13,294.53 L99.87,296.67 L100.08,299.60 L100.08,302.72 L99.66,305.06 L98.29,306.42 L94.51,306.42 L93.15,305.06 L92.73,302.72 L92.73,299.60 L92.94,296.67 L93.67,294.53 L94.62,292.97 L94.93,291.02 L95.46,289.26 L96.40,287.90 Z" fill="#e2dcf4" stroke="#b0a4e0" stroke-width="0.5" stroke-linejoin="round"/>
<path d="M96.40,290.10 C98.40,291.40 100.00,295.45 99.80,298.60 Q96.40,301.75 93.00,298.60 C92.80,295.45 94.40,291.40 96.40,290.10 Z" fill="#5a48c8"/>
<ellipse cx="94.40" cy="304.90" rx="1.5" ry="1.58" fill="#6050c8"/>
<ellipse cx="98.40" cy="304.90" rx="1.5" ry="1.58" fill="#6050c8"/>
<line x1="94.00" y1="307.00" x2="93.40" y2="309.10" stroke="#8c84b0" stroke-width="0.5"/>
<line x1="98.80" y1="307.00" x2="99.40" y2="309.10" stroke="#8c84b0" stroke-width="0.5"/>
<path d="M105.25,287.90 L106.19,289.26 L106.72,291.02 L107.03,292.97 L107.98,294.53 L108.72,296.67 L108.92,299.60 L108.92,302.72 L108.50,305.06 L107.14,306.42 L103.36,306.42 L102.00,305.06 L101.58,302.72 L101.58,299.60 L101.78,296.67 L102.52,294.53 L103.47,292.97 L103.78,291.02 L104.31,289.26 L105.25,287.90 Z" fill="#e2dcf4" stroke="#b0a4e0" stroke-width="0.5" stroke-linejoin="round"/>
<path d="M105.25,290.10 C107.25,291.40 108.85,295.45 108.65,298.60 Q105.25,301.75 101.85,298.60 C101.65,295.45 103.25,291.40 105.25,290.10 Z" fill="#5a48c8"/>
<ellipse cx="103.25" cy="304.90" rx="1.5" ry="1.58" fill="#6050c8"/>
<ellipse cx="107.25" cy="304.90" rx="1.5" ry="1.58" fill="#6050c8"/>
<line x1="102.85" y1="307.00" x2="102.25" y2="309.10" stroke="#8c84b0" stroke-width="0.5"/>
<line x1="107.65" y1="307.00" x2="108.25" y2="309.10" stroke="#8c84b0" stroke-width="0.5"/>
<path d="M114.10,287.90 L115.04,289.26 L115.57,291.02 L115.88,292.97 L116.83,294.53 L117.56,296.67 L117.77,299.60 L117.77,302.72 L117.35,305.06 L115.99,306.42 L112.21,306.42 L110.84,305.06 L110.42,302.72 L110.42,299.60 L110.63,296.67 L111.37,294.53 L112.31,292.97 L112.63,291.02 L113.16,289.26 L114.10,287.90 Z" fill="#e2dcf4" stroke="#b0a4e0" stroke-width="0.5" stroke-linejoin="round"/>
<path d="M114.10,290.10 C116.10,291.40 117.70,295.45 117.50,298.60 Q114.10,301.75 110.70,298.60 C110.50,295.45 112.10,291.40 114.10,290.10 Z" fill="#5a48c8"/>
<ellipse cx="112.10" cy="304.90" rx="1.5" ry="1.58" fill="#6050c8"/>
<ellipse cx="116.10" cy="304.90" rx="1.5" ry="1.58" fill="#6050c8"/>
<line x1="111.70" y1="307.00" x2="111.10" y2="309.10" stroke="#8c84b0" stroke-width="0.5"/>
<line x1="116.50" y1="307.00" x2="117.10" y2="309.10" stroke="#8c84b0" stroke-width="0.5"/>
<path d="M122.95,287.90 L123.89,289.26 L124.42,291.02 L124.73,292.97 L125.68,294.53 L126.42,296.67 L126.62,299.60 L126.62,302.72 L126.20,305.06 L124.84,306.42 L121.06,306.42 L119.70,305.06 L119.28,302.72 L119.28,299.60 L119.48,296.67 L120.22,294.53 L121.17,292.97 L121.48,291.02 L122.01,289.26 L122.95,287.90 Z" fill="#e2dcf4" stroke="#b0a4e0" stroke-width="0.5" stroke-linejoin="round"/>
<path d="M122.95,290.10 C124.95,291.40 126.55,295.45 126.35,298.60 Q122.95,301.75 119.55,298.60 C119.35,295.45 120.95,291.40 122.95,290.10 Z" fill="#5a48c8"/>
<ellipse cx="120.95" cy="304.90" rx="1.5" ry="1.58" fill="#6050c8"/>
<ellipse cx="124.95" cy="304.90" rx="1.5" ry="1.58" fill="#6050c8"/>
<line x1="120.55" y1="307.00" x2="119.95" y2="309.10" stroke="#8c84b0" stroke-width="0.5"/>
<line x1="125.35" y1="307.00" x2="125.95" y2="309.10" stroke="#8c84b0" stroke-width="0.5"/>
<rect x="81.3" y="310.6" width="47.90" height="23.00" fill="#262626"/>
<path d="M87.45,311.50 L88.35,312.86 L88.85,314.60 L89.15,316.54 L90.05,318.10 L90.75,320.23 L90.95,323.14 L90.95,326.24 L90.55,328.57 L89.25,329.93 L85.65,329.93 L84.35,328.57 L83.95,326.24 L83.95,323.14 L84.15,320.23 L84.85,318.10 L85.75,316.54 L86.05,314.60 L86.55,312.86 L87.45,311.50 Z" fill="#d6d6d6" stroke="#a0a0a0" stroke-width="0.5" stroke-linejoin="round"/>
<ellipse cx="87.45" cy="323.94" rx="2.6" ry="5.52" fill="#f0f0f0"/>
<line x1="87.45" y1="330.60" x2="87.45" y2="333.40" stroke="#8a8a8a" stroke-width="0.6"/>
<line x1="85.05" y1="330.40" x2="84.65" y2="332.60" stroke="#707070" stroke-width="0.5"/>
<line x1="89.85" y1="330.40" x2="90.25" y2="332.60" stroke="#707070" stroke-width="0.5"/>
<path d="M96.35,311.50 L97.25,312.86 L97.75,314.60 L98.05,316.54 L98.95,318.10 L99.65,320.23 L99.85,323.14 L99.85,326.24 L99.45,328.57 L98.15,329.93 L94.55,329.93 L93.25,328.57 L92.85,326.24 L92.85,323.14 L93.05,320.23 L93.75,318.10 L94.65,316.54 L94.95,314.60 L95.45,312.86 L96.35,311.50 Z" fill="#d6d6d6" stroke="#a0a0a0" stroke-width="0.5" stroke-linejoin="round"/>
<ellipse cx="96.35" cy="323.94" rx="2.6" ry="5.52" fill="#f0f0f0"/>
<line x1="96.35" y1="330.60" x2="96.35" y2="333.40" stroke="#8a8a8a" stroke-width="0.6"/>
<line x1="93.95" y1="330.40" x2="93.55" y2="332.60" stroke="#707070" stroke-width="0.5"/>
<line x1="98.75" y1="330.40" x2="99.15" y2="332.60" stroke="#707070" stroke-width="0.5"/>
<path d="M105.25,311.50 L106.15,312.86 L106.65,314.60 L106.95,316.54 L107.85,318.10 L108.55,320.23 L108.75,323.14 L108.75,326.24 L108.35,328.57 L107.05,329.93 L103.45,329.93 L102.15,328.57 L101.75,326.24 L101.75,323.14 L101.95,320.23 L102.65,318.10 L103.55,316.54 L103.85,314.60 L104.35,312.86 L105.25,311.50 Z" fill="#d6d6d6" stroke="#a0a0a0" stroke-width="0.5" stroke-linejoin="round"/>
<ellipse cx="105.25" cy="323.94" rx="2.6" ry="5.52" fill="#f0f0f0"/>
<line x1="105.25" y1="330.60" x2="105.25" y2="333.40" stroke="#8a8a8a" stroke-width="0.6"/>
<line x1="102.85" y1="330.40" x2="102.45" y2="332.60" stroke="#707070" stroke-width="0.5"/>
<line x1="107.65" y1="330.40" x2="108.05" y2="332.60" stroke="#707070" stroke-width="0.5"/>
<path d="M114.15,311.50 L115.05,312.86 L115.55,314.60 L115.85,316.54 L116.75,318.10 L117.45,320.23 L117.65,323.14 L117.65,326.24 L117.25,328.57 L115.95,329.93 L112.35,329.93 L111.05,328.57 L110.65,326.24 L110.65,323.14 L110.85,320.23 L111.55,318.10 L112.45,316.54 L112.75,314.60 L113.25,312.86 L114.15,311.50 Z" fill="#d6d6d6" stroke="#a0a0a0" stroke-width="0.5" stroke-linejoin="round"/>
<ellipse cx="114.15" cy="323.94" rx="2.6" ry="5.52" fill="#f0f0f0"/>
<line x1="114.15" y1="330.60" x2="114.15" y2="333.40" stroke="#8a8a8a" stroke-width="0.6"/>
<line x1="111.75" y1="330.40" x2="111.35" y2="332.60" stroke="#707070" stroke-width="0.5"/>
<line x1="116.55" y1="330.40" x2="116.95" y2="332.60" stroke="#707070" stroke-width="0.5"/>
<path d="M123.05,311.50 L123.95,312.86 L124.45,314.60 L124.75,316.54 L125.65,318.10 L126.35,320.23 L126.55,323.14 L126.55,326.24 L126.15,328.57 L124.85,329.93 L121.25,329.93 L119.95,328.57 L119.55,326.24 L119.55,323.14 L119.75,320.23 L120.45,318.10 L121.35,316.54 L121.65,314.60 L122.15,312.86 L123.05,311.50 Z" fill="#d6d6d6" stroke="#a0a0a0" stroke-width="0.5" stroke-linejoin="round"/>
<ellipse cx="123.05" cy="323.94" rx="2.6" ry="5.52" fill="#f0f0f0"/>
<line x1="123.05" y1="330.60" x2="123.05" y2="333.40" stroke="#8a8a8a" stroke-width="0.6"/>
<line x1="120.65" y1="330.40" x2="120.25" y2="332.60" stroke="#707070" stroke-width="0.5"/>
<line x1="125.45" y1="330.40" x2="125.85" y2="332.60" stroke="#707070" stroke-width="0.5"/>
<rect x="81.3" y="336.2" width="47.90" height="23.20" fill="#262626"/>
<path d="M87.45,337.10 L88.35,338.47 L88.85,340.24 L89.15,342.20 L90.05,343.76 L90.75,345.92 L90.95,348.86 L90.95,352.00 L90.55,354.35 L89.25,355.72 L85.65,355.72 L84.35,354.35 L83.95,352.00 L83.95,348.86 L84.15,345.92 L84.85,343.76 L85.75,342.20 L86.05,340.24 L86.55,338.47 L87.45,337.10 Z" fill="#d6d6d6" stroke="#a0a0a0" stroke-width="0.5" stroke-linejoin="round"/>
<ellipse cx="87.45" cy="349.66" rx="2.6" ry="5.57" fill="#f0f0f0"/>
<line x1="87.45" y1="356.40" x2="87.45" y2="359.20" stroke="#8a8a8a" stroke-width="0.6"/>
<line x1="85.05" y1="356.20" x2="84.65" y2="358.40" stroke="#707070" stroke-width="0.5"/>
<line x1="89.85" y1="356.20" x2="90.25" y2="358.40" stroke="#707070" stroke-width="0.5"/>
<path d="M96.35,337.10 L97.25,338.47 L97.75,340.24 L98.05,342.20 L98.95,343.76 L99.65,345.92 L99.85,348.86 L99.85,352.00 L99.45,354.35 L98.15,355.72 L94.55,355.72 L93.25,354.35 L92.85,352.00 L92.85,348.86 L93.05,345.92 L93.75,343.76 L94.65,342.20 L94.95,340.24 L95.45,338.47 L96.35,337.10 Z" fill="#d6d6d6" stroke="#a0a0a0" stroke-width="0.5" stroke-linejoin="round"/>
<ellipse cx="96.35" cy="349.66" rx="2.6" ry="5.57" fill="#f0f0f0"/>
<line x1="96.35" y1="356.40" x2="96.35" y2="359.20" stroke="#8a8a8a" stroke-width="0.6"/>
<line x1="93.95" y1="356.20" x2="93.55" y2="358.40" stroke="#707070" stroke-width="0.5"/>
<line x1="98.75" y1="356.20" x2="99.15" y2="358.40" stroke="#707070" stroke-width="0.5"/>
<path d="M105.25,337.10 L106.15,338.47 L106.65,340.24 L106.95,342.20 L107.85,343.76 L108.55,345.92 L108.75,348.86 L108.75,352.00 L108.35,354.35 L107.05,355.72 L103.45,355.72 L102.15,354.35 L101.75,352.00 L101.75,348.86 L101.95,345.92 L102.65,343.76 L103.55,342.20 L103.85,340.24 L104.35,338.47 L105.25,337.10 Z" fill="#d6d6d6" stroke="#a0a0a0" stroke-width="0.5" stroke-linejoin="round"/>
<ellipse cx="105.25" cy="349.66" rx="2.6" ry="5.57" fill="#f0f0f0"/>
<line x1="105.25" y1="356.40" x2="105.25" y2="359.20" stroke="#8a8a8a" stroke-width="0.6"/>
<line x1="102.85" y1="356.20" x2="102.45" y2="358.40" stroke="#707070" stroke-width="0.5"/>
<line x1="107.65" y1="356.20" x2="108.05" y2="358.40" stroke="#707070" stroke-width="0.5"/>
<path d="M114.15,337.10 L115.05,338.47 L115.55,340.24 L115.85,342.20 L116.75,343.76 L117.45,345.92 L117.65,348.86 L117.65,352.00 L117.25,354.35 L115.95,355.72 L112.35,355.72 L111.05,354.35 L110.65,352.00 L110.65,348.86 L110.85,345.92 L111.55,343.76 L112.45,342.20 L112.75,340.24 L113.25,338.47 L114.15,337.10 Z" fill="#d6d6d6" stroke="#a0a0a0" stroke-width="0.5" stroke-linejoin="round"/>
<ellipse cx="114.15" cy="349.66" rx="2.6" ry="5.57" fill="#f0f0f0"/>
<line x1="114.15" y1="356.40" x2="114.15" y2="359.20" stroke="#8a8a8a" stroke-width="0.6"/>
<line x1="111.75" y1="356.20" x2="111.35" y2="358.40" stroke="#707070" stroke-width="0.5"/>
<line x1="116.55" y1="356.20" x2="116.95" y2="358.40" stroke="#707070" stroke-width="0.5"/>
<path d="M123.05,337.10 L123.95,338.47 L124.45,340.24 L124.75,342.20 L125.65,343.76 L126.35,345.92 L126.55,348.86 L126.55,352.00 L126.15,354.35 L124.85,355.72 L121.25,355.72 L119.95,354.35 L119.55,352.00 L119.55,348.86 L119.75,345.92 L120.45,343.76 L121.35,342.20 L121.65,340.24 L122.15,338.47 L123.05,337.10 Z" fill="#d6d6d6" stroke="#a0a0a0" stroke-width="0.5" stroke-linejoin="round"/>
<ellipse cx="123.05" cy="349.66" rx="2.6" ry="5.57" fill="#f0f0f0"/>
<line x1="123.05" y1="356.40" x2="123.05" y2="359.20" stroke="#8a8a8a" stroke-width="0.6"/>
<line x1="120.65" y1="356.20" x2="120.25" y2="358.40" stroke="#707070" stroke-width="0.5"/>
<line x1="125.45" y1="356.20" x2="125.85" y2="358.40" stroke="#707070" stroke-width="0.5"/>
<rect x="81.3" y="361.0" width="47.90" height="22.60" fill="#262626"/>
<path d="M87.45,361.90 L88.35,363.23 L88.85,364.94 L89.15,366.84 L90.05,368.36 L90.75,370.45 L90.95,373.30 L90.95,376.34 L90.55,378.62 L89.25,379.95 L85.65,379.95 L84.35,378.62 L83.95,376.34 L83.95,373.30 L84.15,370.45 L84.85,368.36 L85.75,366.84 L86.05,364.94 L86.55,363.23 L87.45,361.90 Z" fill="#d6d6d6" stroke="#a0a0a0" stroke-width="0.5" stroke-linejoin="round"/>
<ellipse cx="87.45" cy="374.11" rx="2.6" ry="5.42" fill="#f0f0f0"/>
<line x1="87.45" y1="380.60" x2="87.45" y2="383.40" stroke="#8a8a8a" stroke-width="0.6"/>
<line x1="85.05" y1="380.40" x2="84.65" y2="382.60" stroke="#707070" stroke-width="0.5"/>
<line x1="89.85" y1="380.40" x2="90.25" y2="382.60" stroke="#707070" stroke-width="0.5"/>
<path d="M96.35,361.90 L97.25,363.23 L97.75,364.94 L98.05,366.84 L98.95,368.36 L99.65,370.45 L99.85,373.30 L99.85,376.34 L99.45,378.62 L98.15,379.95 L94.55,379.95 L93.25,378.62 L92.85,376.34 L92.85,373.30 L93.05,370.45 L93.75,368.36 L94.65,366.84 L94.95,364.94 L95.45,363.23 L96.35,361.90 Z" fill="#d6d6d6" stroke="#a0a0a0" stroke-width="0.5" stroke-linejoin="round"/>
<ellipse cx="96.35" cy="374.11" rx="2.6" ry="5.42" fill="#f0f0f0"/>
<line x1="96.35" y1="380.60" x2="96.35" y2="383.40" stroke="#8a8a8a" stroke-width="0.6"/>
<line x1="93.95" y1="380.40" x2="93.55" y2="382.60" stroke="#707070" stroke-width="0.5"/>
<line x1="98.75" y1="380.40" x2="99.15" y2="382.60" stroke="#707070" stroke-width="0.5"/>
<path d="M105.25,361.90 L106.15,363.23 L106.65,364.94 L106.95,366.84 L107.85,368.36 L108.55,370.45 L108.75,373.30 L108.75,376.34 L108.35,378.62 L107.05,379.95 L103.45,379.95 L102.15,378.62 L101.75,376.34 L101.75,373.30 L101.95,370.45 L102.65,368.36 L103.55,366.84 L103.85,364.94 L104.35,363.23 L105.25,361.90 Z" fill="#d6d6d6" stroke="#a0a0a0" stroke-width="0.5" stroke-linejoin="round"/>
<ellipse cx="105.25" cy="374.11" rx="2.6" ry="5.42" fill="#f0f0f0"/>
<line x1="105.25" y1="380.60" x2="105.25" y2="383.40" stroke="#8a8a8a" stroke-width="0.6"/>
<line x1="102.85" y1="380.40" x2="102.45" y2="382.60" stroke="#707070" stroke-width="0.5"/>
<line x1="107.65" y1="380.40" x2="108.05" y2="382.60" stroke="#707070" stroke-width="0.5"/>
<path d="M114.15,361.90 L115.05,363.23 L115.55,364.94 L115.85,366.84 L116.75,368.36 L117.45,370.45 L117.65,373.30 L117.65,376.34 L117.25,378.62 L115.95,379.95 L112.35,379.95 L111.05,378.62 L110.65,376.34 L110.65,373.30 L110.85,370.45 L111.55,368.36 L112.45,366.84 L112.75,364.94 L113.25,363.23 L114.15,361.90 Z" fill="#d6d6d6" stroke="#a0a0a0" stroke-width="0.5" stroke-linejoin="round"/>
<ellipse cx="114.15" cy="374.11" rx="2.6" ry="5.42" fill="#f0f0f0"/>
<line x1="114.15" y1="380.60" x2="114.15" y2="383.40" stroke="#8a8a8a" stroke-width="0.6"/>
<line x1="111.75" y1="380.40" x2="111.35" y2="382.60" stroke="#707070" stroke-width="0.5"/>
<line x1="116.55" y1="380.40" x2="116.95" y2="382.60" stroke="#707070" stroke-width="0.5"/>
<path d="M123.05,361.90 L123.95,363.23 L124.45,364.94 L124.75,366.84 L125.65,368.36 L126.35,370.45 L126.55,373.30 L126.55,376.34 L126.15,378.62 L124.85,379.95 L121.25,379.95 L119.95,378.62 L119.55,376.34 L119.55,373.30 L119.75,370.45 L120.45,368.36 L121.35,366.84 L121.65,364.94 L122.15,363.23 L123.05,361.90 Z" fill="#d6d6d6" stroke="#a0a0a0" stroke-width="0.5" stroke-linejoin="round"/>
<ellipse cx="123.05" cy="374.11" rx="2.6" ry="5.42" fill="#f0f0f0"/>
<line x1="123.05" y1="380.60" x2="123.05" y2="383.40" stroke="#8a8a8a" stroke-width="0.6"/>
<line x1="120.65" y1="380.40" x2="120.25" y2="382.60" stroke="#707070" stroke-width="0.5"/>
<line x1="125.45" y1="380.40" x2="125.85" y2="382.60" stroke="#707070" stroke-width="0.5"/>
<rect x="184.0" y="286.9" width="48.40" height="22.50" fill="#141216"/>
<path d="M190.50,287.90 L191.44,289.26 L191.97,291.02 L192.28,292.97 L193.23,294.53 L193.97,296.67 L194.18,299.60 L194.18,302.72 L193.75,305.06 L192.39,306.42 L188.61,306.42 L187.25,305.06 L186.82,302.72 L186.82,299.60 L187.03,296.67 L187.77,294.53 L188.72,292.97 L189.03,291.02 L189.56,289.26 L190.50,287.90 Z" fill="#e2dcf4" stroke="#b0a4e0" stroke-width="0.5" stroke-linejoin="round"/>
<path d="M190.50,290.10 C192.50,291.40 194.10,295.45 193.90,298.60 Q190.50,301.75 187.10,298.60 C186.90,295.45 188.50,291.40 190.50,290.10 Z" fill="#5a48c8"/>
<ellipse cx="188.50" cy="304.90" rx="1.5" ry="1.58" fill="#6050c8"/>
<ellipse cx="192.50" cy="304.90" rx="1.5" ry="1.58" fill="#6050c8"/>
<line x1="188.10" y1="307.00" x2="187.50" y2="309.10" stroke="#8c84b0" stroke-width="0.5"/>
<line x1="192.90" y1="307.00" x2="193.50" y2="309.10" stroke="#8c84b0" stroke-width="0.5"/>
<path d="M199.35,287.90 L200.29,289.26 L200.82,291.02 L201.13,292.97 L202.08,294.53 L202.81,296.67 L203.03,299.60 L203.03,302.72 L202.60,305.06 L201.24,306.42 L197.46,306.42 L196.09,305.06 L195.67,302.72 L195.67,299.60 L195.88,296.67 L196.62,294.53 L197.56,292.97 L197.88,291.02 L198.41,289.26 L199.35,287.90 Z" fill="#e2dcf4" stroke="#b0a4e0" stroke-width="0.5" stroke-linejoin="round"/>
<path d="M199.35,290.10 C201.35,291.40 202.95,295.45 202.75,298.60 Q199.35,301.75 195.95,298.60 C195.75,295.45 197.35,291.40 199.35,290.10 Z" fill="#5a48c8"/>
<ellipse cx="197.35" cy="304.90" rx="1.5" ry="1.58" fill="#6050c8"/>
<ellipse cx="201.35" cy="304.90" rx="1.5" ry="1.58" fill="#6050c8"/>
<line x1="196.95" y1="307.00" x2="196.35" y2="309.10" stroke="#8c84b0" stroke-width="0.5"/>
<line x1="201.75" y1="307.00" x2="202.35" y2="309.10" stroke="#8c84b0" stroke-width="0.5"/>
<path d="M208.20,287.90 L209.14,289.26 L209.67,291.02 L209.98,292.97 L210.93,294.53 L211.66,296.67 L211.88,299.60 L211.88,302.72 L211.45,305.06 L210.09,306.42 L206.31,306.42 L204.94,305.06 L204.52,302.72 L204.52,299.60 L204.73,296.67 L205.47,294.53 L206.41,292.97 L206.73,291.02 L207.25,289.26 L208.20,287.90 Z" fill="#e2dcf4" stroke="#b0a4e0" stroke-width="0.5" stroke-linejoin="round"/>
<path d="M208.20,290.10 C210.20,291.40 211.80,295.45 211.60,298.60 Q208.20,301.75 204.80,298.60 C204.60,295.45 206.20,291.40 208.20,290.10 Z" fill="#5a48c8"/>
<ellipse cx="206.20" cy="304.90" rx="1.5" ry="1.58" fill="#6050c8"/>
<ellipse cx="210.20" cy="304.90" rx="1.5" ry="1.58" fill="#6050c8"/>
<line x1="205.80" y1="307.00" x2="205.20" y2="309.10" stroke="#8c84b0" stroke-width="0.5"/>
<line x1="210.60" y1="307.00" x2="211.20" y2="309.10" stroke="#8c84b0" stroke-width="0.5"/>
<path d="M217.05,287.90 L217.99,289.26 L218.52,291.02 L218.83,292.97 L219.78,294.53 L220.51,296.67 L220.72,299.60 L220.72,302.72 L220.30,305.06 L218.94,306.42 L215.16,306.42 L213.79,305.06 L213.37,302.72 L213.37,299.60 L213.58,296.67 L214.32,294.53 L215.26,292.97 L215.58,291.02 L216.10,289.26 L217.05,287.90 Z" fill="#e2dcf4" stroke="#b0a4e0" stroke-width="0.5" stroke-linejoin="round"/>
<path d="M217.05,290.10 C219.05,291.40 220.65,295.45 220.45,298.60 Q217.05,301.75 213.65,298.60 C213.45,295.45 215.05,291.40 217.05,290.10 Z" fill="#5a48c8"/>
<ellipse cx="215.05" cy="304.90" rx="1.5" ry="1.58" fill="#6050c8"/>
<ellipse cx="219.05" cy="304.90" rx="1.5" ry="1.58" fill="#6050c8"/>
<line x1="214.65" y1="307.00" x2="214.05" y2="309.10" stroke="#8c84b0" stroke-width="0.5"/>
<line x1="219.45" y1="307.00" x2="220.05" y2="309.10" stroke="#8c84b0" stroke-width="0.5"/>
<path d="M225.90,287.90 L226.84,289.26 L227.37,291.02 L227.68,292.97 L228.63,294.53 L229.36,296.67 L229.57,299.60 L229.57,302.72 L229.15,305.06 L227.79,306.42 L224.01,306.42 L222.64,305.06 L222.22,302.72 L222.22,299.60 L222.43,296.67 L223.17,294.53 L224.11,292.97 L224.43,291.02 L224.95,289.26 L225.90,287.90 Z" fill="#e2dcf4" stroke="#b0a4e0" stroke-width="0.5" stroke-linejoin="round"/>
<path d="M225.90,290.10 C227.90,291.40 229.50,295.45 229.30,298.60 Q225.90,301.75 222.50,298.60 C222.30,295.45 223.90,291.40 225.90,290.10 Z" fill="#5a48c8"/>
<ellipse cx="223.90" cy="304.90" rx="1.5" ry="1.58" fill="#6050c8"/>
<ellipse cx="227.90" cy="304.90" rx="1.5" ry="1.58" fill="#6050c8"/>
<line x1="223.50" y1="307.00" x2="222.90" y2="309.10" stroke="#8c84b0" stroke-width="0.5"/>
<line x1="228.30" y1="307.00" x2="228.90" y2="309.10" stroke="#8c84b0" stroke-width="0.5"/>
<rect x="184.0" y="310.6" width="48.40" height="23.00" fill="#262626"/>
<path d="M190.40,311.50 L191.30,312.86 L191.80,314.60 L192.10,316.54 L193.00,318.10 L193.70,320.23 L193.90,323.14 L193.90,326.24 L193.50,328.57 L192.20,329.93 L188.60,329.93 L187.30,328.57 L186.90,326.24 L186.90,323.14 L187.10,320.23 L187.80,318.10 L188.70,316.54 L189.00,314.60 L189.50,312.86 L190.40,311.50 Z" fill="#d6d6d6" stroke="#a0a0a0" stroke-width="0.5" stroke-linejoin="round"/>
<ellipse cx="190.40" cy="323.94" rx="2.6" ry="5.52" fill="#f0f0f0"/>
<line x1="190.40" y1="330.60" x2="190.40" y2="333.40" stroke="#8a8a8a" stroke-width="0.6"/>
<line x1="188.00" y1="330.40" x2="187.60" y2="332.60" stroke="#707070" stroke-width="0.5"/>
<line x1="192.80" y1="330.40" x2="193.20" y2="332.60" stroke="#707070" stroke-width="0.5"/>
<path d="M199.30,311.50 L200.20,312.86 L200.70,314.60 L201.00,316.54 L201.90,318.10 L202.60,320.23 L202.80,323.14 L202.80,326.24 L202.40,328.57 L201.10,329.93 L197.50,329.93 L196.20,328.57 L195.80,326.24 L195.80,323.14 L196.00,320.23 L196.70,318.10 L197.60,316.54 L197.90,314.60 L198.40,312.86 L199.30,311.50 Z" fill="#d6d6d6" stroke="#a0a0a0" stroke-width="0.5" stroke-linejoin="round"/>
<ellipse cx="199.30" cy="323.94" rx="2.6" ry="5.52" fill="#f0f0f0"/>
<line x1="199.30" y1="330.60" x2="199.30" y2="333.40" stroke="#8a8a8a" stroke-width="0.6"/>
<line x1="196.90" y1="330.40" x2="196.50" y2="332.60" stroke="#707070" stroke-width="0.5"/>
<line x1="201.70" y1="330.40" x2="202.10" y2="332.60" stroke="#707070" stroke-width="0.5"/>
<path d="M208.20,311.50 L209.10,312.86 L209.60,314.60 L209.90,316.54 L210.80,318.10 L211.50,320.23 L211.70,323.14 L211.70,326.24 L211.30,328.57 L210.00,329.93 L206.40,329.93 L205.10,328.57 L204.70,326.24 L204.70,323.14 L204.90,320.23 L205.60,318.10 L206.50,316.54 L206.80,314.60 L207.30,312.86 L208.20,311.50 Z" fill="#d6d6d6" stroke="#a0a0a0" stroke-width="0.5" stroke-linejoin="round"/>
<ellipse cx="208.20" cy="323.94" rx="2.6" ry="5.52" fill="#f0f0f0"/>
<line x1="208.20" y1="330.60" x2="208.20" y2="333.40" stroke="#8a8a8a" stroke-width="0.6"/>
<line x1="205.80" y1="330.40" x2="205.40" y2="332.60" stroke="#707070" stroke-width="0.5"/>
<line x1="210.60" y1="330.40" x2="211.00" y2="332.60" stroke="#707070" stroke-width="0.5"/>
<path d="M217.10,311.50 L218.00,312.86 L218.50,314.60 L218.80,316.54 L219.70,318.10 L220.40,320.23 L220.60,323.14 L220.60,326.24 L220.20,328.57 L218.90,329.93 L215.30,329.93 L214.00,328.57 L213.60,326.24 L213.60,323.14 L213.80,320.23 L214.50,318.10 L215.40,316.54 L215.70,314.60 L216.20,312.86 L217.10,311.50 Z" fill="#d6d6d6" stroke="#a0a0a0" stroke-width="0.5" stroke-linejoin="round"/>
<ellipse cx="217.10" cy="323.94" rx="2.6" ry="5.52" fill="#f0f0f0"/>
<line x1="217.10" y1="330.60" x2="217.10" y2="333.40" stroke="#8a8a8a" stroke-width="0.6"/>
<line x1="214.70" y1="330.40" x2="214.30" y2="332.60" stroke="#707070" stroke-width="0.5"/>
<line x1="219.50" y1="330.40" x2="219.90" y2="332.60" stroke="#707070" stroke-width="0.5"/>
<path d="M226.00,311.50 L226.90,312.86 L227.40,314.60 L227.70,316.54 L228.60,318.10 L229.30,320.23 L229.50,323.14 L229.50,326.24 L229.10,328.57 L227.80,329.93 L224.20,329.93 L222.90,328.57 L222.50,326.24 L222.50,323.14 L222.70,320.23 L223.40,318.10 L224.30,316.54 L224.60,314.60 L225.10,312.86 L226.00,311.50 Z" fill="#d6d6d6" stroke="#a0a0a0" stroke-width="0.5" stroke-linejoin="round"/>
<ellipse cx="226.00" cy="323.94" rx="2.6" ry="5.52" fill="#f0f0f0"/>
<line x1="226.00" y1="330.60" x2="226.00" y2="333.40" stroke="#8a8a8a" stroke-width="0.6"/>
<line x1="223.60" y1="330.40" x2="223.20" y2="332.60" stroke="#707070" stroke-width="0.5"/>
<line x1="228.40" y1="330.40" x2="228.80" y2="332.60" stroke="#707070" stroke-width="0.5"/>
<rect x="184.0" y="336.2" width="48.40" height="23.20" fill="#262626"/>
<path d="M190.40,337.10 L191.30,338.47 L191.80,340.24 L192.10,342.20 L193.00,343.76 L193.70,345.92 L193.90,348.86 L193.90,352.00 L193.50,354.35 L192.20,355.72 L188.60,355.72 L187.30,354.35 L186.90,352.00 L186.90,348.86 L187.10,345.92 L187.80,343.76 L188.70,342.20 L189.00,340.24 L189.50,338.47 L190.40,337.10 Z" fill="#d6d6d6" stroke="#a0a0a0" stroke-width="0.5" stroke-linejoin="round"/>
<ellipse cx="190.40" cy="349.66" rx="2.6" ry="5.57" fill="#f0f0f0"/>
<line x1="190.40" y1="356.40" x2="190.40" y2="359.20" stroke="#8a8a8a" stroke-width="0.6"/>
<line x1="188.00" y1="356.20" x2="187.60" y2="358.40" stroke="#707070" stroke-width="0.5"/>
<line x1="192.80" y1="356.20" x2="193.20" y2="358.40" stroke="#707070" stroke-width="0.5"/>
<path d="M199.30,337.10 L200.20,338.47 L200.70,340.24 L201.00,342.20 L201.90,343.76 L202.60,345.92 L202.80,348.86 L202.80,352.00 L202.40,354.35 L201.10,355.72 L197.50,355.72 L196.20,354.35 L195.80,352.00 L195.80,348.86 L196.00,345.92 L196.70,343.76 L197.60,342.20 L197.90,340.24 L198.40,338.47 L199.30,337.10 Z" fill="#d6d6d6" stroke="#a0a0a0" stroke-width="0.5" stroke-linejoin="round"/>
<ellipse cx="199.30" cy="349.66" rx="2.6" ry="5.57" fill="#f0f0f0"/>
<line x1="199.30" y1="356.40" x2="199.30" y2="359.20" stroke="#8a8a8a" stroke-width="0.6"/>
<line x1="196.90" y1="356.20" x2="196.50" y2="358.40" stroke="#707070" stroke-width="0.5"/>
<line x1="201.70" y1="356.20" x2="202.10" y2="358.40" stroke="#707070" stroke-width="0.5"/>
<path d="M208.20,337.10 L209.10,338.47 L209.60,340.24 L209.90,342.20 L210.80,343.76 L211.50,345.92 L211.70,348.86 L211.70,352.00 L211.30,354.35 L210.00,355.72 L206.40,355.72 L205.10,354.35 L204.70,352.00 L204.70,348.86 L204.90,345.92 L205.60,343.76 L206.50,342.20 L206.80,340.24 L207.30,338.47 L208.20,337.10 Z" fill="#d6d6d6" stroke="#a0a0a0" stroke-width="0.5" stroke-linejoin="round"/>
<ellipse cx="208.20" cy="349.66" rx="2.6" ry="5.57" fill="#f0f0f0"/>
<line x1="208.20" y1="356.40" x2="208.20" y2="359.20" stroke="#8a8a8a" stroke-width="0.6"/>
<line x1="205.80" y1="356.20" x2="205.40" y2="358.40" stroke="#707070" stroke-width="0.5"/>
<line x1="210.60" y1="356.20" x2="211.00" y2="358.40" stroke="#707070" stroke-width="0.5"/>
<path d="M217.10,337.10 L218.00,338.47 L218.50,340.24 L218.80,342.20 L219.70,343.76 L220.40,345.92 L220.60,348.86 L220.60,352.00 L220.20,354.35 L218.90,355.72 L215.30,355.72 L214.00,354.35 L213.60,352.00 L213.60,348.86 L213.80,345.92 L214.50,343.76 L215.40,342.20 L215.70,340.24 L216.20,338.47 L217.10,337.10 Z" fill="#d6d6d6" stroke="#a0a0a0" stroke-width="0.5" stroke-linejoin="round"/>
<ellipse cx="217.10" cy="349.66" rx="2.6" ry="5.57" fill="#f0f0f0"/>
<line x1="217.10" y1="356.40" x2="217.10" y2="359.20" stroke="#8a8a8a" stroke-width="0.6"/>
<line x1="214.70" y1="356.20" x2="214.30" y2="358.40" stroke="#707070" stroke-width="0.5"/>
<line x1="219.50" y1="356.20" x2="219.90" y2="358.40" stroke="#707070" stroke-width="0.5"/>
<path d="M226.00,337.10 L226.90,338.47 L227.40,340.24 L227.70,342.20 L228.60,343.76 L229.30,345.92 L229.50,348.86 L229.50,352.00 L229.10,354.35 L227.80,355.72 L224.20,355.72 L222.90,354.35 L222.50,352.00 L222.50,348.86 L222.70,345.92 L223.40,343.76 L224.30,342.20 L224.60,340.24 L225.10,338.47 L226.00,337.10 Z" fill="#d6d6d6" stroke="#a0a0a0" stroke-width="0.5" stroke-linejoin="round"/>
<ellipse cx="226.00" cy="349.66" rx="2.6" ry="5.57" fill="#f0f0f0"/>
<line x1="226.00" y1="356.40" x2="226.00" y2="359.20" stroke="#8a8a8a" stroke-width="0.6"/>
<line x1="223.60" y1="356.20" x2="223.20" y2="358.40" stroke="#707070" stroke-width="0.5"/>
<line x1="228.40" y1="356.20" x2="228.80" y2="358.40" stroke="#707070" stroke-width="0.5"/>
<rect x="184.0" y="361.0" width="48.40" height="22.60" fill="#262626"/>
<path d="M190.40,361.90 L191.30,363.23 L191.80,364.94 L192.10,366.84 L193.00,368.36 L193.70,370.45 L193.90,373.30 L193.90,376.34 L193.50,378.62 L192.20,379.95 L188.60,379.95 L187.30,378.62 L186.90,376.34 L186.90,373.30 L187.10,370.45 L187.80,368.36 L188.70,366.84 L189.00,364.94 L189.50,363.23 L190.40,361.90 Z" fill="#d6d6d6" stroke="#a0a0a0" stroke-width="0.5" stroke-linejoin="round"/>
<ellipse cx="190.40" cy="374.11" rx="2.6" ry="5.42" fill="#f0f0f0"/>
<line x1="190.40" y1="380.60" x2="190.40" y2="383.40" stroke="#8a8a8a" stroke-width="0.6"/>
<line x1="188.00" y1="380.40" x2="187.60" y2="382.60" stroke="#707070" stroke-width="0.5"/>
<line x1="192.80" y1="380.40" x2="193.20" y2="382.60" stroke="#707070" stroke-width="0.5"/>
<path d="M199.30,361.90 L200.20,363.23 L200.70,364.94 L201.00,366.84 L201.90,368.36 L202.60,370.45 L202.80,373.30 L202.80,376.34 L202.40,378.62 L201.10,379.95 L197.50,379.95 L196.20,378.62 L195.80,376.34 L195.80,373.30 L196.00,370.45 L196.70,368.36 L197.60,366.84 L197.90,364.94 L198.40,363.23 L199.30,361.90 Z" fill="#d6d6d6" stroke="#a0a0a0" stroke-width="0.5" stroke-linejoin="round"/>
<ellipse cx="199.30" cy="374.11" rx="2.6" ry="5.42" fill="#f0f0f0"/>
<line x1="199.30" y1="380.60" x2="199.30" y2="383.40" stroke="#8a8a8a" stroke-width="0.6"/>
<line x1="196.90" y1="380.40" x2="196.50" y2="382.60" stroke="#707070" stroke-width="0.5"/>
<line x1="201.70" y1="380.40" x2="202.10" y2="382.60" stroke="#707070" stroke-width="0.5"/>
<path d="M208.20,361.90 L209.10,363.23 L209.60,364.94 L209.90,366.84 L210.80,368.36 L211.50,370.45 L211.70,373.30 L211.70,376.34 L211.30,378.62 L210.00,379.95 L206.40,379.95 L205.10,378.62 L204.70,376.34 L204.70,373.30 L204.90,370.45 L205.60,368.36 L206.50,366.84 L206.80,364.94 L207.30,363.23 L208.20,361.90 Z" fill="#d6d6d6" stroke="#a0a0a0" stroke-width="0.5" stroke-linejoin="round"/>
<ellipse cx="208.20" cy="374.11" rx="2.6" ry="5.42" fill="#f0f0f0"/>
<line x1="208.20" y1="380.60" x2="208.20" y2="383.40" stroke="#8a8a8a" stroke-width="0.6"/>
<line x1="205.80" y1="380.40" x2="205.40" y2="382.60" stroke="#707070" stroke-width="0.5"/>
<line x1="210.60" y1="380.40" x2="211.00" y2="382.60" stroke="#707070" stroke-width="0.5"/>
<path d="M217.10,361.90 L218.00,363.23 L218.50,364.94 L218.80,366.84 L219.70,368.36 L220.40,370.45 L220.60,373.30 L220.60,376.34 L220.20,378.62 L218.90,379.95 L215.30,379.95 L214.00,378.62 L213.60,376.34 L213.60,373.30 L213.80,370.45 L214.50,368.36 L215.40,366.84 L215.70,364.94 L216.20,363.23 L217.10,361.90 Z" fill="#d6d6d6" stroke="#a0a0a0" stroke-width="0.5" stroke-linejoin="round"/>
<ellipse cx="217.10" cy="374.11" rx="2.6" ry="5.42" fill="#f0f0f0"/>
<line x1="217.10" y1="380.60" x2="217.10" y2="383.40" stroke="#8a8a8a" stroke-width="0.6"/>
<line x1="214.70" y1="380.40" x2="214.30" y2="382.60" stroke="#707070" stroke-width="0.5"/>
<line x1="219.50" y1="380.40" x2="219.90" y2="382.60" stroke="#707070" stroke-width="0.5"/>
<path d="M226.00,361.90 L226.90,363.23 L227.40,364.94 L227.70,366.84 L228.60,368.36 L229.30,370.45 L229.50,373.30 L229.50,376.34 L229.10,378.62 L227.80,379.95 L224.20,379.95 L222.90,378.62 L222.50,376.34 L222.50,373.30 L222.70,370.45 L223.40,368.36 L224.30,366.84 L224.60,364.94 L225.10,363.23 L226.00,361.90 Z" fill="#d6d6d6" stroke="#a0a0a0" stroke-width="0.5" stroke-linejoin="round"/>
<ellipse cx="226.00" cy="374.11" rx="2.6" ry="5.42" fill="#f0f0f0"/>
<line x1="226.00" y1="380.60" x2="226.00" y2="383.40" stroke="#8a8a8a" stroke-width="0.6"/>
<line x1="223.60" y1="380.40" x2="223.20" y2="382.60" stroke="#707070" stroke-width="0.5"/>
<line x1="228.40" y1="380.40" x2="228.80" y2="382.60" stroke="#707070" stroke-width="0.5"/>
<path d="M33.00,365.2 L39.80,375.6 M39.80,365.2 L33.00,375.6" stroke="#e0282c" stroke-width="1.05" fill="none"/>
<path d="M41.80,365.2 L48.60,375.6 M48.60,365.2 L41.80,375.6" stroke="#e0282c" stroke-width="1.05" fill="none"/>
<path d="M50.60,365.2 L57.40,375.6 M57.40,365.2 L50.60,375.6" stroke="#e0282c" stroke-width="1.05" fill="none"/>
<path d="M59.40,365.2 L66.20,375.6 M66.20,365.2 L59.40,375.6" stroke="#e0282c" stroke-width="1.05" fill="none"/>
<path d="M68.20,365.2 L75.00,375.6 M75.00,365.2 L68.20,375.6" stroke="#e0282c" stroke-width="1.05" fill="none"/>
<path d="M136.10,365.2 L142.90,375.6 M142.90,365.2 L136.10,375.6" stroke="#e0282c" stroke-width="1.05" fill="none"/>
<path d="M145.40,365.2 L152.20,375.6 M152.20,365.2 L145.40,375.6" stroke="#e0282c" stroke-width="1.05" fill="none"/>
<path d="M154.60,365.2 L161.40,375.6 M161.40,365.2 L154.60,375.6" stroke="#e0282c" stroke-width="1.05" fill="none"/>
<path d="M163.80,365.2 L170.60,375.6 M170.60,365.2 L163.80,375.6" stroke="#e0282c" stroke-width="1.05" fill="none"/>
<path d="M173.00,365.2 L179.80,375.6 M179.80,365.2 L173.00,375.6" stroke="#e0282c" stroke-width="1.05" fill="none"/>
<line x1="13.80" y1="287.50" x2="13.80" y2="376.00" stroke="#111" stroke-width="1.0"/>
<path d="M13.8,381 L10.9,374 L13.8,375.3 L16.7,374 Z" fill="#111"/>
<text x="7.90" y="375.60" font-size="8.6" fill="#1a1a1a" stroke="#1a1a1a" stroke-width="0.38" textLength="84.60" lengthAdjust="spacingAndGlyphs" transform="rotate(-90 7.90 375.60)">Days post leukemia injection</text>
<text x="22.20" y="302.80" font-size="7.6" fill="#1a1a1a" stroke="#1a1a1a" stroke-width="0.15" text-anchor="middle" textLength="3.90" lengthAdjust="spacingAndGlyphs">7</text>
<text x="22.20" y="327.00" font-size="7.6" fill="#1a1a1a" stroke="#1a1a1a" stroke-width="0.15" text-anchor="middle" textLength="8.10" lengthAdjust="spacingAndGlyphs">14</text>
<text x="22.20" y="351.20" font-size="7.6" fill="#1a1a1a" stroke="#1a1a1a" stroke-width="0.15" text-anchor="middle" textLength="8.10" lengthAdjust="spacingAndGlyphs">21</text>
<text x="22.20" y="373.60" font-size="7.6" fill="#1a1a1a" stroke="#1a1a1a" stroke-width="0.15" text-anchor="middle" textLength="8.10" lengthAdjust="spacingAndGlyphs">28</text>
<defs><linearGradient id="cb" x1="0" x2="1" y1="0" y2="0"><stop offset="0" stop-color="#2c2a6c"/><stop offset="0.12" stop-color="#2e48b8"/><stop offset="0.27" stop-color="#3ab0e0"/><stop offset="0.45" stop-color="#58b048"/><stop offset="0.62" stop-color="#b0d020"/><stop offset="0.78" stop-color="#f0e020"/><stop offset="0.9" stop-color="#f08020"/><stop offset="1" stop-color="#d03020"/></linearGradient></defs>
<rect x="178.1" y="388.1" width="54.6" height="4.2" fill="url(#cb)" stroke="#333" stroke-width="0.4"/>
<line x1="178.60" y1="392.30" x2="178.60" y2="394.60" stroke="#222" stroke-width="0.5"/>
<line x1="181.28" y1="392.30" x2="181.28" y2="394.00" stroke="#222" stroke-width="0.5"/>
<line x1="183.96" y1="392.30" x2="183.96" y2="394.00" stroke="#222" stroke-width="0.5"/>
<line x1="186.64" y1="392.30" x2="186.64" y2="394.00" stroke="#222" stroke-width="0.5"/>
<line x1="189.32" y1="392.30" x2="189.32" y2="394.00" stroke="#222" stroke-width="0.5"/>
<line x1="192.00" y1="392.30" x2="192.00" y2="394.60" stroke="#222" stroke-width="0.5"/>
<line x1="194.68" y1="392.30" x2="194.68" y2="394.00" stroke="#222" stroke-width="0.5"/>
<line x1="197.36" y1="392.30" x2="197.36" y2="394.00" stroke="#222" stroke-width="0.5"/>
<line x1="200.04" y1="392.30" x2="200.04" y2="394.00" stroke="#222" stroke-width="0.5"/>
<line x1="202.72" y1="392.30" x2="202.72" y2="394.00" stroke="#222" stroke-width="0.5"/>
<line x1="205.40" y1="392.30" x2="205.40" y2="394.60" stroke="#222" stroke-width="0.5"/>
<line x1="208.08" y1="392.30" x2="208.08" y2="394.00" stroke="#222" stroke-width="0.5"/>
<line x1="210.76" y1="392.30" x2="210.76" y2="394.00" stroke="#222" stroke-width="0.5"/>
<line x1="213.44" y1="392.30" x2="213.44" y2="394.00" stroke="#222" stroke-width="0.5"/>
<line x1="216.12" y1="392.30" x2="216.12" y2="394.00" stroke="#222" stroke-width="0.5"/>
<line x1="218.80" y1="392.30" x2="218.80" y2="394.60" stroke="#222" stroke-width="0.5"/>
<line x1="221.48" y1="392.30" x2="221.48" y2="394.00" stroke="#222" stroke-width="0.5"/>
<line x1="224.16" y1="392.30" x2="224.16" y2="394.00" stroke="#222" stroke-width="0.5"/>
<line x1="226.84" y1="392.30" x2="226.84" y2="394.00" stroke="#222" stroke-width="0.5"/>
<line x1="229.52" y1="392.30" x2="229.52" y2="394.00" stroke="#222" stroke-width="0.5"/>
<line x1="232.20" y1="392.30" x2="232.20" y2="394.60" stroke="#222" stroke-width="0.5"/>
<g transform="translate(194.70,403.00) rotate(-45)"><text x="0" y="0" font-size="7.6" fill="#1a1a1a" stroke="#1a1a1a" stroke-width="0.18" text-anchor="end" textLength="10.2" lengthAdjust="spacingAndGlyphs">0.5</text></g>
<g transform="translate(208.30,403.00) rotate(-45)"><text x="0" y="0" font-size="7.6" fill="#1a1a1a" stroke="#1a1a1a" stroke-width="0.18" text-anchor="end" textLength="10.2" lengthAdjust="spacingAndGlyphs">1.0</text></g>
<g transform="translate(221.90,403.00) rotate(-45)"><text x="0" y="0" font-size="7.6" fill="#1a1a1a" stroke="#1a1a1a" stroke-width="0.18" text-anchor="end" textLength="10.2" lengthAdjust="spacingAndGlyphs">1.5</text></g>
<g transform="translate(235.40,403.00) rotate(-45)"><text x="0" y="0" font-size="7.6" fill="#1a1a1a" stroke="#1a1a1a" stroke-width="0.18" text-anchor="end" textLength="10.2" lengthAdjust="spacingAndGlyphs">2.0</text></g>
<text x="199.4" y="423.6" font-size="8" fill="#1a1a1a" stroke="#1a1a1a" stroke-width="0.3" textLength="7.9" lengthAdjust="spacingAndGlyphs">x10</text>
<text x="207.3" y="419.7" font-size="5" fill="#1a1a1a" stroke="#1a1a1a" stroke-width="0.15">7</text>
<text x="118.00" y="393.30" font-size="7.6" fill="#1a1a1a" stroke="#1a1a1a" stroke-width="0.15" textLength="32.00" lengthAdjust="spacingAndGlyphs">Radiance</text>
<text x="118.00" y="402.20" font-size="7.6" fill="#1a1a1a" stroke="#1a1a1a" stroke-width="0.15" textLength="50.50" lengthAdjust="spacingAndGlyphs">(p/sec/cm2/sr)</text>
<text x="118.00" y="412.00" font-size="7.6" fill="#1a1a1a" stroke="#1a1a1a" stroke-width="0.15" textLength="40.50" lengthAdjust="spacingAndGlyphs">Color Scale</text>
<text x="118" y="422.0" font-size="7.6" fill="#1a1a1a" stroke="#1a1a1a" stroke-width="0.15"><tspan textLength="39.0" lengthAdjust="spacingAndGlyphs">Min = 2x10</tspan><tspan x="157.6" font-size="5.2" dy="-3.2">5</tspan></text>
<text x="118" y="431.0" font-size="7.6" fill="#1a1a1a" stroke="#1a1a1a" stroke-width="0.15"><tspan textLength="40.3" lengthAdjust="spacingAndGlyphs">Max = 2x10</tspan><tspan x="158.9" font-size="5.2" dy="-3.2">7</tspan></text>
<text x="247.50" y="164.60" font-size="11" fill="#111" stroke="#111" stroke-width="0.15" font-weight="bold">D</text>
<line x1="295.40" y1="182.80" x2="295.40" y2="246.90" stroke="#1a1a1a" stroke-width="1.1"/>
<line x1="292.60" y1="246.90" x2="295.40" y2="246.90" stroke="#1a1a1a" stroke-width="0.9"/>
<text x="276.40" y="249.50" font-size="7.3" fill="#1a1a1a" stroke="#1a1a1a" stroke-width="0.15" textLength="8.4" lengthAdjust="spacingAndGlyphs">10</text>
<text x="285.10" y="246.20" font-size="5.2" fill="#1a1a1a" stroke="#1a1a1a" stroke-width="0.1" textLength="2.9" lengthAdjust="spacingAndGlyphs">2</text>
<line x1="293.80" y1="238.99" x2="295.40" y2="238.99" stroke="#1a1a1a" stroke-width="0.7"/>
<line x1="292.60" y1="231.07" x2="295.40" y2="231.07" stroke="#1a1a1a" stroke-width="0.9"/>
<text x="276.40" y="233.67" font-size="7.3" fill="#1a1a1a" stroke="#1a1a1a" stroke-width="0.15" textLength="8.4" lengthAdjust="spacingAndGlyphs">10</text>
<text x="285.10" y="230.37" font-size="5.2" fill="#1a1a1a" stroke="#1a1a1a" stroke-width="0.1" textLength="2.9" lengthAdjust="spacingAndGlyphs">4</text>
<line x1="293.80" y1="223.16" x2="295.40" y2="223.16" stroke="#1a1a1a" stroke-width="0.7"/>
<line x1="292.60" y1="215.25" x2="295.40" y2="215.25" stroke="#1a1a1a" stroke-width="0.9"/>
<text x="276.40" y="217.85" font-size="7.3" fill="#1a1a1a" stroke="#1a1a1a" stroke-width="0.15" textLength="8.4" lengthAdjust="spacingAndGlyphs">10</text>
<text x="285.10" y="214.55" font-size="5.2" fill="#1a1a1a" stroke="#1a1a1a" stroke-width="0.1" textLength="2.9" lengthAdjust="spacingAndGlyphs">6</text>
<line x1="293.80" y1="207.34" x2="295.40" y2="207.34" stroke="#1a1a1a" stroke-width="0.7"/>
<line x1="292.60" y1="199.43" x2="295.40" y2="199.43" stroke="#1a1a1a" stroke-width="0.9"/>
<text x="276.40" y="202.03" font-size="7.3" fill="#1a1a1a" stroke="#1a1a1a" stroke-width="0.15" textLength="8.4" lengthAdjust="spacingAndGlyphs">10</text>
<text x="285.10" y="198.72" font-size="5.2" fill="#1a1a1a" stroke="#1a1a1a" stroke-width="0.1" textLength="2.9" lengthAdjust="spacingAndGlyphs">8</text>
<line x1="293.80" y1="191.51" x2="295.40" y2="191.51" stroke="#1a1a1a" stroke-width="0.7"/>
<line x1="292.60" y1="183.60" x2="295.40" y2="183.60" stroke="#1a1a1a" stroke-width="0.9"/>
<text x="273.50" y="186.20" font-size="7.3" fill="#1a1a1a" stroke="#1a1a1a" stroke-width="0.15" textLength="8.4" lengthAdjust="spacingAndGlyphs">10</text>
<text x="282.20" y="182.90" font-size="5.2" fill="#1a1a1a" stroke="#1a1a1a" stroke-width="0.1" textLength="5.8" lengthAdjust="spacingAndGlyphs">10</text>
<line x1="295.40" y1="246.90" x2="390.70" y2="246.90" stroke="#1a1a1a" stroke-width="1.1"/>
<line x1="295.40" y1="246.90" x2="295.40" y2="249.50" stroke="#1a1a1a" stroke-width="0.9"/>
<g transform="translate(298.80,256.90) rotate(-45)"><text x="0" y="0" font-size="7.5" fill="#1a1a1a" stroke="#1a1a1a" stroke-width="0.18" text-anchor="end" textLength="4.00" lengthAdjust="spacingAndGlyphs">0</text></g>
<line x1="307.25" y1="246.90" x2="307.25" y2="249.50" stroke="#1a1a1a" stroke-width="0.9"/>
<g transform="translate(310.65,256.90) rotate(-45)"><text x="0" y="0" font-size="7.5" fill="#1a1a1a" stroke="#1a1a1a" stroke-width="0.18" text-anchor="end" textLength="8.30" lengthAdjust="spacingAndGlyphs">14</text></g>
<line x1="319.10" y1="246.90" x2="319.10" y2="249.50" stroke="#1a1a1a" stroke-width="0.9"/>
<g transform="translate(322.50,256.90) rotate(-45)"><text x="0" y="0" font-size="7.5" fill="#1a1a1a" stroke="#1a1a1a" stroke-width="0.18" text-anchor="end" textLength="8.30" lengthAdjust="spacingAndGlyphs">28</text></g>
<line x1="330.95" y1="246.90" x2="330.95" y2="249.50" stroke="#1a1a1a" stroke-width="0.9"/>
<g transform="translate(334.35,256.90) rotate(-45)"><text x="0" y="0" font-size="7.5" fill="#1a1a1a" stroke="#1a1a1a" stroke-width="0.18" text-anchor="end" textLength="8.30" lengthAdjust="spacingAndGlyphs">42</text></g>
<line x1="342.80" y1="246.90" x2="342.80" y2="249.50" stroke="#1a1a1a" stroke-width="0.9"/>
<g transform="translate(346.20,256.90) rotate(-45)"><text x="0" y="0" font-size="7.5" fill="#1a1a1a" stroke="#1a1a1a" stroke-width="0.18" text-anchor="end" textLength="8.30" lengthAdjust="spacingAndGlyphs">56</text></g>
<line x1="354.65" y1="246.90" x2="354.65" y2="249.50" stroke="#1a1a1a" stroke-width="0.9"/>
<g transform="translate(358.05,256.90) rotate(-45)"><text x="0" y="0" font-size="7.5" fill="#1a1a1a" stroke="#1a1a1a" stroke-width="0.18" text-anchor="end" textLength="8.30" lengthAdjust="spacingAndGlyphs">70</text></g>
<line x1="366.50" y1="246.90" x2="366.50" y2="249.50" stroke="#1a1a1a" stroke-width="0.9"/>
<g transform="translate(369.90,256.90) rotate(-45)"><text x="0" y="0" font-size="7.5" fill="#1a1a1a" stroke="#1a1a1a" stroke-width="0.18" text-anchor="end" textLength="8.30" lengthAdjust="spacingAndGlyphs">84</text></g>
<line x1="378.35" y1="246.90" x2="378.35" y2="249.50" stroke="#1a1a1a" stroke-width="0.9"/>
<g transform="translate(381.75,256.90) rotate(-45)"><text x="0" y="0" font-size="7.5" fill="#1a1a1a" stroke="#1a1a1a" stroke-width="0.18" text-anchor="end" textLength="8.30" lengthAdjust="spacingAndGlyphs">98</text></g>
<line x1="390.20" y1="246.90" x2="390.20" y2="249.50" stroke="#1a1a1a" stroke-width="0.9"/>
<g transform="translate(393.60,256.90) rotate(-45)"><text x="0" y="0" font-size="7.5" fill="#1a1a1a" stroke="#1a1a1a" stroke-width="0.18" text-anchor="end" textLength="12.60" lengthAdjust="spacingAndGlyphs">112</text></g>
<text x="332.60" y="179.20" font-size="9.6" fill="#1a1a1a" stroke="#1a1a1a" stroke-width="0.05" textLength="20.20" lengthAdjust="spacingAndGlyphs">REH</text>
<line x1="421.10" y1="181.80" x2="421.10" y2="246.60" stroke="#1a1a1a" stroke-width="1.1"/>
<line x1="418.30" y1="246.60" x2="421.10" y2="246.60" stroke="#1a1a1a" stroke-width="0.9"/>
<text x="402.10" y="249.20" font-size="7.3" fill="#1a1a1a" stroke="#1a1a1a" stroke-width="0.15" textLength="8.4" lengthAdjust="spacingAndGlyphs">10</text>
<text x="410.80" y="245.90" font-size="5.2" fill="#1a1a1a" stroke="#1a1a1a" stroke-width="0.1" textLength="2.9" lengthAdjust="spacingAndGlyphs">2</text>
<line x1="419.50" y1="238.60" x2="421.10" y2="238.60" stroke="#1a1a1a" stroke-width="0.7"/>
<line x1="418.30" y1="230.60" x2="421.10" y2="230.60" stroke="#1a1a1a" stroke-width="0.9"/>
<text x="402.10" y="233.20" font-size="7.3" fill="#1a1a1a" stroke="#1a1a1a" stroke-width="0.15" textLength="8.4" lengthAdjust="spacingAndGlyphs">10</text>
<text x="410.80" y="229.90" font-size="5.2" fill="#1a1a1a" stroke="#1a1a1a" stroke-width="0.1" textLength="2.9" lengthAdjust="spacingAndGlyphs">4</text>
<line x1="419.50" y1="222.60" x2="421.10" y2="222.60" stroke="#1a1a1a" stroke-width="0.7"/>
<line x1="418.30" y1="214.60" x2="421.10" y2="214.60" stroke="#1a1a1a" stroke-width="0.9"/>
<text x="402.10" y="217.20" font-size="7.3" fill="#1a1a1a" stroke="#1a1a1a" stroke-width="0.15" textLength="8.4" lengthAdjust="spacingAndGlyphs">10</text>
<text x="410.80" y="213.90" font-size="5.2" fill="#1a1a1a" stroke="#1a1a1a" stroke-width="0.1" textLength="2.9" lengthAdjust="spacingAndGlyphs">6</text>
<line x1="419.50" y1="206.60" x2="421.10" y2="206.60" stroke="#1a1a1a" stroke-width="0.7"/>
<line x1="418.30" y1="198.60" x2="421.10" y2="198.60" stroke="#1a1a1a" stroke-width="0.9"/>
<text x="402.10" y="201.20" font-size="7.3" fill="#1a1a1a" stroke="#1a1a1a" stroke-width="0.15" textLength="8.4" lengthAdjust="spacingAndGlyphs">10</text>
<text x="410.80" y="197.90" font-size="5.2" fill="#1a1a1a" stroke="#1a1a1a" stroke-width="0.1" textLength="2.9" lengthAdjust="spacingAndGlyphs">8</text>
<line x1="419.50" y1="190.60" x2="421.10" y2="190.60" stroke="#1a1a1a" stroke-width="0.7"/>
<line x1="418.30" y1="182.60" x2="421.10" y2="182.60" stroke="#1a1a1a" stroke-width="0.9"/>
<text x="399.20" y="185.20" font-size="7.3" fill="#1a1a1a" stroke="#1a1a1a" stroke-width="0.15" textLength="8.4" lengthAdjust="spacingAndGlyphs">10</text>
<text x="407.90" y="181.90" font-size="5.2" fill="#1a1a1a" stroke="#1a1a1a" stroke-width="0.1" textLength="5.8" lengthAdjust="spacingAndGlyphs">10</text>
<line x1="421.10" y1="246.60" x2="515.52" y2="246.60" stroke="#1a1a1a" stroke-width="1.1"/>
<line x1="421.10" y1="246.60" x2="421.10" y2="249.20" stroke="#1a1a1a" stroke-width="0.9"/>
<g transform="translate(424.50,256.60) rotate(-45)"><text x="0" y="0" font-size="7.5" fill="#1a1a1a" stroke="#1a1a1a" stroke-width="0.18" text-anchor="end" textLength="4.00" lengthAdjust="spacingAndGlyphs">0</text></g>
<line x1="432.84" y1="246.60" x2="432.84" y2="249.20" stroke="#1a1a1a" stroke-width="0.9"/>
<g transform="translate(436.24,256.60) rotate(-45)"><text x="0" y="0" font-size="7.5" fill="#1a1a1a" stroke="#1a1a1a" stroke-width="0.18" text-anchor="end" textLength="8.30" lengthAdjust="spacingAndGlyphs">14</text></g>
<line x1="444.58" y1="246.60" x2="444.58" y2="249.20" stroke="#1a1a1a" stroke-width="0.9"/>
<g transform="translate(447.98,256.60) rotate(-45)"><text x="0" y="0" font-size="7.5" fill="#1a1a1a" stroke="#1a1a1a" stroke-width="0.18" text-anchor="end" textLength="8.30" lengthAdjust="spacingAndGlyphs">28</text></g>
<line x1="456.32" y1="246.60" x2="456.32" y2="249.20" stroke="#1a1a1a" stroke-width="0.9"/>
<g transform="translate(459.72,256.60) rotate(-45)"><text x="0" y="0" font-size="7.5" fill="#1a1a1a" stroke="#1a1a1a" stroke-width="0.18" text-anchor="end" textLength="8.30" lengthAdjust="spacingAndGlyphs">42</text></g>
<line x1="468.06" y1="246.60" x2="468.06" y2="249.20" stroke="#1a1a1a" stroke-width="0.9"/>
<g transform="translate(471.46,256.60) rotate(-45)"><text x="0" y="0" font-size="7.5" fill="#1a1a1a" stroke="#1a1a1a" stroke-width="0.18" text-anchor="end" textLength="8.30" lengthAdjust="spacingAndGlyphs">56</text></g>
<line x1="479.80" y1="246.60" x2="479.80" y2="249.20" stroke="#1a1a1a" stroke-width="0.9"/>
<g transform="translate(483.20,256.60) rotate(-45)"><text x="0" y="0" font-size="7.5" fill="#1a1a1a" stroke="#1a1a1a" stroke-width="0.18" text-anchor="end" textLength="8.30" lengthAdjust="spacingAndGlyphs">70</text></g>
<line x1="491.54" y1="246.60" x2="491.54" y2="249.20" stroke="#1a1a1a" stroke-width="0.9"/>
<g transform="translate(494.94,256.60) rotate(-45)"><text x="0" y="0" font-size="7.5" fill="#1a1a1a" stroke="#1a1a1a" stroke-width="0.18" text-anchor="end" textLength="8.30" lengthAdjust="spacingAndGlyphs">84</text></g>
<line x1="503.28" y1="246.60" x2="503.28" y2="249.20" stroke="#1a1a1a" stroke-width="0.9"/>
<g transform="translate(506.68,256.60) rotate(-45)"><text x="0" y="0" font-size="7.5" fill="#1a1a1a" stroke="#1a1a1a" stroke-width="0.18" text-anchor="end" textLength="8.30" lengthAdjust="spacingAndGlyphs">98</text></g>
<line x1="515.02" y1="246.60" x2="515.02" y2="249.20" stroke="#1a1a1a" stroke-width="0.9"/>
<g transform="translate(518.42,256.60) rotate(-45)"><text x="0" y="0" font-size="7.5" fill="#1a1a1a" stroke="#1a1a1a" stroke-width="0.18" text-anchor="end" textLength="12.60" lengthAdjust="spacingAndGlyphs">112</text></g>
<text x="451.20" y="179.20" font-size="9.6" fill="#1a1a1a" stroke="#1a1a1a" stroke-width="0.05" textLength="32.60" lengthAdjust="spacingAndGlyphs">RS4;11</text>
<path d="M301.32,224.00 L307.25,203.00 L313.17,199.00" stroke="#c21a46" stroke-width="1.3" fill="none" stroke-linejoin="round"/>
<circle cx="307.25" cy="203.00" r="1.0" fill="#c21a46"/>
<circle cx="313.17" cy="199.00" r="1.0" fill="#c21a46"/>
<path d="M301.32,224.00 L307.25,202.00 L313.17,198.00" stroke="#c21a46" stroke-width="1.3" fill="none" stroke-linejoin="round"/>
<circle cx="307.25" cy="202.00" r="1.0" fill="#c21a46"/>
<circle cx="313.17" cy="198.00" r="1.0" fill="#c21a46"/>
<path d="M301.32,224.00 L307.25,204.00 L313.17,200.00" stroke="#c21a46" stroke-width="1.3" fill="none" stroke-linejoin="round"/>
<circle cx="307.25" cy="204.00" r="1.0" fill="#c21a46"/>
<circle cx="313.17" cy="200.00" r="1.0" fill="#c21a46"/>
<path d="M301.32,224.00 L307.25,205.00 L313.17,201.20" stroke="#c21a46" stroke-width="1.3" fill="none" stroke-linejoin="round"/>
<circle cx="307.25" cy="205.00" r="1.0" fill="#c21a46"/>
<circle cx="313.17" cy="201.20" r="1.0" fill="#c21a46"/>
<path d="M301.32,224.00 L307.25,201.50 L313.17,197.40" stroke="#c21a46" stroke-width="1.3" fill="none" stroke-linejoin="round"/>
<circle cx="307.25" cy="201.50" r="1.0" fill="#c21a46"/>
<circle cx="313.17" cy="197.40" r="1.0" fill="#c21a46"/>
<circle cx="301.32" cy="224.0" r="1.2" fill="#c21a46"/>
<path d="M301.32,224.00 L307.25,240.00 L313.17,236.00 L319.10,237.50 L325.02,239.00 L336.88,239.00 L348.72,229.20 L366.50,215.80 L390.20,208.10" stroke="#1e4676" stroke-width="1.1" fill="none" stroke-linejoin="round"/>
<circle cx="301.32" cy="224.00" r="1.0" fill="#1e4676"/>
<circle cx="307.25" cy="240.00" r="1.0" fill="#1e4676"/>
<circle cx="313.17" cy="236.00" r="1.0" fill="#1e4676"/>
<circle cx="319.10" cy="237.50" r="1.0" fill="#1e4676"/>
<circle cx="325.02" cy="239.00" r="1.0" fill="#1e4676"/>
<circle cx="336.88" cy="239.00" r="1.0" fill="#1e4676"/>
<circle cx="348.72" cy="229.20" r="1.0" fill="#1e4676"/>
<circle cx="366.50" cy="215.80" r="1.0" fill="#1e4676"/>
<circle cx="390.20" cy="208.10" r="1.0" fill="#1e4676"/>
<path d="M301.32,224.00 L307.25,243.30 L313.17,236.50 L319.10,238.20 L325.02,241.20 L336.88,242.00 L348.72,236.50 L366.50,226.50 L390.20,219.60" stroke="#1e4676" stroke-width="1.1" fill="none" stroke-linejoin="round"/>
<circle cx="301.32" cy="224.00" r="1.0" fill="#1e4676"/>
<circle cx="307.25" cy="243.30" r="1.0" fill="#1e4676"/>
<circle cx="313.17" cy="236.50" r="1.0" fill="#1e4676"/>
<circle cx="319.10" cy="238.20" r="1.0" fill="#1e4676"/>
<circle cx="325.02" cy="241.20" r="1.0" fill="#1e4676"/>
<circle cx="336.88" cy="242.00" r="1.0" fill="#1e4676"/>
<circle cx="348.72" cy="236.50" r="1.0" fill="#1e4676"/>
<circle cx="366.50" cy="226.50" r="1.0" fill="#1e4676"/>
<circle cx="390.20" cy="219.60" r="1.0" fill="#1e4676"/>
<path d="M301.32,224.00 L307.25,239.00 L313.17,237.00 L319.10,239.00 L325.02,240.00 L336.88,240.50 L348.72,236.50 L366.50,228.00 L390.20,224.00" stroke="#1e4676" stroke-width="1.1" fill="none" stroke-linejoin="round"/>
<circle cx="301.32" cy="224.00" r="1.0" fill="#1e4676"/>
<circle cx="307.25" cy="239.00" r="1.0" fill="#1e4676"/>
<circle cx="313.17" cy="237.00" r="1.0" fill="#1e4676"/>
<circle cx="319.10" cy="239.00" r="1.0" fill="#1e4676"/>
<circle cx="325.02" cy="240.00" r="1.0" fill="#1e4676"/>
<circle cx="336.88" cy="240.50" r="1.0" fill="#1e4676"/>
<circle cx="348.72" cy="236.50" r="1.0" fill="#1e4676"/>
<circle cx="366.50" cy="228.00" r="1.0" fill="#1e4676"/>
<circle cx="390.20" cy="224.00" r="1.0" fill="#1e4676"/>
<path d="M301.32,224.00 L307.25,241.20 L313.17,236.20 L319.10,238.00 L325.02,241.30 L336.88,241.30 L348.72,236.50 L366.50,229.00 L390.20,226.00" stroke="#1e4676" stroke-width="1.1" fill="none" stroke-linejoin="round"/>
<circle cx="301.32" cy="224.00" r="1.0" fill="#1e4676"/>
<circle cx="307.25" cy="241.20" r="1.0" fill="#1e4676"/>
<circle cx="313.17" cy="236.20" r="1.0" fill="#1e4676"/>
<circle cx="319.10" cy="238.00" r="1.0" fill="#1e4676"/>
<circle cx="325.02" cy="241.30" r="1.0" fill="#1e4676"/>
<circle cx="336.88" cy="241.30" r="1.0" fill="#1e4676"/>
<circle cx="348.72" cy="236.50" r="1.0" fill="#1e4676"/>
<circle cx="366.50" cy="229.00" r="1.0" fill="#1e4676"/>
<circle cx="390.20" cy="226.00" r="1.0" fill="#1e4676"/>
<path d="M301.32,224.00 L307.25,238.50 L313.17,235.50 L319.10,237.00 L325.02,239.50 L336.88,240.00 L348.72,236.00 L366.50,229.80 L390.20,227.20" stroke="#1e4676" stroke-width="1.1" fill="none" stroke-linejoin="round"/>
<circle cx="301.32" cy="224.00" r="1.0" fill="#1e4676"/>
<circle cx="307.25" cy="238.50" r="1.0" fill="#1e4676"/>
<circle cx="313.17" cy="235.50" r="1.0" fill="#1e4676"/>
<circle cx="319.10" cy="237.00" r="1.0" fill="#1e4676"/>
<circle cx="325.02" cy="239.50" r="1.0" fill="#1e4676"/>
<circle cx="336.88" cy="240.00" r="1.0" fill="#1e4676"/>
<circle cx="348.72" cy="236.00" r="1.0" fill="#1e4676"/>
<circle cx="366.50" cy="229.80" r="1.0" fill="#1e4676"/>
<circle cx="390.20" cy="227.20" r="1.0" fill="#1e4676"/>
<path d="M426.97,221.50 L432.84,203.50 L438.71,199.50" stroke="#c21a46" stroke-width="1.3" fill="none" stroke-linejoin="round"/>
<circle cx="426.97" cy="221.50" r="1.0" fill="#c21a46"/>
<circle cx="432.84" cy="203.50" r="1.0" fill="#c21a46"/>
<circle cx="438.71" cy="199.50" r="1.0" fill="#c21a46"/>
<path d="M426.97,218.50 L432.84,202.50 L438.71,198.20" stroke="#c21a46" stroke-width="1.3" fill="none" stroke-linejoin="round"/>
<circle cx="426.97" cy="218.50" r="1.0" fill="#c21a46"/>
<circle cx="432.84" cy="202.50" r="1.0" fill="#c21a46"/>
<circle cx="438.71" cy="198.20" r="1.0" fill="#c21a46"/>
<path d="M426.97,221.00 L432.84,204.00 L438.71,200.20" stroke="#c21a46" stroke-width="1.3" fill="none" stroke-linejoin="round"/>
<circle cx="426.97" cy="221.00" r="1.0" fill="#c21a46"/>
<circle cx="432.84" cy="204.00" r="1.0" fill="#c21a46"/>
<circle cx="438.71" cy="200.20" r="1.0" fill="#c21a46"/>
<path d="M426.97,220.00 L432.84,203.00 L438.71,199.00" stroke="#c21a46" stroke-width="1.3" fill="none" stroke-linejoin="round"/>
<circle cx="426.97" cy="220.00" r="1.0" fill="#c21a46"/>
<circle cx="432.84" cy="203.00" r="1.0" fill="#c21a46"/>
<circle cx="438.71" cy="199.00" r="1.0" fill="#c21a46"/>
<path d="M426.97,222.00 L432.84,202.00 L438.71,198.80" stroke="#c21a46" stroke-width="1.3" fill="none" stroke-linejoin="round"/>
<circle cx="426.97" cy="222.00" r="1.0" fill="#c21a46"/>
<circle cx="432.84" cy="202.00" r="1.0" fill="#c21a46"/>
<circle cx="438.71" cy="198.80" r="1.0" fill="#c21a46"/>
<path d="M426.97,221.00 L432.84,237.00 L438.71,238.00 L444.58,226.00 L450.45,213.50 L462.19,199.00" stroke="#1e4676" stroke-width="1.1" fill="none" stroke-linejoin="round"/>
<rect x="425.97" y="220.00" width="2.0" height="2.0" fill="#1e4676"/>
<rect x="431.84" y="236.00" width="2.0" height="2.0" fill="#1e4676"/>
<rect x="437.71" y="237.00" width="2.0" height="2.0" fill="#1e4676"/>
<rect x="443.58" y="225.00" width="2.0" height="2.0" fill="#1e4676"/>
<rect x="449.45" y="212.50" width="2.0" height="2.0" fill="#1e4676"/>
<rect x="461.19" y="198.00" width="2.0" height="2.0" fill="#1e4676"/>
<path d="M426.97,221.00 L432.84,238.00 L438.71,236.00 L444.58,230.00 L450.45,218.00 L462.19,201.00" stroke="#1e4676" stroke-width="1.1" fill="none" stroke-linejoin="round"/>
<rect x="425.97" y="220.00" width="2.0" height="2.0" fill="#1e4676"/>
<rect x="431.84" y="237.00" width="2.0" height="2.0" fill="#1e4676"/>
<rect x="437.71" y="235.00" width="2.0" height="2.0" fill="#1e4676"/>
<rect x="443.58" y="229.00" width="2.0" height="2.0" fill="#1e4676"/>
<rect x="449.45" y="217.00" width="2.0" height="2.0" fill="#1e4676"/>
<rect x="461.19" y="200.00" width="2.0" height="2.0" fill="#1e4676"/>
<path d="M426.97,221.00 L432.84,239.00 L438.71,237.00 L444.58,233.00 L450.45,222.00 L462.19,203.00" stroke="#1e4676" stroke-width="1.1" fill="none" stroke-linejoin="round"/>
<rect x="425.97" y="220.00" width="2.0" height="2.0" fill="#1e4676"/>
<rect x="431.84" y="238.00" width="2.0" height="2.0" fill="#1e4676"/>
<rect x="437.71" y="236.00" width="2.0" height="2.0" fill="#1e4676"/>
<rect x="443.58" y="232.00" width="2.0" height="2.0" fill="#1e4676"/>
<rect x="449.45" y="221.00" width="2.0" height="2.0" fill="#1e4676"/>
<rect x="461.19" y="202.00" width="2.0" height="2.0" fill="#1e4676"/>
<path d="M426.97,221.00 L432.84,236.50 L438.71,239.00 L444.58,235.00 L450.45,225.00 L462.19,205.00" stroke="#1e4676" stroke-width="1.1" fill="none" stroke-linejoin="round"/>
<rect x="425.97" y="220.00" width="2.0" height="2.0" fill="#1e4676"/>
<rect x="431.84" y="235.50" width="2.0" height="2.0" fill="#1e4676"/>
<rect x="437.71" y="238.00" width="2.0" height="2.0" fill="#1e4676"/>
<rect x="443.58" y="234.00" width="2.0" height="2.0" fill="#1e4676"/>
<rect x="449.45" y="224.00" width="2.0" height="2.0" fill="#1e4676"/>
<rect x="461.19" y="204.00" width="2.0" height="2.0" fill="#1e4676"/>
<path d="M426.97,221.00 L432.84,238.00 L438.71,238.50 L444.58,236.50 L450.45,229.00 L462.19,215.40 L473.93,202.90" stroke="#1e4676" stroke-width="1.1" fill="none" stroke-linejoin="round"/>
<rect x="425.97" y="220.00" width="2.0" height="2.0" fill="#1e4676"/>
<rect x="431.84" y="237.00" width="2.0" height="2.0" fill="#1e4676"/>
<rect x="437.71" y="237.50" width="2.0" height="2.0" fill="#1e4676"/>
<rect x="443.58" y="235.50" width="2.0" height="2.0" fill="#1e4676"/>
<rect x="449.45" y="228.00" width="2.0" height="2.0" fill="#1e4676"/>
<rect x="461.19" y="214.40" width="2.0" height="2.0" fill="#1e4676"/>
<rect x="472.93" y="201.90" width="2.0" height="2.0" fill="#1e4676"/>
<line x1="466.00" y1="221.60" x2="475.20" y2="221.60" stroke="#c21a46" stroke-width="1.3"/>
<circle cx="470.6" cy="221.6" r="2.0" fill="#c21a46"/>
<text x="478.60" y="224.40" font-size="7.6" fill="#1a1a1a" stroke="#1a1a1a" stroke-width="0.15" textLength="31.60" lengthAdjust="spacingAndGlyphs">Untreated</text>
<line x1="466.00" y1="232.30" x2="475.20" y2="232.30" stroke="#1e4676" stroke-width="1.3"/>
<rect x="468.6" y="230.3" width="4" height="4" fill="#1e4676"/>
<text x="478.60" y="235.10" font-size="7.6" fill="#1a1a1a" stroke="#1a1a1a" stroke-width="0.15" textLength="36.40" lengthAdjust="spacingAndGlyphs">STRO–001</text>
<text x="255.40" y="235.30" font-size="8.2" fill="#1a1a1a" stroke="#1a1a1a" stroke-width="0.3" textLength="40.50" lengthAdjust="spacingAndGlyphs" transform="rotate(-90 255.40 235.30)">Tumor burden</text>
<text x="266.6" y="236.1" font-size="8.3" fill="#1a1a1a" stroke="#1a1a1a" stroke-width="0.22" transform="rotate(-90 266.6 236.1)" textLength="42" lengthAdjust="spacingAndGlyphs">(p/sec/cm<tspan font-size="5.2" dy="-3.2">2</tspan><tspan dy="3.2">/sr)</tspan></text>
<line x1="296.00" y1="272.40" x2="509.00" y2="272.40" stroke="#1a1a1a" stroke-width="1.0"/>
<path d="M515.2,272.4 L507.9,269.4 L509.2,272.4 L507.9,275.4 Z" fill="#1a1a1a"/>
<text x="354.00" y="283.10" font-size="8.2" fill="#1a1a1a" stroke="#1a1a1a" stroke-width="0.15" textLength="97.00" lengthAdjust="spacingAndGlyphs">Days post leukemia injection</text>
<text x="247.50" y="303.60" font-size="11" fill="#111" stroke="#111" stroke-width="0.15" font-weight="bold">E</text>
<line x1="280.40" y1="323.40" x2="280.40" y2="388.40" stroke="#1a1a1a" stroke-width="1.1"/>
<line x1="277.40" y1="388.40" x2="280.40" y2="388.40" stroke="#1a1a1a" stroke-width="0.9"/>
<text x="273.40" y="391.00" font-size="7.3" fill="#1a1a1a" stroke="#1a1a1a" stroke-width="0.15" text-anchor="end" textLength="4.00" lengthAdjust="spacingAndGlyphs">0</text>
<line x1="277.40" y1="372.65" x2="280.40" y2="372.65" stroke="#1a1a1a" stroke-width="0.9"/>
<text x="273.40" y="375.25" font-size="7.3" fill="#1a1a1a" stroke="#1a1a1a" stroke-width="0.15" text-anchor="end" textLength="8.10" lengthAdjust="spacingAndGlyphs">25</text>
<line x1="277.40" y1="356.90" x2="280.40" y2="356.90" stroke="#1a1a1a" stroke-width="0.9"/>
<text x="273.40" y="359.50" font-size="7.3" fill="#1a1a1a" stroke="#1a1a1a" stroke-width="0.15" text-anchor="end" textLength="8.10" lengthAdjust="spacingAndGlyphs">50</text>
<line x1="277.40" y1="341.15" x2="280.40" y2="341.15" stroke="#1a1a1a" stroke-width="0.9"/>
<text x="273.40" y="343.75" font-size="7.3" fill="#1a1a1a" stroke="#1a1a1a" stroke-width="0.15" text-anchor="end" textLength="8.10" lengthAdjust="spacingAndGlyphs">75</text>
<line x1="277.40" y1="325.40" x2="280.40" y2="325.40" stroke="#1a1a1a" stroke-width="0.9"/>
<text x="273.40" y="328.00" font-size="7.3" fill="#1a1a1a" stroke="#1a1a1a" stroke-width="0.15" text-anchor="end" textLength="12.40" lengthAdjust="spacingAndGlyphs">100</text>
<line x1="280.40" y1="388.40" x2="374.50" y2="388.40" stroke="#1a1a1a" stroke-width="1.1"/>
<line x1="280.40" y1="388.40" x2="280.40" y2="391.00" stroke="#1a1a1a" stroke-width="0.9"/>
<g transform="translate(283.80,398.40) rotate(-45)"><text x="0" y="0" font-size="7.5" fill="#1a1a1a" stroke="#1a1a1a" stroke-width="0.18" text-anchor="end" textLength="4.00" lengthAdjust="spacingAndGlyphs">0</text></g>
<line x1="292.10" y1="388.40" x2="292.10" y2="391.00" stroke="#1a1a1a" stroke-width="0.9"/>
<g transform="translate(295.50,398.40) rotate(-45)"><text x="0" y="0" font-size="7.5" fill="#1a1a1a" stroke="#1a1a1a" stroke-width="0.18" text-anchor="end" textLength="8.30" lengthAdjust="spacingAndGlyphs">14</text></g>
<line x1="303.80" y1="388.40" x2="303.80" y2="391.00" stroke="#1a1a1a" stroke-width="0.9"/>
<g transform="translate(307.20,398.40) rotate(-45)"><text x="0" y="0" font-size="7.5" fill="#1a1a1a" stroke="#1a1a1a" stroke-width="0.18" text-anchor="end" textLength="8.30" lengthAdjust="spacingAndGlyphs">28</text></g>
<line x1="315.50" y1="388.40" x2="315.50" y2="391.00" stroke="#1a1a1a" stroke-width="0.9"/>
<g transform="translate(318.90,398.40) rotate(-45)"><text x="0" y="0" font-size="7.5" fill="#1a1a1a" stroke="#1a1a1a" stroke-width="0.18" text-anchor="end" textLength="8.30" lengthAdjust="spacingAndGlyphs">42</text></g>
<line x1="327.20" y1="388.40" x2="327.20" y2="391.00" stroke="#1a1a1a" stroke-width="0.9"/>
<g transform="translate(330.60,398.40) rotate(-45)"><text x="0" y="0" font-size="7.5" fill="#1a1a1a" stroke="#1a1a1a" stroke-width="0.18" text-anchor="end" textLength="8.30" lengthAdjust="spacingAndGlyphs">56</text></g>
<line x1="338.90" y1="388.40" x2="338.90" y2="391.00" stroke="#1a1a1a" stroke-width="0.9"/>
<g transform="translate(342.30,398.40) rotate(-45)"><text x="0" y="0" font-size="7.5" fill="#1a1a1a" stroke="#1a1a1a" stroke-width="0.18" text-anchor="end" textLength="8.30" lengthAdjust="spacingAndGlyphs">70</text></g>
<line x1="350.60" y1="388.40" x2="350.60" y2="391.00" stroke="#1a1a1a" stroke-width="0.9"/>
<g transform="translate(354.00,398.40) rotate(-45)"><text x="0" y="0" font-size="7.5" fill="#1a1a1a" stroke="#1a1a1a" stroke-width="0.18" text-anchor="end" textLength="8.30" lengthAdjust="spacingAndGlyphs">84</text></g>
<line x1="362.30" y1="388.40" x2="362.30" y2="391.00" stroke="#1a1a1a" stroke-width="0.9"/>
<g transform="translate(365.70,398.40) rotate(-45)"><text x="0" y="0" font-size="7.5" fill="#1a1a1a" stroke="#1a1a1a" stroke-width="0.18" text-anchor="end" textLength="8.30" lengthAdjust="spacingAndGlyphs">98</text></g>
<line x1="374.00" y1="388.40" x2="374.00" y2="391.00" stroke="#1a1a1a" stroke-width="0.9"/>
<g transform="translate(377.40,398.40) rotate(-45)"><text x="0" y="0" font-size="7.5" fill="#1a1a1a" stroke="#1a1a1a" stroke-width="0.18" text-anchor="end" textLength="12.60" lengthAdjust="spacingAndGlyphs">112</text></g>
<text x="317.60" y="320.00" font-size="9.6" fill="#1a1a1a" stroke="#1a1a1a" stroke-width="0.05" textLength="20.20" lengthAdjust="spacingAndGlyphs">REH</text>
<line x1="280.40" y1="325.40" x2="374.00" y2="325.40" stroke="#4f86bf" stroke-width="1.3"/>
<line x1="374.00" y1="323.80" x2="374.00" y2="326.20" stroke="#4f86bf" stroke-width="0.8"/>
<path d="M280.40,325.40 L298.90,325.40 L298.90,388.40" stroke="#d23a5c" stroke-width="1.5" fill="none" stroke-linejoin="round"/>
<line x1="280.40" y1="325.40" x2="298.90" y2="325.40" stroke="#22203a" stroke-width="1.4"/>
<line x1="302.50" y1="330.80" x2="310.60" y2="330.80" stroke="#d23a5c" stroke-width="1.0"/>
<line x1="306.50" y1="329.60" x2="306.50" y2="332.00" stroke="#d23a5c" stroke-width="0.7"/>
<text x="313.80" y="333.80" font-size="7.6" fill="#1a1a1a" stroke="#1a1a1a" stroke-width="0.15" textLength="31.00" lengthAdjust="spacingAndGlyphs">Untreated</text>
<line x1="302.50" y1="341.80" x2="310.60" y2="341.80" stroke="#4f86bf" stroke-width="1.0"/>
<line x1="306.50" y1="340.60" x2="306.50" y2="343.00" stroke="#4f86bf" stroke-width="0.7"/>
<text x="313.80" y="344.80" font-size="7.6" fill="#1a1a1a" stroke="#1a1a1a" stroke-width="0.15" textLength="36.00" lengthAdjust="spacingAndGlyphs">STRO–001</text>
<text x="368.50" y="345.00" font-size="7.6" fill="#1a1a1a" stroke="#1a1a1a" stroke-width="0.15" text-anchor="middle" textLength="22.50" lengthAdjust="spacingAndGlyphs">Median</text>
<text x="368.50" y="354.40" font-size="7.6" fill="#1a1a1a" stroke="#1a1a1a" stroke-width="0.15" text-anchor="middle" textLength="24.50" lengthAdjust="spacingAndGlyphs">Survival</text>
<text x="368.50" y="363.60" font-size="7.6" fill="#1a1a1a" stroke="#1a1a1a" stroke-width="0.15" text-anchor="middle" textLength="19.50" lengthAdjust="spacingAndGlyphs">(Days)</text>
<text x="368.70" y="373.00" font-size="7.6" fill="#1a1a1a" stroke="#1a1a1a" stroke-width="0.15" text-anchor="middle" textLength="7.60" lengthAdjust="spacingAndGlyphs">22</text>
<text x="368.20" y="382.40" font-size="7.6" fill="#1a1a1a" stroke="#1a1a1a" stroke-width="0.15" text-anchor="middle" textLength="33.50" lengthAdjust="spacingAndGlyphs">Undefined</text>
<line x1="386.30" y1="367.50" x2="386.30" y2="383.00" stroke="#1a1a1a" stroke-width="0.9"/>
<text x="389.60" y="376.40" font-size="6.5" fill="#1a1a1a" stroke="#1a1a1a" stroke-width="0.15" textLength="4.80" lengthAdjust="spacingAndGlyphs">**</text>
<line x1="418.50" y1="324.80" x2="418.50" y2="390.00" stroke="#1a1a1a" stroke-width="1.1"/>
<line x1="415.50" y1="390.00" x2="418.50" y2="390.00" stroke="#1a1a1a" stroke-width="0.9"/>
<text x="411.50" y="392.60" font-size="7.3" fill="#1a1a1a" stroke="#1a1a1a" stroke-width="0.15" text-anchor="end" textLength="4.00" lengthAdjust="spacingAndGlyphs">0</text>
<line x1="415.50" y1="374.20" x2="418.50" y2="374.20" stroke="#1a1a1a" stroke-width="0.9"/>
<text x="411.50" y="376.80" font-size="7.3" fill="#1a1a1a" stroke="#1a1a1a" stroke-width="0.15" text-anchor="end" textLength="8.10" lengthAdjust="spacingAndGlyphs">25</text>
<line x1="415.50" y1="358.40" x2="418.50" y2="358.40" stroke="#1a1a1a" stroke-width="0.9"/>
<text x="411.50" y="361.00" font-size="7.3" fill="#1a1a1a" stroke="#1a1a1a" stroke-width="0.15" text-anchor="end" textLength="8.10" lengthAdjust="spacingAndGlyphs">50</text>
<line x1="415.50" y1="342.60" x2="418.50" y2="342.60" stroke="#1a1a1a" stroke-width="0.9"/>
<text x="411.50" y="345.20" font-size="7.3" fill="#1a1a1a" stroke="#1a1a1a" stroke-width="0.15" text-anchor="end" textLength="8.10" lengthAdjust="spacingAndGlyphs">75</text>
<line x1="415.50" y1="326.80" x2="418.50" y2="326.80" stroke="#1a1a1a" stroke-width="0.9"/>
<text x="411.50" y="329.40" font-size="7.3" fill="#1a1a1a" stroke="#1a1a1a" stroke-width="0.15" text-anchor="end" textLength="12.40" lengthAdjust="spacingAndGlyphs">100</text>
<line x1="418.50" y1="390.00" x2="514.84" y2="390.00" stroke="#1a1a1a" stroke-width="1.1"/>
<line x1="418.50" y1="390.00" x2="418.50" y2="392.60" stroke="#1a1a1a" stroke-width="0.9"/>
<g transform="translate(421.90,400.00) rotate(-45)"><text x="0" y="0" font-size="7.5" fill="#1a1a1a" stroke="#1a1a1a" stroke-width="0.18" text-anchor="end" textLength="4.00" lengthAdjust="spacingAndGlyphs">0</text></g>
<line x1="430.48" y1="390.00" x2="430.48" y2="392.60" stroke="#1a1a1a" stroke-width="0.9"/>
<g transform="translate(433.88,400.00) rotate(-45)"><text x="0" y="0" font-size="7.5" fill="#1a1a1a" stroke="#1a1a1a" stroke-width="0.18" text-anchor="end" textLength="8.30" lengthAdjust="spacingAndGlyphs">14</text></g>
<line x1="442.46" y1="390.00" x2="442.46" y2="392.60" stroke="#1a1a1a" stroke-width="0.9"/>
<g transform="translate(445.86,400.00) rotate(-45)"><text x="0" y="0" font-size="7.5" fill="#1a1a1a" stroke="#1a1a1a" stroke-width="0.18" text-anchor="end" textLength="8.30" lengthAdjust="spacingAndGlyphs">28</text></g>
<line x1="454.44" y1="390.00" x2="454.44" y2="392.60" stroke="#1a1a1a" stroke-width="0.9"/>
<g transform="translate(457.84,400.00) rotate(-45)"><text x="0" y="0" font-size="7.5" fill="#1a1a1a" stroke="#1a1a1a" stroke-width="0.18" text-anchor="end" textLength="8.30" lengthAdjust="spacingAndGlyphs">42</text></g>
<line x1="466.42" y1="390.00" x2="466.42" y2="392.60" stroke="#1a1a1a" stroke-width="0.9"/>
<g transform="translate(469.82,400.00) rotate(-45)"><text x="0" y="0" font-size="7.5" fill="#1a1a1a" stroke="#1a1a1a" stroke-width="0.18" text-anchor="end" textLength="8.30" lengthAdjust="spacingAndGlyphs">56</text></g>
<line x1="478.40" y1="390.00" x2="478.40" y2="392.60" stroke="#1a1a1a" stroke-width="0.9"/>
<g transform="translate(481.80,400.00) rotate(-45)"><text x="0" y="0" font-size="7.5" fill="#1a1a1a" stroke="#1a1a1a" stroke-width="0.18" text-anchor="end" textLength="8.30" lengthAdjust="spacingAndGlyphs">70</text></g>
<line x1="490.38" y1="390.00" x2="490.38" y2="392.60" stroke="#1a1a1a" stroke-width="0.9"/>
<g transform="translate(493.78,400.00) rotate(-45)"><text x="0" y="0" font-size="7.5" fill="#1a1a1a" stroke="#1a1a1a" stroke-width="0.18" text-anchor="end" textLength="8.30" lengthAdjust="spacingAndGlyphs">84</text></g>
<line x1="502.36" y1="390.00" x2="502.36" y2="392.60" stroke="#1a1a1a" stroke-width="0.9"/>
<g transform="translate(505.76,400.00) rotate(-45)"><text x="0" y="0" font-size="7.5" fill="#1a1a1a" stroke="#1a1a1a" stroke-width="0.18" text-anchor="end" textLength="8.30" lengthAdjust="spacingAndGlyphs">98</text></g>
<line x1="514.34" y1="390.00" x2="514.34" y2="392.60" stroke="#1a1a1a" stroke-width="0.9"/>
<g transform="translate(517.74,400.00) rotate(-45)"><text x="0" y="0" font-size="7.5" fill="#1a1a1a" stroke="#1a1a1a" stroke-width="0.18" text-anchor="end" textLength="12.60" lengthAdjust="spacingAndGlyphs">112</text></g>
<text x="450.20" y="321.20" font-size="9.6" fill="#1a1a1a" stroke="#1a1a1a" stroke-width="0.05" textLength="31.20" lengthAdjust="spacingAndGlyphs">RS4;11</text>
<path d="M418.50,326.80 L465.00,326.80 L465.00,339.50 L467.20,339.50 L467.20,364.50 L472.00,364.50 L472.00,376.20 L478.80,376.20 L478.80,390.00" stroke="#3f73aa" stroke-width="1.3" fill="none" stroke-linejoin="round"/>
<path d="M418.50,326.80 L437.50,326.80 L437.50,390.00" stroke="#d23a5c" stroke-width="1.5" fill="none" stroke-linejoin="round"/>
<line x1="418.50" y1="326.80" x2="437.50" y2="326.80" stroke="#22203a" stroke-width="1.4"/>
<line x1="483.80" y1="358.00" x2="496.00" y2="358.00" stroke="#d23a5c" stroke-width="1.0"/>
<line x1="489.90" y1="356.80" x2="489.90" y2="359.20" stroke="#d23a5c" stroke-width="0.7"/>
<text x="498.60" y="360.60" font-size="7.6" fill="#1a1a1a" stroke="#1a1a1a" stroke-width="0.15" textLength="7.60" lengthAdjust="spacingAndGlyphs">23</text>
<line x1="483.80" y1="375.00" x2="496.00" y2="375.00" stroke="#3f73aa" stroke-width="1.0"/>
<line x1="489.90" y1="373.80" x2="489.90" y2="376.20" stroke="#3f73aa" stroke-width="0.7"/>
<text x="498.60" y="377.60" font-size="7.6" fill="#1a1a1a" stroke="#1a1a1a" stroke-width="0.15" textLength="7.60" lengthAdjust="spacingAndGlyphs">57</text>
<line x1="507.50" y1="355.00" x2="507.50" y2="378.00" stroke="#1a1a1a" stroke-width="0.9"/>
<text x="510.80" y="364.60" font-size="6.5" fill="#1a1a1a" stroke="#1a1a1a" stroke-width="0.15" textLength="4.80" lengthAdjust="spacingAndGlyphs">**</text>
<text x="253.70" y="380.20" font-size="8.2" fill="#1a1a1a" stroke="#1a1a1a" stroke-width="0.38" textLength="47.00" lengthAdjust="spacingAndGlyphs" transform="rotate(-90 253.70 380.20)">Percent survival</text>
<text x="286.20" y="418.30" font-size="8.6" fill="#1a1a1a" stroke="#1a1a1a" stroke-width="0.38" textLength="83.00" lengthAdjust="spacingAndGlyphs">Days post leukemia injection</text>
<text x="424.20" y="419.10" font-size="8.6" fill="#1a1a1a" stroke="#1a1a1a" stroke-width="0.38" textLength="83.80" lengthAdjust="spacingAndGlyphs">Days post leukemia injection</text>
<text x="2.50" y="459.80" font-size="11" fill="#111" stroke="#111" stroke-width="0.15" font-weight="bold">F</text>
<text x="47.20" y="477.60" font-size="9.6" fill="#1a1a1a" stroke="#1a1a1a" stroke-width="0.05" textLength="32.80" lengthAdjust="spacingAndGlyphs">B-ALL 3</text>
<path d="M21.40,566.80 C22.77,566.70 27.32,566.42 29.60,566.20 C31.88,565.98 33.27,565.87 35.10,565.50 C36.93,565.13 39.08,564.55 40.60,564.00 C42.12,563.45 43.13,562.80 44.20,562.20 C45.27,561.60 46.23,560.55 47.00,560.40 C47.77,560.25 48.20,561.45 48.80,561.30 C49.40,561.15 49.98,559.65 50.60,559.50 C51.22,559.35 51.88,560.32 52.50,560.40 C53.12,560.48 53.70,559.70 54.30,560.00 C54.90,560.30 55.50,561.68 56.10,562.20 C56.70,562.72 57.13,563.40 57.90,563.10 C58.67,562.80 59.87,562.07 60.70,560.40 C61.53,558.73 62.23,556.15 62.90,553.10 C63.57,550.05 64.10,546.37 64.70,542.10 C65.30,537.83 65.95,532.07 66.50,527.50 C67.05,522.93 67.52,518.67 68.00,514.70 C68.48,510.73 68.95,506.75 69.40,503.70 C69.85,500.65 70.27,498.22 70.70,496.40 C71.13,494.58 71.60,493.55 72.00,492.80 C72.40,492.05 72.80,491.60 73.10,491.90 C73.40,492.20 73.50,494.30 73.80,494.60 C74.10,494.90 74.50,492.78 74.90,493.70 C75.30,494.62 75.77,497.20 76.20,500.10 C76.63,503.00 77.05,507.15 77.50,511.10 C77.95,515.05 78.42,519.23 78.90,523.80 C79.38,528.37 79.93,534.23 80.40,538.50 C80.87,542.77 81.27,546.05 81.70,549.40 C82.13,552.75 82.55,556.02 83.00,558.60 C83.45,561.18 83.87,563.27 84.40,564.90 C84.93,566.53 85.58,567.72 86.20,568.40 C86.82,569.08 87.78,568.90 88.10,569.00" stroke="#c21a46" stroke-width="1.1" fill="none" stroke-linejoin="round"/>
<path d="M21.40,568.60 C21.40,568.15 20.95,566.82 21.40,565.90 C21.85,564.98 23.18,564.02 24.10,563.10 C25.02,562.18 26.13,560.70 26.90,560.40 C27.67,560.10 28.10,561.60 28.70,561.30 C29.30,561.00 29.88,559.82 30.50,558.60 C31.12,557.38 31.78,555.07 32.40,554.00 C33.02,552.93 33.60,552.82 34.20,552.20 C34.80,551.58 35.40,551.07 36.00,550.30 C36.60,549.53 37.18,549.27 37.80,547.60 C38.42,545.93 39.08,543.65 39.70,540.30 C40.32,536.95 40.90,531.77 41.50,527.50 C42.10,523.23 42.78,518.97 43.30,514.70 C43.82,510.43 44.20,505.10 44.60,501.90 C45.00,498.70 45.40,496.87 45.70,495.50 C46.00,494.13 46.10,493.55 46.40,493.70 C46.70,493.85 47.20,496.62 47.50,496.40 C47.80,496.18 47.95,492.08 48.20,492.40 C48.45,492.72 48.68,495.80 49.00,498.30 C49.32,500.80 49.68,504.37 50.10,507.40 C50.52,510.43 51.10,513.15 51.50,516.50 C51.90,519.85 52.18,523.23 52.50,527.50 C52.82,531.77 53.10,537.83 53.40,542.10 C53.70,546.37 54.00,550.05 54.30,553.10 C54.60,556.15 54.75,558.27 55.20,560.40 C55.65,562.53 56.08,564.57 57.00,565.90 C57.92,567.23 59.78,567.88 60.70,568.40 C61.62,568.92 62.20,568.90 62.50,569.00" stroke="none" stroke-width="0" fill="#8b9cc6" stroke-linejoin="round" fill-opacity="0.74"/>
<path d="M21.40,568.60 C21.40,568.15 20.95,566.82 21.40,565.90 C21.85,564.98 23.18,564.02 24.10,563.10 C25.02,562.18 26.13,560.70 26.90,560.40 C27.67,560.10 28.10,561.60 28.70,561.30 C29.30,561.00 29.88,559.82 30.50,558.60 C31.12,557.38 31.78,555.07 32.40,554.00 C33.02,552.93 33.60,552.82 34.20,552.20 C34.80,551.58 35.40,551.07 36.00,550.30 C36.60,549.53 37.18,549.27 37.80,547.60 C38.42,545.93 39.08,543.65 39.70,540.30 C40.32,536.95 40.90,531.77 41.50,527.50 C42.10,523.23 42.78,518.97 43.30,514.70 C43.82,510.43 44.20,505.10 44.60,501.90 C45.00,498.70 45.40,496.87 45.70,495.50 C46.00,494.13 46.10,493.55 46.40,493.70 C46.70,493.85 47.20,496.62 47.50,496.40 C47.80,496.18 47.95,492.08 48.20,492.40 C48.45,492.72 48.68,495.80 49.00,498.30 C49.32,500.80 49.68,504.37 50.10,507.40 C50.52,510.43 51.10,513.15 51.50,516.50 C51.90,519.85 52.18,523.23 52.50,527.50 C52.82,531.77 53.10,537.83 53.40,542.10 C53.70,546.37 54.00,550.05 54.30,553.10 C54.60,556.15 54.75,558.27 55.20,560.40 C55.65,562.53 56.08,564.57 57.00,565.90 C57.92,567.23 59.78,567.88 60.70,568.40 C61.62,568.92 62.20,568.90 62.50,569.00" stroke="#22406a" stroke-width="1.1" fill="none" stroke-linejoin="round"/>
<line x1="21.30" y1="483.50" x2="21.30" y2="568.50" stroke="#c21a46" stroke-width="1.0"/>
<rect x="20.6" y="482.8" width="85.69999999999999" height="86.19999999999999" fill="none" stroke="#111" stroke-width="1"/>
<line x1="17.60" y1="487.00" x2="20.60" y2="487.00" stroke="#1a1a1a" stroke-width="0.9"/>
<text x="12.60" y="489.60" font-size="7.3" fill="#1a1a1a" stroke="#1a1a1a" stroke-width="0.15" text-anchor="end" textLength="12.40" lengthAdjust="spacingAndGlyphs">100</text>
<line x1="17.60" y1="503.40" x2="20.60" y2="503.40" stroke="#1a1a1a" stroke-width="0.9"/>
<text x="12.60" y="506.00" font-size="7.3" fill="#1a1a1a" stroke="#1a1a1a" stroke-width="0.15" text-anchor="end" textLength="8.10" lengthAdjust="spacingAndGlyphs">80</text>
<line x1="17.60" y1="519.80" x2="20.60" y2="519.80" stroke="#1a1a1a" stroke-width="0.9"/>
<text x="12.60" y="522.40" font-size="7.3" fill="#1a1a1a" stroke="#1a1a1a" stroke-width="0.15" text-anchor="end" textLength="8.10" lengthAdjust="spacingAndGlyphs">60</text>
<line x1="17.60" y1="536.20" x2="20.60" y2="536.20" stroke="#1a1a1a" stroke-width="0.9"/>
<text x="12.60" y="538.80" font-size="7.3" fill="#1a1a1a" stroke="#1a1a1a" stroke-width="0.15" text-anchor="end" textLength="8.10" lengthAdjust="spacingAndGlyphs">40</text>
<line x1="17.60" y1="552.60" x2="20.60" y2="552.60" stroke="#1a1a1a" stroke-width="0.9"/>
<text x="12.60" y="555.20" font-size="7.3" fill="#1a1a1a" stroke="#1a1a1a" stroke-width="0.15" text-anchor="end" textLength="8.10" lengthAdjust="spacingAndGlyphs">20</text>
<line x1="17.60" y1="569.00" x2="20.60" y2="569.00" stroke="#1a1a1a" stroke-width="0.9"/>
<text x="12.60" y="571.60" font-size="7.3" fill="#1a1a1a" stroke="#1a1a1a" stroke-width="0.15" text-anchor="end" textLength="4.00" lengthAdjust="spacingAndGlyphs">0</text>
<line x1="19.00" y1="487.00" x2="20.60" y2="487.00" stroke="#1a1a1a" stroke-width="0.6"/>
<line x1="19.00" y1="490.28" x2="20.60" y2="490.28" stroke="#1a1a1a" stroke-width="0.6"/>
<line x1="19.00" y1="493.56" x2="20.60" y2="493.56" stroke="#1a1a1a" stroke-width="0.6"/>
<line x1="19.00" y1="496.84" x2="20.60" y2="496.84" stroke="#1a1a1a" stroke-width="0.6"/>
<line x1="19.00" y1="500.12" x2="20.60" y2="500.12" stroke="#1a1a1a" stroke-width="0.6"/>
<line x1="19.00" y1="503.40" x2="20.60" y2="503.40" stroke="#1a1a1a" stroke-width="0.6"/>
<line x1="19.00" y1="506.68" x2="20.60" y2="506.68" stroke="#1a1a1a" stroke-width="0.6"/>
<line x1="19.00" y1="509.96" x2="20.60" y2="509.96" stroke="#1a1a1a" stroke-width="0.6"/>
<line x1="19.00" y1="513.24" x2="20.60" y2="513.24" stroke="#1a1a1a" stroke-width="0.6"/>
<line x1="19.00" y1="516.52" x2="20.60" y2="516.52" stroke="#1a1a1a" stroke-width="0.6"/>
<line x1="19.00" y1="519.80" x2="20.60" y2="519.80" stroke="#1a1a1a" stroke-width="0.6"/>
<line x1="19.00" y1="523.08" x2="20.60" y2="523.08" stroke="#1a1a1a" stroke-width="0.6"/>
<line x1="19.00" y1="526.36" x2="20.60" y2="526.36" stroke="#1a1a1a" stroke-width="0.6"/>
<line x1="19.00" y1="529.64" x2="20.60" y2="529.64" stroke="#1a1a1a" stroke-width="0.6"/>
<line x1="19.00" y1="532.92" x2="20.60" y2="532.92" stroke="#1a1a1a" stroke-width="0.6"/>
<line x1="19.00" y1="536.20" x2="20.60" y2="536.20" stroke="#1a1a1a" stroke-width="0.6"/>
<line x1="19.00" y1="539.48" x2="20.60" y2="539.48" stroke="#1a1a1a" stroke-width="0.6"/>
<line x1="19.00" y1="542.76" x2="20.60" y2="542.76" stroke="#1a1a1a" stroke-width="0.6"/>
<line x1="19.00" y1="546.04" x2="20.60" y2="546.04" stroke="#1a1a1a" stroke-width="0.6"/>
<line x1="19.00" y1="549.32" x2="20.60" y2="549.32" stroke="#1a1a1a" stroke-width="0.6"/>
<line x1="19.00" y1="552.60" x2="20.60" y2="552.60" stroke="#1a1a1a" stroke-width="0.6"/>
<line x1="19.00" y1="555.88" x2="20.60" y2="555.88" stroke="#1a1a1a" stroke-width="0.6"/>
<line x1="19.00" y1="559.16" x2="20.60" y2="559.16" stroke="#1a1a1a" stroke-width="0.6"/>
<line x1="19.00" y1="562.44" x2="20.60" y2="562.44" stroke="#1a1a1a" stroke-width="0.6"/>
<line x1="19.00" y1="565.72" x2="20.60" y2="565.72" stroke="#1a1a1a" stroke-width="0.6"/>
<line x1="19.00" y1="569.00" x2="20.60" y2="569.00" stroke="#1a1a1a" stroke-width="0.6"/>
<line x1="29.00" y1="569.00" x2="29.00" y2="571.50" stroke="#1a1a1a" stroke-width="0.9"/>
<line x1="34.21" y1="569.00" x2="34.21" y2="570.30" stroke="#1a1a1a" stroke-width="0.6"/>
<line x1="37.25" y1="569.00" x2="37.25" y2="570.30" stroke="#1a1a1a" stroke-width="0.6"/>
<line x1="39.42" y1="569.00" x2="39.42" y2="570.30" stroke="#1a1a1a" stroke-width="0.6"/>
<line x1="41.09" y1="569.00" x2="41.09" y2="570.30" stroke="#1a1a1a" stroke-width="0.6"/>
<line x1="42.46" y1="569.00" x2="42.46" y2="570.30" stroke="#1a1a1a" stroke-width="0.6"/>
<line x1="43.62" y1="569.00" x2="43.62" y2="570.30" stroke="#1a1a1a" stroke-width="0.6"/>
<line x1="44.62" y1="569.00" x2="44.62" y2="570.30" stroke="#1a1a1a" stroke-width="0.6"/>
<line x1="45.51" y1="569.00" x2="45.51" y2="570.30" stroke="#1a1a1a" stroke-width="0.6"/>
<g transform="translate(26.60,587.80) rotate(-45)"><text x="0" y="0" font-size="8.0" fill="#1a1a1a" stroke="#1a1a1a" stroke-width="0.2" textLength="8.6" lengthAdjust="spacingAndGlyphs">10</text><text x="9.0" y="-3.8" font-size="5.6" fill="#1a1a1a" stroke="#1a1a1a" stroke-width="0.15">1</text></g>
<line x1="46.30" y1="569.00" x2="46.30" y2="571.50" stroke="#1a1a1a" stroke-width="0.9"/>
<line x1="51.51" y1="569.00" x2="51.51" y2="570.30" stroke="#1a1a1a" stroke-width="0.6"/>
<line x1="54.55" y1="569.00" x2="54.55" y2="570.30" stroke="#1a1a1a" stroke-width="0.6"/>
<line x1="56.72" y1="569.00" x2="56.72" y2="570.30" stroke="#1a1a1a" stroke-width="0.6"/>
<line x1="58.39" y1="569.00" x2="58.39" y2="570.30" stroke="#1a1a1a" stroke-width="0.6"/>
<line x1="59.76" y1="569.00" x2="59.76" y2="570.30" stroke="#1a1a1a" stroke-width="0.6"/>
<line x1="60.92" y1="569.00" x2="60.92" y2="570.30" stroke="#1a1a1a" stroke-width="0.6"/>
<line x1="61.92" y1="569.00" x2="61.92" y2="570.30" stroke="#1a1a1a" stroke-width="0.6"/>
<line x1="62.81" y1="569.00" x2="62.81" y2="570.30" stroke="#1a1a1a" stroke-width="0.6"/>
<g transform="translate(43.90,587.80) rotate(-45)"><text x="0" y="0" font-size="8.0" fill="#1a1a1a" stroke="#1a1a1a" stroke-width="0.2" textLength="8.6" lengthAdjust="spacingAndGlyphs">10</text><text x="9.0" y="-3.8" font-size="5.6" fill="#1a1a1a" stroke="#1a1a1a" stroke-width="0.15">2</text></g>
<line x1="63.60" y1="569.00" x2="63.60" y2="571.50" stroke="#1a1a1a" stroke-width="0.9"/>
<line x1="68.81" y1="569.00" x2="68.81" y2="570.30" stroke="#1a1a1a" stroke-width="0.6"/>
<line x1="71.85" y1="569.00" x2="71.85" y2="570.30" stroke="#1a1a1a" stroke-width="0.6"/>
<line x1="74.02" y1="569.00" x2="74.02" y2="570.30" stroke="#1a1a1a" stroke-width="0.6"/>
<line x1="75.69" y1="569.00" x2="75.69" y2="570.30" stroke="#1a1a1a" stroke-width="0.6"/>
<line x1="77.06" y1="569.00" x2="77.06" y2="570.30" stroke="#1a1a1a" stroke-width="0.6"/>
<line x1="78.22" y1="569.00" x2="78.22" y2="570.30" stroke="#1a1a1a" stroke-width="0.6"/>
<line x1="79.22" y1="569.00" x2="79.22" y2="570.30" stroke="#1a1a1a" stroke-width="0.6"/>
<line x1="80.11" y1="569.00" x2="80.11" y2="570.30" stroke="#1a1a1a" stroke-width="0.6"/>
<g transform="translate(61.20,587.80) rotate(-45)"><text x="0" y="0" font-size="8.0" fill="#1a1a1a" stroke="#1a1a1a" stroke-width="0.2" textLength="8.6" lengthAdjust="spacingAndGlyphs">10</text><text x="9.0" y="-3.8" font-size="5.6" fill="#1a1a1a" stroke="#1a1a1a" stroke-width="0.15">3</text></g>
<line x1="81.00" y1="569.00" x2="81.00" y2="571.50" stroke="#1a1a1a" stroke-width="0.9"/>
<line x1="86.21" y1="569.00" x2="86.21" y2="570.30" stroke="#1a1a1a" stroke-width="0.6"/>
<line x1="89.25" y1="569.00" x2="89.25" y2="570.30" stroke="#1a1a1a" stroke-width="0.6"/>
<line x1="91.42" y1="569.00" x2="91.42" y2="570.30" stroke="#1a1a1a" stroke-width="0.6"/>
<line x1="93.09" y1="569.00" x2="93.09" y2="570.30" stroke="#1a1a1a" stroke-width="0.6"/>
<line x1="94.46" y1="569.00" x2="94.46" y2="570.30" stroke="#1a1a1a" stroke-width="0.6"/>
<line x1="95.62" y1="569.00" x2="95.62" y2="570.30" stroke="#1a1a1a" stroke-width="0.6"/>
<line x1="96.62" y1="569.00" x2="96.62" y2="570.30" stroke="#1a1a1a" stroke-width="0.6"/>
<line x1="97.51" y1="569.00" x2="97.51" y2="570.30" stroke="#1a1a1a" stroke-width="0.6"/>
<g transform="translate(78.60,587.80) rotate(-45)"><text x="0" y="0" font-size="8.0" fill="#1a1a1a" stroke="#1a1a1a" stroke-width="0.2" textLength="8.6" lengthAdjust="spacingAndGlyphs">10</text><text x="9.0" y="-3.8" font-size="5.6" fill="#1a1a1a" stroke="#1a1a1a" stroke-width="0.15">4</text></g>
<line x1="98.30" y1="569.00" x2="98.30" y2="571.50" stroke="#1a1a1a" stroke-width="0.9"/>
<line x1="103.51" y1="569.00" x2="103.51" y2="570.30" stroke="#1a1a1a" stroke-width="0.6"/>
<g transform="translate(95.90,587.80) rotate(-45)"><text x="0" y="0" font-size="8.0" fill="#1a1a1a" stroke="#1a1a1a" stroke-width="0.2" textLength="8.6" lengthAdjust="spacingAndGlyphs">10</text><text x="9.0" y="-3.8" font-size="5.6" fill="#1a1a1a" stroke="#1a1a1a" stroke-width="0.15">5</text></g>
<line x1="22.12" y1="569.00" x2="22.12" y2="570.30" stroke="#1a1a1a" stroke-width="0.6"/>
<line x1="23.79" y1="569.00" x2="23.79" y2="570.30" stroke="#1a1a1a" stroke-width="0.6"/>
<line x1="25.16" y1="569.00" x2="25.16" y2="570.30" stroke="#1a1a1a" stroke-width="0.6"/>
<line x1="26.32" y1="569.00" x2="26.32" y2="570.30" stroke="#1a1a1a" stroke-width="0.6"/>
<line x1="27.32" y1="569.00" x2="27.32" y2="570.30" stroke="#1a1a1a" stroke-width="0.6"/>
<line x1="28.21" y1="569.00" x2="28.21" y2="570.30" stroke="#1a1a1a" stroke-width="0.6"/>
<line x1="58.50" y1="552.70" x2="106.00" y2="552.70" stroke="#333" stroke-width="0.9"/>
<line x1="58.50" y1="550.80" x2="58.50" y2="554.60" stroke="#333" stroke-width="0.9"/>
<text x="80.60" y="537.20" font-size="8.0" fill="#c21a46" stroke="#c21a46" stroke-width="0.15" textLength="25.80" lengthAdjust="spacingAndGlyphs">CD74+</text>
<text x="85.20" y="545.80" font-size="8.0" fill="#c21a46" stroke="#c21a46" stroke-width="0.15" textLength="15.00" lengthAdjust="spacingAndGlyphs">83.5</text>
<line x1="20.20" y1="592.50" x2="100.00" y2="592.50" stroke="#1a1a1a" stroke-width="1.0"/>
<path d="M105.6,592.5 L98.3,589.5 L99.6,592.5 L98.3,595.5 Z" fill="#1a1a1a"/>
<text x="52.60" y="602.60" font-size="7.8" fill="#1a1a1a" stroke="#1a1a1a" stroke-width="0.15" textLength="21.00" lengthAdjust="spacingAndGlyphs">CD74</text>
<text x="128.00" y="460.30" font-size="11" fill="#111" stroke="#111" stroke-width="0.15" font-weight="bold">G</text>
<text x="180.20" y="475.20" font-size="9.6" fill="#1a1a1a" stroke="#1a1a1a" stroke-width="0.05" textLength="33.40" lengthAdjust="spacingAndGlyphs">B-ALL-3</text>
<line x1="170.00" y1="488.60" x2="170.00" y2="569.30" stroke="#1a1a1a" stroke-width="1.1"/>
<line x1="167.00" y1="569.30" x2="170.00" y2="569.30" stroke="#1a1a1a" stroke-width="0.9"/>
<text x="162.00" y="571.70" font-size="7.2" fill="#1a1a1a" stroke="#1a1a1a" stroke-width="0.15" text-anchor="end" textLength="3.60" lengthAdjust="spacingAndGlyphs">0</text>
<line x1="167.00" y1="554.08" x2="170.00" y2="554.08" stroke="#1a1a1a" stroke-width="0.9"/>
<text x="162.00" y="556.48" font-size="7.2" fill="#1a1a1a" stroke="#1a1a1a" stroke-width="0.15" text-anchor="end" textLength="7.50" lengthAdjust="spacingAndGlyphs">20</text>
<line x1="167.00" y1="538.86" x2="170.00" y2="538.86" stroke="#1a1a1a" stroke-width="0.9"/>
<text x="162.00" y="541.26" font-size="7.2" fill="#1a1a1a" stroke="#1a1a1a" stroke-width="0.15" text-anchor="end" textLength="7.50" lengthAdjust="spacingAndGlyphs">40</text>
<line x1="167.00" y1="523.64" x2="170.00" y2="523.64" stroke="#1a1a1a" stroke-width="0.9"/>
<text x="162.00" y="526.04" font-size="7.2" fill="#1a1a1a" stroke="#1a1a1a" stroke-width="0.15" text-anchor="end" textLength="7.50" lengthAdjust="spacingAndGlyphs">60</text>
<line x1="167.00" y1="508.42" x2="170.00" y2="508.42" stroke="#1a1a1a" stroke-width="0.9"/>
<text x="162.00" y="510.82" font-size="7.2" fill="#1a1a1a" stroke="#1a1a1a" stroke-width="0.15" text-anchor="end" textLength="7.50" lengthAdjust="spacingAndGlyphs">80</text>
<line x1="167.00" y1="493.20" x2="170.00" y2="493.20" stroke="#1a1a1a" stroke-width="0.9"/>
<text x="162.00" y="495.60" font-size="7.2" fill="#1a1a1a" stroke="#1a1a1a" stroke-width="0.15" text-anchor="end" textLength="11.40" lengthAdjust="spacingAndGlyphs">100</text>
<line x1="170.00" y1="569.30" x2="223.80" y2="569.30" stroke="#1a1a1a" stroke-width="1.1"/>
<line x1="182.50" y1="569.30" x2="182.50" y2="571.90" stroke="#1a1a1a" stroke-width="0.9"/>
<line x1="211.20" y1="569.30" x2="211.20" y2="571.90" stroke="#1a1a1a" stroke-width="0.9"/>
<text x="182.60" y="582.40" font-size="7.6" fill="#1a1a1a" stroke="#1a1a1a" stroke-width="0.15" text-anchor="middle" textLength="3.90" lengthAdjust="spacingAndGlyphs">4</text>
<text x="211.30" y="582.40" font-size="7.6" fill="#1a1a1a" stroke="#1a1a1a" stroke-width="0.15" text-anchor="middle" textLength="8.20" lengthAdjust="spacingAndGlyphs">13</text>
<rect x="174.2" y="495.4" width="6.9" height="73.4" fill="#e8877c"/>
<line x1="175.40" y1="494.30" x2="181.20" y2="494.30" stroke="#a01828" stroke-width="0.8"/>
<circle cx="176.2" cy="495.0" r="1.3" fill="#a81c2c"/>
<circle cx="178.5" cy="494.3" r="1.3" fill="#a81c2c"/>
<circle cx="180.4" cy="496.6" r="1.3" fill="#a81c2c"/>
<circle cx="177.6" cy="498.9" r="1.3" fill="#a81c2c"/>
<circle cx="178.5" cy="503.1" r="1.3" fill="#a81c2c"/>
<path d="M178.30,489.50 L178.30,486.60 L186.60,486.60 L186.60,567.20" stroke="#333" stroke-width="0.8" fill="none" stroke-linejoin="round"/>
<text x="177.00" y="485.00" font-size="7.0" fill="#1a1a1a" stroke="#1a1a1a" stroke-width="0.15" textLength="10.80" lengthAdjust="spacingAndGlyphs">****</text>
<circle cx="185.0" cy="568.8" r="1.2" fill="#1e4676"/>
<circle cx="187.3" cy="568.8" r="1.2" fill="#1e4676"/>
<circle cx="189.6" cy="568.8" r="1.2" fill="#1e4676"/>
<circle cx="214.0" cy="568.8" r="1.2" fill="#1e4676"/>
<circle cx="216.3" cy="568.8" r="1.2" fill="#1e4676"/>
<circle cx="218.6" cy="568.8" r="1.2" fill="#1e4676"/>
<circle cx="195.8" cy="533.6" r="2.0" fill="#a81c2c"/>
<text x="203.00" y="536.40" font-size="7.6" fill="#1a1a1a" stroke="#1a1a1a" stroke-width="0.15" textLength="31.60" lengthAdjust="spacingAndGlyphs">Untreated</text>
<circle cx="195.8" cy="542.9" r="2.0" fill="#1c4a6e"/>
<text x="203.00" y="545.70" font-size="7.6" fill="#1a1a1a" stroke="#1a1a1a" stroke-width="0.15" textLength="37.40" lengthAdjust="spacingAndGlyphs">STRO–001</text>
<text x="133.40" y="570.00" font-size="8.2" fill="#1a1a1a" stroke="#1a1a1a" stroke-width="0.38" textLength="76.20" lengthAdjust="spacingAndGlyphs" transform="rotate(-90 133.40 570.00)">% B-ALL cells in the BM</text>
<text x="144.80" y="568.80" font-size="8.2" fill="#1a1a1a" stroke="#1a1a1a" stroke-width="0.38" textLength="73.80" lengthAdjust="spacingAndGlyphs" transform="rotate(-90 144.80 568.80)">(out of total live cells)</text>
<text x="144.20" y="595.80" font-size="8.6" fill="#1a1a1a" stroke="#1a1a1a" stroke-width="0.38" textLength="88.00" lengthAdjust="spacingAndGlyphs">Weeks post leukemia injection</text>
<text x="267.00" y="460.30" font-size="11" fill="#111" stroke="#111" stroke-width="0.15" font-weight="bold">H</text>
<text x="340.20" y="489.40" font-size="9.6" fill="#1a1a1a" stroke="#1a1a1a" stroke-width="0.05" textLength="33.60" lengthAdjust="spacingAndGlyphs">B-ALL-3</text>
<line x1="301.30" y1="492.50" x2="301.30" y2="569.40" stroke="#1a1a1a" stroke-width="1.1"/>
<line x1="298.30" y1="569.40" x2="301.30" y2="569.40" stroke="#1a1a1a" stroke-width="0.9"/>
<text x="294.30" y="572.00" font-size="7.3" fill="#1a1a1a" stroke="#1a1a1a" stroke-width="0.15" text-anchor="end" textLength="4.00" lengthAdjust="spacingAndGlyphs">0</text>
<line x1="298.30" y1="550.67" x2="301.30" y2="550.67" stroke="#1a1a1a" stroke-width="0.9"/>
<text x="294.30" y="553.27" font-size="7.3" fill="#1a1a1a" stroke="#1a1a1a" stroke-width="0.15" text-anchor="end" textLength="8.10" lengthAdjust="spacingAndGlyphs">25</text>
<line x1="298.30" y1="531.95" x2="301.30" y2="531.95" stroke="#1a1a1a" stroke-width="0.9"/>
<text x="294.30" y="534.55" font-size="7.3" fill="#1a1a1a" stroke="#1a1a1a" stroke-width="0.15" text-anchor="end" textLength="8.10" lengthAdjust="spacingAndGlyphs">50</text>
<line x1="298.30" y1="513.23" x2="301.30" y2="513.23" stroke="#1a1a1a" stroke-width="0.9"/>
<text x="294.30" y="515.83" font-size="7.3" fill="#1a1a1a" stroke="#1a1a1a" stroke-width="0.15" text-anchor="end" textLength="8.10" lengthAdjust="spacingAndGlyphs">75</text>
<line x1="298.30" y1="494.50" x2="301.30" y2="494.50" stroke="#1a1a1a" stroke-width="0.9"/>
<text x="294.30" y="497.10" font-size="7.3" fill="#1a1a1a" stroke="#1a1a1a" stroke-width="0.15" text-anchor="end" textLength="12.40" lengthAdjust="spacingAndGlyphs">100</text>
<line x1="301.30" y1="569.40" x2="413.48" y2="569.40" stroke="#1a1a1a" stroke-width="1.1"/>
<line x1="301.30" y1="569.40" x2="301.30" y2="572.00" stroke="#1a1a1a" stroke-width="0.9"/>
<g transform="translate(304.70,579.40) rotate(-45)"><text x="0" y="0" font-size="7.5" fill="#1a1a1a" stroke="#1a1a1a" stroke-width="0.18" text-anchor="end" textLength="4.00" lengthAdjust="spacingAndGlyphs">0</text></g>
<line x1="315.26" y1="569.40" x2="315.26" y2="572.00" stroke="#1a1a1a" stroke-width="0.9"/>
<g transform="translate(318.66,579.40) rotate(-45)"><text x="0" y="0" font-size="7.5" fill="#1a1a1a" stroke="#1a1a1a" stroke-width="0.18" text-anchor="end" textLength="8.30" lengthAdjust="spacingAndGlyphs">14</text></g>
<line x1="329.22" y1="569.40" x2="329.22" y2="572.00" stroke="#1a1a1a" stroke-width="0.9"/>
<g transform="translate(332.62,579.40) rotate(-45)"><text x="0" y="0" font-size="7.5" fill="#1a1a1a" stroke="#1a1a1a" stroke-width="0.18" text-anchor="end" textLength="8.30" lengthAdjust="spacingAndGlyphs">28</text></g>
<line x1="343.18" y1="569.40" x2="343.18" y2="572.00" stroke="#1a1a1a" stroke-width="0.9"/>
<g transform="translate(346.58,579.40) rotate(-45)"><text x="0" y="0" font-size="7.5" fill="#1a1a1a" stroke="#1a1a1a" stroke-width="0.18" text-anchor="end" textLength="8.30" lengthAdjust="spacingAndGlyphs">42</text></g>
<line x1="357.14" y1="569.40" x2="357.14" y2="572.00" stroke="#1a1a1a" stroke-width="0.9"/>
<g transform="translate(360.54,579.40) rotate(-45)"><text x="0" y="0" font-size="7.5" fill="#1a1a1a" stroke="#1a1a1a" stroke-width="0.18" text-anchor="end" textLength="8.30" lengthAdjust="spacingAndGlyphs">56</text></g>
<line x1="371.10" y1="569.40" x2="371.10" y2="572.00" stroke="#1a1a1a" stroke-width="0.9"/>
<g transform="translate(374.50,579.40) rotate(-45)"><text x="0" y="0" font-size="7.5" fill="#1a1a1a" stroke="#1a1a1a" stroke-width="0.18" text-anchor="end" textLength="8.30" lengthAdjust="spacingAndGlyphs">70</text></g>
<line x1="385.06" y1="569.40" x2="385.06" y2="572.00" stroke="#1a1a1a" stroke-width="0.9"/>
<g transform="translate(388.46,579.40) rotate(-45)"><text x="0" y="0" font-size="7.5" fill="#1a1a1a" stroke="#1a1a1a" stroke-width="0.18" text-anchor="end" textLength="8.30" lengthAdjust="spacingAndGlyphs">84</text></g>
<line x1="399.02" y1="569.40" x2="399.02" y2="572.00" stroke="#1a1a1a" stroke-width="0.9"/>
<g transform="translate(402.42,579.40) rotate(-45)"><text x="0" y="0" font-size="7.5" fill="#1a1a1a" stroke="#1a1a1a" stroke-width="0.18" text-anchor="end" textLength="8.30" lengthAdjust="spacingAndGlyphs">98</text></g>
<line x1="412.98" y1="569.40" x2="412.98" y2="572.00" stroke="#1a1a1a" stroke-width="0.9"/>
<g transform="translate(416.38,579.40) rotate(-45)"><text x="0" y="0" font-size="7.5" fill="#1a1a1a" stroke="#1a1a1a" stroke-width="0.18" text-anchor="end" textLength="12.60" lengthAdjust="spacingAndGlyphs">112</text></g>
<line x1="301.30" y1="494.50" x2="420.00" y2="494.50" stroke="#4f86bf" stroke-width="1.3"/>
<line x1="420.00" y1="494.50" x2="420.00" y2="496.60" stroke="#4f86bf" stroke-width="0.8"/>
<path d="M301.30,494.50 L339.50,494.50 L339.50,533.00 L343.80,533.00 L343.80,569.40" stroke="#d23a5c" stroke-width="1.4" fill="none" stroke-linejoin="round"/>
<line x1="301.30" y1="494.50" x2="339.50" y2="494.50" stroke="#22203a" stroke-width="1.4"/>
<line x1="356.30" y1="512.70" x2="365.00" y2="512.70" stroke="#d23a5c" stroke-width="1.0"/>
<line x1="360.60" y1="511.50" x2="360.60" y2="513.90" stroke="#d23a5c" stroke-width="0.7"/>
<text x="368.80" y="515.60" font-size="7.6" fill="#1a1a1a" stroke="#1a1a1a" stroke-width="0.15" textLength="56.80" lengthAdjust="spacingAndGlyphs">Untreated (N = 4)</text>
<line x1="356.30" y1="523.30" x2="365.00" y2="523.30" stroke="#4f86bf" stroke-width="1.0"/>
<line x1="360.60" y1="522.10" x2="360.60" y2="524.50" stroke="#4f86bf" stroke-width="0.7"/>
<text x="368.80" y="526.20" font-size="7.6" fill="#1a1a1a" stroke="#1a1a1a" stroke-width="0.15" textLength="63.20" lengthAdjust="spacingAndGlyphs">STRO–001 (N = 4)</text>
<text x="431.80" y="495.50" font-size="7.6" fill="#1a1a1a" stroke="#1a1a1a" stroke-width="0.15" textLength="50.00" lengthAdjust="spacingAndGlyphs">Median Survival</text>
<text x="446.80" y="504.40" font-size="7.6" fill="#1a1a1a" stroke="#1a1a1a" stroke-width="0.15" textLength="19.90" lengthAdjust="spacingAndGlyphs">(Days)</text>
<text x="452.80" y="515.40" font-size="7.6" fill="#1a1a1a" stroke="#1a1a1a" stroke-width="0.15" textLength="8.00" lengthAdjust="spacingAndGlyphs">41</text>
<text x="440.60" y="526.10" font-size="7.6" fill="#1a1a1a" stroke="#1a1a1a" stroke-width="0.15" textLength="32.30" lengthAdjust="spacingAndGlyphs">Undefined</text>
<line x1="477.50" y1="510.50" x2="477.50" y2="527.50" stroke="#1a1a1a" stroke-width="0.9"/>
<text x="480.20" y="521.00" font-size="6.5" fill="#1a1a1a" stroke="#1a1a1a" stroke-width="0.15" textLength="5.20" lengthAdjust="spacingAndGlyphs">**</text>
<text x="276.00" y="552.50" font-size="8.2" fill="#1a1a1a" stroke="#1a1a1a" stroke-width="0.38" textLength="46.50" lengthAdjust="spacingAndGlyphs" transform="rotate(-90 276.00 552.50)">Percent survival</text>
<text x="315.00" y="598.30" font-size="8.6" fill="#1a1a1a" stroke="#1a1a1a" stroke-width="0.38" textLength="84.50" lengthAdjust="spacingAndGlyphs">Days post leukemic injection</text>
</svg>
</body></html>
